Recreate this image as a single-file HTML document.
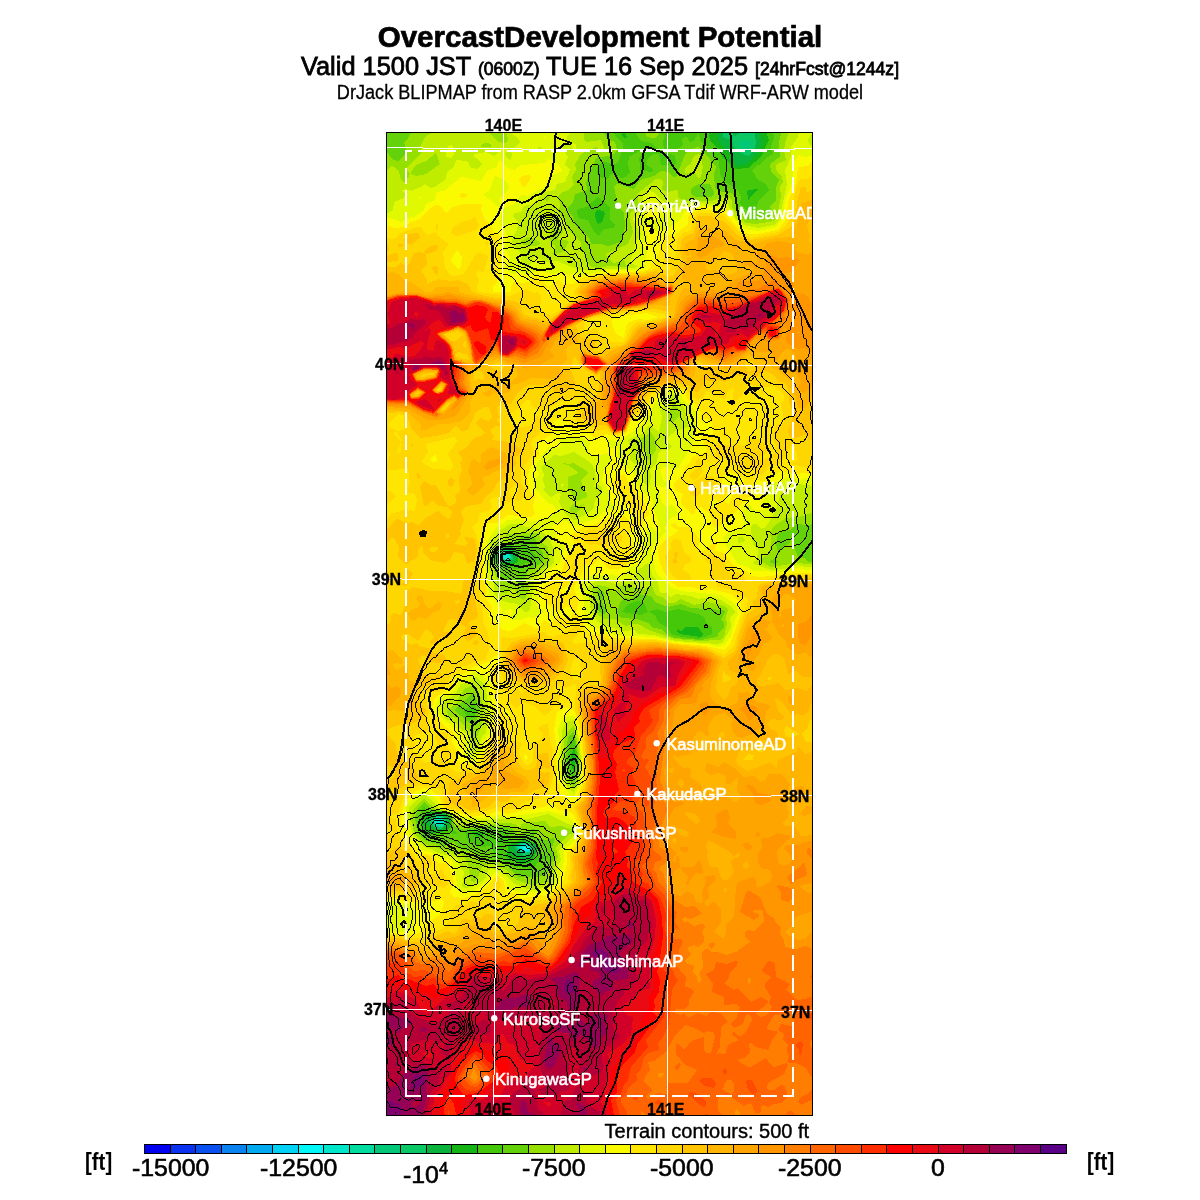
<!DOCTYPE html>
<html><head><meta charset="utf-8">
<style>
html,body{margin:0;padding:0;background:#fff;}
body{width:1200px;height:1200px;position:relative;overflow:hidden;font-family:"Liberation Sans",Arial,sans-serif;color:#000;}
.t{position:absolute;white-space:nowrap;line-height:1;}
#title{left:0;width:1200px;text-align:center;top:22px;font-size:30px;font-weight:bold;transform:scaleX(0.984);-webkit-text-stroke:0.7px #000;}
#sub{left:0;width:1200px;text-align:center;top:53px;font-size:26px;transform:scaleX(0.977);-webkit-text-stroke:0.8px #000;}
#sub small{font-size:18px;}
#sub2{left:0;width:1200px;text-align:center;top:82px;font-size:20px;transform:scaleX(0.906);-webkit-text-stroke:0.3px #000;}
#map{position:absolute;left:386px;top:132px;width:425px;height:982px;border:1px solid #000;background:#ffb400;overflow:hidden;}
#map svg{position:absolute;left:0;top:0;}
.lbl{font-size:16px;font-weight:bold;-webkit-text-stroke:0.3px #000;}
#cb{position:absolute;left:0;top:0;}
.cbl{font-size:24px;top:1156.2px;transform:scaleX(1.035);transform-origin:0 0;-webkit-text-stroke:0.6px #000;}
.ft{font-size:24px;font-weight:bold;top:1150.2px;transform:scaleX(0.85);transform-origin:0 0;}
</style></head>
<body>
<div class="t" id="title">OvercastDevelopment Potential</div>
<div class="t" id="sub">Valid 1500 JST <small>(0600Z)</small> TUE 16 Sep 2025 <small>[24hrFcst@1244z]</small></div>
<div class="t" id="sub2">DrJack BLIPMAP from RASP 2.0km GFSA Tdif WRF-ARW model</div>

<div id="map">
<svg width="425" height="982" viewBox="387 133 425 982">
<g shape-rendering="crispEdges">
<rect x="381" y="127" width="437" height="994" fill="#00f8f8"/>
<path fill="#00e6c8" fill-rule="evenodd" d="M816 1120l-436 0l1-993l435 0l0 993zM529 850l0-3l-3 0l-3 0l0 3l6 0z"/>
<path fill="#00dca0" fill-rule="evenodd" d="M816 1120l-435 0l0-993l435 0l0 993zM506 560l4-3l-2-4l-2-1l-4 2l0 3l4 3zM442 824l2-2l-3-4l-5 1l-3 3l3 3l6-1zM528 852l3-2l-3-5l-4-1l-5 3l3 5l6 0z"/>
<path fill="#00c878" fill-rule="evenodd" d="M816 1120l-435 0l0-993l435 0l0 993zM509 560l2-3l-3-6l-4 1l-3 2l0 3l3 3l5 0zM441 827l3-3l0-4l-3-3l-5 0l-4 5l4 4l5 1zM530 852l2-5l-4-3l-7 0l-4 3l4 6l9-1z"/>
<path fill="#0ac864" fill-rule="evenodd" d="M816 1120l-435 0l0-993l361 0l6 9l4-9l64 0l0 993zM750 150l1-6l-3-6l-2 3l-6 1l-2 2l3 3l7 4l2-1zM510 560l2-3l-4-7l-4 1l-4 3l0 3l4 4l6-1zM442 827l3-3l0-4l-4-4l-5 0l-6 6l6 6l6-1zM531 852l2-5l-5-4l-7 0l-6 4l6 7l7 0l3-2z"/>
<path fill="#0ab43c" fill-rule="evenodd" d="M816 1120l-435 0l0-993l342 0l0 10l8 3l5 11l12 5l6-6l2-6l-1-10l2-7l59 0l0 993zM738 135l-4 1l-3-4l0-5l7 0l2 5l-2 3zM513 560l0-3l-5-8l-4 1l-5 4l0 3l5 5l4 0l5-2zM444 827l3-7l-6-5l-5 0l-7 7l7 6l5 1l3-2zM529 854l3-2l1-5l-5-4l-7 0l-7 4l10 9l5-2z"/>
<path fill="#14b414" fill-rule="evenodd" d="M816 1120l-435 0l0-993l338 0l-1 13l6 8l9 9l2 7l3 2l10-3l10-11l4-8l0-4l-2-6l2-7l54 0l0 993zM514 562l2-2l0-5l-5-7l-7 0l-6 6l1 6l5 3l4 1l6-2zM574 764l0-9l-2 5l2 4zM442 830l7-6l1-7l-4-3l-12 0l-10 8l10 7l8 1zM527 860l8-10l1-3l-3-3l-9-3l-13 6l0 6l13 7l3 0z"/>
<path fill="#46c80a" fill-rule="evenodd" d="M816 1120l-435 0l0-993l327 0l1 10l2 5l7 7l6 10l4 2l4 6l4 2l12-1l13-11l8-17l-3-8l1-5l49 0l0 993zM627 137l-1-3l-2-1l-3 1l3 4l3-1zM749 202l1-5l8-8l-10 1l-1 2l2 10zM602 222l3-8l-1-3l-6-1l-3 2l0 5l3 7l4-2zM514 564l4-2l0-8l-1-2l-5-5l-12 0l-5 5l-1 5l5 7l9 2l6-2zM700 637l3-3l-5-7l-12 0l-5 4l-3-2l-1 3l2 2l21 3zM574 772l2-12l-2-13l-4 13l4 14l0-2zM440 832l6-1l5-4l0-10l-7-5l-13 0l-7 3l-3 7l3 10l4 2l12-2zM481 837l4-5l-13 0l2 3l7 2zM504 840l-3-3l-2 3l2 1l3-1zM531 862l6-10l1-5l-1-3l-13-4l-15 4l-3 13l15 7l10-2z"/>
<path fill="#64d20a" fill-rule="evenodd" d="M816 1120l-435 0l0-993l230 0l5 10l7 7l0 3l-5 16l-4 1l-10-2l-6 3l-1 9l4 4l7 1l3-5l3-1l7 5l5-1l4-5l-2-8l1-7l12-7l3 2l-5 5l1 10l0 3l4 1l7 1l3-2l-8-6l3-7l5-3l5 0l2 11l13 0l2-1l0-4l-2-5l-13-3l-1-2l-9-7l-10-2l-10-14l34 0l1 5l-3 10l1 7l2 2l8 0l7-4l2-3l-1-4l2-3l3 0l3 5l4-1l4-7l-10-7l16 0l-5 7l1 6l19 22l1 12l4 7l14 9l3 7l-1 7l8 8l8-3l2-7l11-12l-3-6l-8-4l-6-10l4-4l5-2l5-6l7-4l-2-7l3-10l-1-5l3-5l40 0l0 406l-3 4l3 11l0 36l0 536zM600 234l4-5l10-1l1-4l-5-4l0-13l-12-10l-12 10l-8 2l-1 3l1 5l3 2l7 1l6 12l4 4l2-2zM520 567l6-4l10-1l0-6l-5-5l-5-9l-4 0l-4 6l-7-3l-13 1l-5 6l0 8l5 7l20 2l2-2zM705 637l7-3l0-7l-5-3l-3-7l-6-3l-20-5l-12 3l-10-3l-8 3l-4-9l-6-2l-10 3l-6 8l19 3l7-3l3 1l5 3l2 6l10 6l3 6l5 2l22 3l7-2zM474 717l3-7l-3-6l-10 6l1 4l3 3l6 1l0-1zM574 780l4-20l-4-23l-4 7l-3 16l2 12l5 9l0-1zM434 837l7-1l7-3l7 1l3-2l-7-2l1-3l0-10l-6-5l-15-2l-3 2l-4-6l-5 11l1 15l6 6l8-1zM535 867l3-5l11-5l-1-1l-7 0l-2-2l1-7l-4-5l-12-4l-10 3l-4-1l-2-8l-8-2l-9 1l-15-2l-11 3l2 8l3 2l11 5l10-1l5 11l18 9l17 3l4-2z"/>
<path fill="#96e000" fill-rule="evenodd" d="M816 1120l-435 0l0-969l5 0l7 9l5 1l8-7l0-4l-2-8l4-4l3-5l5-1l2-5l176 0l2 4l8 2l4 6l7 3l2 8l-6 6l-13 1l-2 1l-10 24l1 8l-12 4l-2 8l-5 5l0 3l5 7l1 7l15 13l2 7l10 0l7 2l13-4l4-15l-1-15l-3-2l-4-10l-3-13l2-3l2 0l16 5l6-9l14-4l7-5l7 1l6 5l2 0l8-20l4-7l10-3l11 10l2 5l5 5l-2 7l1 13l3 4l13 2l5 4l0 10l8 6l3 7l9 0l12-3l5-5l-3-5l6-7l0-13l3-7l-8-8l-1-8l10-7l-1-15l4-15l33 0l0 397l-10 1l-8-1l-2 0l-5 6l-7 0l-6 4l-2 10l2 8l3-1l3-4l5-3l2-5l3 0l0 8l4 10l6 1l4 4l8 0l0 558zM656 138l-5 0l-5-2l-2-9l17 0l-1 5l-4 6zM711 197l3-3l0-2l-4-8l-11 0l-6 3l-2 3l0 4l5 3l15 0zM524 590l0-10l4-9l15-9l0-10l-6-5l-1-7l-2-3l-10-1l-10 6l-16 2l-6 8l0 5l9 21l3 2l12 1l4 3l4 7l0-1zM778 562l-2-3l-2 0l-5 3l5 2l4-2zM607 612l-5-10l2-5l0-5l-6-2l-1 2l3 10l-2 2l0 7l6 3l3-2zM702 640l14-3l2-2l1-3l5-5l0-4l-3-3l4-8l-1-2l-33-2l-10-4l-13 3l-13-5l-4-6l-13-2l-7 5l-7-1l-3 3l-4 11l4 6l15 1l12 4l6 5l7 1l5 5l8 4l28 2zM474 727l6-17l-6-18l-20 18l20 17zM574 784l5-24l-5-28l-6 5l-3 23l3 17l4 7l2 2l0-2zM535 877l11-2l2-3l6-15l-2-10l2-5l0-4l-8 2l-14-3l6-5l-4-3l-6 1l-10 6l-2-4l-8-5l-27-1l-17 3l-8-1l-2-2l-1-9l-7-6l-14-1l-8-8l-5 5l-4 10l1 7l1 8l7 8l20 6l4-1l6-3l7 8l10 1l10 8l13 1l12 5l12 12l17 0z"/>
<path fill="#c0ec00" fill-rule="evenodd" d="M816 1120l-435 0l0-948l5-1l5-5l3 1l5 5l2 8l3 2l2-1l4-7l-4-4l1-3l15-15l-2-5l5-10l8-5l-1-5l54 0l2 5l10 10l6 1l3-1l1-2l-1-6l-6-3l-3-4l91 0l-5 5l0 8l2 2l15-2l4 10l-4 0l-5-3l-2 1l-13 6l-6 10l1 6l-4 7l2 8l-6 5l-6 2l-4 5l2 7l-1 8l11 20l11 10l0 8l3 3l2 9l5 5l7 1l10-2l19 1l-3-7l-10 3l-7-6l-1-3l22-10l5-12l-4-15l2-5l8-5l-2-13l19-15l5 0l2 3l-1 8l6 2l8-2l2 2l0 5l6 4l27 0l15-5l6 4l0 7l10 13l4 3l10 1l18-3l3-4l4-20l-1-10l3-5l-1-5l-5-5l-1-5l1-3l9-4l-2-10l2-10l3-8l0-5l27 0l0 369l-4 4l1 12l-9 4l-18 2l-12 8l-4 6l1 8l-1 12l-2 3l-5 2l-1 3l0 2l9 5l27-4l18 2l0 555zM654 130l-4-3l7 0l-3 3zM491 147l0-3l-5-1l-4 1l-1 3l10 0zM426 174l14-10l-4-11l-10 8l-10 4l-5 7l0 2l5 2l10-2zM701 177l-3 1l-4-7l-8 3l-2-2l2-5l5-3l2-7l5-3l3 3l2 10l-2 10zM549 200l1-3l-2-1l-3 1l1 4l3-1zM555 254l8-2l6-10l-3-2l-8 0l1-3l4-5l-1-2l-6-3l-5 3l-2 7l2 5l4 5l-1 6l-4 1l5 0zM540 244l0-2l-2-1l-10-4l-8 5l4 3l12 1l4-2zM674 422l7-8l-2-4l-5-7l-7 14l1 5l6 0zM649 460l7-10l1-8l-6-10l-12 8l0 2l2 5l5 5l1 8l2 0zM580 500l7-3l0-3l-3-4l-3-10l7-6l0-2l-14-9l-6 1l-4-1l-2 1l6 1l10 7l-2 2l-8 3l0 13l4 4l2 8l6-2zM574 514l4-2l6-8l-6 2l-4-3l-4 4l0 5l4 2zM524 600l2-3l3-7l0-10l21-18l-2-15l-7-5l-2-8l-3-1l-29 1l-2 3l1 3l-2 1l-6-1l-7 12l0 8l6 20l1 10l3 3l5 0l8-5l4 9l6 3zM720 640l4-3l3-13l-1-7l2-7l-4-4l-16-4l-14 3l-13-6l-7 4l-6 0l-4-5l-8-3l-5-11l-5 5l-10-1l-10-4l-7 3l-5 5l-6-5l-10-2l-4 2l-2 3l3 22l9 7l10 0l12 7l8-2l4 0l13 7l25 8l22 2l22-1zM476 740l5-13l3-20l-6-17l-4-5l-10 4l-8 15l-9 6l1 6l8 2l15 14l3 10l2-2zM575 787l3-7l2-20l-3-20l-3-14l-9 8l-2 26l1 12l3 10l7 7l1-2zM538 884l10-2l3-2l3-16l4-7l-2-10l13-13l5-1l0-3l-13-4l-10 1l-4-3l-1-3l-2 0l-20 2l-3 1l0 3l-3 1l-2-4l-8-1l-52 2l-5-11l-5-3l-9-1l-13-11l-9 8l-3 7l-1 6l3 12l4 6l6 6l40 12l4 8l3 17l3 1l3-2l5-13l9-4l15 7l10 10l15 5l7-1z"/>
<path fill="#e0f800" fill-rule="evenodd" d="M446 132l-2 0l-3-5l9 0l-2 4l-2 1zM816 1120l-435 0l0-201l7-2l2-3l-9-3l0-715l3 8l0 8l4 1l5-3l1-8l10-4l1-4l-3-4l4-1l5 2l10-4l3-3l7 4l4-1l11-8l1-7l7-5l2-7l10 1l2 1l3 6l7 1l4-5l-4-5l-4-2l0-3l12-2l8 4l2-1l5-7l3 0l4 2l-3 4l3 5l3 1l1-6l-2-4l8-5l2-3l-2-4l-6-4l0-7l6 0l3 2l5-1l47-1l0 3l-6 7l1 5l-4 2l-2 3l6 10l-3 7l5 6l-5 12l-8 2l-2 6l-11 2l-11 12l-9 2l-3 6l-7 1l-1 4l5 5l0 2l-1 6l-4 7l-1 5l2 5l8 7l-1 8l3 5l5 0l5-10l2-1l8 6l14-1l13 6l10 3l43-1l15-2l-8-4l-1-3l4-8l1-10l6-8l-8-14l1-3l9-10l0-10l5-6l6 1l9 10l8 6l13-2l10-3l22 1l8-3l2 1l11 18l7 5l14 3l16-3l5-5l8-36l-2-14l6-13l0-10l7-10l2-10l16 0l0 4l-5 3l-3 6l1 4l7 6l0 334l-2 2l-16-2l-6 3l-4 6l-7 0l-6 19l-9 15l-5 2l-5-5l-2 0l-3 2l0 4l2 14l5 6l-1 10l-4 2l1 2l17 6l13-1l14-4l8 2l10 0l0 553zM574 150l-3-7l5 1l0 4l-2 2zM451 158l-5-1l0-3l2-8l3-1l2 2l1 7l-3 4zM542 147l-4 0l0 2l3 0l1-2zM649 487l2-10l-1-7l7-8l1-8l3-4l7 0l4-3l-5-7l1-3l8-6l13-4l-5-20l-10-14l-4 4l-4 8l-6 5l2 7l-3 15l-8-6l-3 0l-4 7l-16 7l3 10l-1 10l4 4l5 0l3 3l3 5l-2 10l6 5zM576 520l12-7l6-6l1-7l6-5l1-8l-4-2l-4 2l2-7l-1-10l-3-6l-8-6l-10-6l-13 4l-7-1l-13 12l3 7l-1 6l2 7l-2 3l8 7l7-4l3 1l-2 8l6 12l9 6l2 0zM561 488l0-4l3 0l-3 4zM816 490l-1-3l1-2l0 5zM784 508l-5-1l0-3l6 3l-1 1zM527 612l3-2l4-28l7-10l8-5l5-5l-1-15l-3-7l-9-10l-15-3l-8-3l-7 0l-11 6l-10 14l-2 18l1 8l5 11l0 11l4 7l8 3l12 2l6 8l3 0zM744 542l1-2l-2-3l-5 0l0 6l6-1zM723 642l8-15l-1-10l5-5l-3-5l-11-7l-10-3l-13 2l-7-3l-15-2l-5 3l-5-4l-5 0l-2-3l-1-8l-5-5l-5-14l-10 7l-2 2l0 5l-2 2l-18 5l-18-5l-10 8l3 25l7 10l8 4l18 5l10-1l5 4l15 1l22 6l42 3l5-2zM477 752l5-15l4-5l3-22l-4-26l-9-7l-7 5l-8 2l-5 9l-14 11l0 6l4 9l10 4l5 7l7 4l3 18l3 2l3-2zM574 792l6-10l1-22l-2-20l-5-20l-8 2l-4 8l-1 30l4 22l3 6l6 5l0-1zM535 890l13-4l7-4l2-15l4-7l-2-10l15-14l2-4l-2-6l-6-2l-20-10l-20 5l-72 1l-4-6l-6-4l-8-2l-2-4l-12-10l-15 13l-1 13l5 14l11 13l7 2l7 4l17 4l3 3l2 7l4 5l-2 15l4 1l8-2l7-4l5-5l2-7l3-1l10 2l7 6l6 7l7 2l5 3l9 1zM394 907l-5 0l2 1l3-1z"/>
<path fill="#fafa00" fill-rule="evenodd" d="M546 140l-3-3l3-1l0 4zM816 1120l-435 0l0-189l27 1l5-2l0-8l3-8l-4-7l-4-3l-4 1l-13-4l-10 4l0-688l13 2l7 3l7-4l6-1l10-7l2-6l9-4l1-8l8-1l17-14l20 4l7-11l9-3l1-6l3-1l5 7l8 3l7-5l23-2l4-4l3 1l5 2l6 8l-2 2l-9 4l-6 11l-9 4l-8 5l-7-1l-7 9l-10 4l-3-2l-2-6l2-4l6-4l2-5l-2-5l-3-2l-8-4l-2 1l-4 13l-7 4l19 16l-2 14l5 6l2 7l0 5l-3 5l6 10l-3 10l1 5l6 2l7-2l7 3l6-3l7-2l10 4l13-2l4 3l6-2l10 2l24-5l28 0l10-3l-3-5l3-5l1-5l-6-8l5-2l2-5l-4-10l4-2l8 6l10-1l14-10l4-8l14-6l26 1l20 22l14 2l18-4l7-10l2-17l8-18l0-8l-1-7l2-5l4-7l6 2l7-1l5 1l0 321l-10 0l-5 2l-15-2l-8 5l-4-1l-3 2l-7 6l3 7l-6 5l4 5l0 3l-11 0l-6-6l-6 10l2 8l0 4l-6 4l-10 2l-5 5l2 7l13 20l8 2l8 5l30 1l14-4l8 2l10 0l0 550zM421 200l-3-3l3-1l0 4zM656 220l-8-2l-3-4l3-11l3-2l8 3l4 6l-5 9l-2 1zM725 644l6-8l4-16l3-6l-1-7l-6-6l-10-6l-40-4l-11-4l-14-15l-5-20l3-9l12-11l-1-5l3-7l3-2l8-4l-5-8l-3-2l-3 4l-7-6l-1-8l-4-3l0-5l10 1l2-3l-5-4l-3-10l4-3l10 3l4-2l15-24l1-10l3-7l-3-7l2-6l-2-4l-9-8l-6-10l-6-2l-6 2l-9 8l-6 7l0 5l-6 5l-3 7l-19 14l-6 3l-10-1l1 7l2 1l5-1l2 3l-1 7l19 20l2 10l15 13l0 7l8 23l-3 3l-2-1l-5-5l-3 0l-3 10l-4 4l2 9l-3 12l-2 3l-7 2l-13 10l-5-3l-9 2l-6-2l-7 2l-10 7l-2 4l5 13l0 12l3 10l4 5l10 2l13 6l40 2l22 5l32 2l10 3l7-3zM519 620l9-3l6 1l10-6l0-2l-6-2l-2-2l3-12l-2-7l9-15l13-8l5-14l0-8l-3-1l-3 4l-2-5l0-8l-5-5l5-5l5-1l5 0l8 5l4-1l8-3l10-3l10-9l7 0l2-3l-5-7l-2-10l-6-10l3-13l8-7l-1-3l-6-4l-10 4l-5-2l-3-3l2-8l-1-2l-5-3l-13-3l-10 2l-2 2l2 7l-5 1l-8-1l-13 20l4 7l-1 3l-5 3l1 7l13 15l8 5l2 5l-16 9l-15 0l-8-2l-10 1l-14 10l-7 12l-2 20l4 32l14 16l-1 4l2 2l3-2l-3-2l1-2l6-1l2 3l-3 5l4 3l5 0zM618 449l-1-2l1-1l0 3zM475 760l8-13l1-7l5-6l1-10l5-14l-4-13l-3-15l-4-7l-8-3l-2 0l-6 5l-10 5l-4 9l-16 9l-2 10l8 10l10 6l10 12l1 9l-1 7l1 3l9 4l1-1zM574 797l7-15l1-25l-6-37l-2-4l-8 0l-5 5l-3 9l2 20l-2 10l2 17l11 20l3 2l0-2zM536 892l12-2l11-8l1-8l4-12l0-12l10-8l4-10l-4-10l-6-5l-20-6l-40 6l-10-2l-7 3l-20 0l-13-2l-18-9l-2-6l-10-9l-4-1l-8 4l-10 11l0 18l4 13l11 13l10 2l10 6l11 2l4 14l1 13l1 4l6 2l10-2l14-11l6-7l4 0l8 7l2 7l3 2l13 4l12-1z"/>
<path fill="#ffe600" fill-rule="evenodd" d="M816 1120l-435 0l0-186l20 0l7 1l13-2l3-6l6-3l2-4l9-6l3-12l-3-4l-5 3l-8 0l-4 2l-20-2l-10-3l-13 4l0-672l6 0l1-5l6 3l11-1l6-5l7-2l13-12l5-3l5 1l5 7l7-6l11-3l18 0l-1 6l4 10l6 4l3 8l7 5l-6 10l7 7l-4 18l-1 10l-4 5l0 5l18 0l0-5l3-6l7 2l7-1l8-5l5 1l7 9l10-7l6 4l10 0l4-5l18-5l42-2l9-2l4-3l0-3l5-4l8-23l4-2l6 1l7-7l7-4l0-8l2-3l11-5l23 3l17 19l7 3l8 0l22-4l10-13l0-15l8-19l2-16l10-1l3-4l5-1l0 314l-12-2l-8 1l-15-3l-17 10l-8-1l-2 3l-4 14l-6 3l-8 12l-10 7l-3 5l-6 3l-3 0l-2-3l-2-10l-9-7l-5 2l-2 5l-3 0l-10-10l0-4l2-6l-8-4l-1-6l9-10l2-7l5-5l2-5l14-5l1-2l-6-13l3-2l7 2l2-3l-1-10l-4-5l-8 1l2-6l-6-10l-8-4l-4-9l-8-3l-8 0l-13 9l-7 7l-4 10l-13 7l-4 11l-6 4l-7 0l-8-2l-10 4l-5-3l-3-4l-10 0l-2-1l-5-7l-13-4l-4 2l-2 13l-16 10l3 10l-7 10l-5 13l3 15l5 5l-2 10l2 7l-4 3l-23-2l-12 8l-8 0l-7 11l2 10l0 36l4 10l-2 7l7 10l-4 10l3 3l5 2l5 7l7 2l3 0l13-8l12 5l3-1l5-7l7 4l7-10l2 3l4 1l4 1l3-1l2-6l-2-4l-5-1l-8 5l-13-10l-2-15l5-5l3-8l11-4l6-17l7-6l-1-5l-4-5l1-3l15-8l10-2l15-7l7 3l6-5l7 8l3-3l0-3l-4-5l1-6l-7-2l-6-14l-5-6l0-2l5-7l6 0l2 2l3 7l14 16l6 12l0 2l-5 6l-1 4l-2 3l-7 0l-5 5l4 20l-2 10l-7 5l-6 2l-10 0l-7-10l-3 1l-7 6l-5-2l-2 1l-2 9l-8 13l1 5l4 8l-3 12l12 21l6 2l10-2l10 5l42 1l18 4l32 3l18 4l6-6l11-30l0-10l-10-10l-20-5l-7 1l-13-3l-13 0l-9-7l-6-10l-4-10l-1-13l7-7l12-8l1-2l-6-3l-1-3l3-1l4 4l12 0l10 13l-2 7l3 4l6-1l4-6l5-1l1 1l-3 6l10 3l10 13l12 5l5 5l10 1l35-4l20 0l0 547zM524 188l-5-8l2-3l8-3l2 3l-1 3l-6 8zM464 198l-5-1l2-4l7 1l-4 4zM461 267l1-10l-4-6l-2 0l-5 9l5 7l2 2l3-2zM550 292l-2-5l-1 5l1 2l2-2zM624 337l3-13l1-1l10-4l10 1l11-3l-13-4l-33 4l-1 7l4 10l8 4l0-1zM740 430l1-3l-5 0l0 3l2 1l2-1zM436 462l1-2l-1-5l-2 0l-4 5l2 2l4 0zM740 487l3-3l1-4l-3-4l-10-3l-5 0l-4 4l0 5l4 6l14-1zM729 504l4-10l-5-2l-2 2l-1 6l1 3l3 1zM716 507l2-5l-2-3l-4 1l-3 2l2 5l3 2l2-2zM568 594l3-4l-3-4l-8 4l4 5l2 1l2-2zM477 764l10-17l1-7l5-6l0-7l4-5l3-12l-10-36l2-7l6-3l0-9l-4 1l-6 6l-14 5l-10 7l-8 1l-4 12l-16 10l-3 5l-1 8l2 3l10 13l9 6l-1 10l6 10l-1 8l4 3l5 0l8 3l3-2zM575 802l8-20l0-25l-5-37l-4-9l-8-4l-9 5l-3 18l3 20l-2 7l2 10l-1 13l4 7l0 7l11 10l4-2zM510 717l1-3l-3-4l-4-2l-2 2l4 7l4 0zM527 760l1-4l-3-2l-1 3l1 3l2 0zM532 897l6-2l8 1l17-14l4-18l0-12l7-6l6-14l-6-17l-6-4l-10-1l-3-3l-1-4l-3 0l-7 4l-20 3l-16 4l-10-3l-10 4l-17 1l-20-5l-8-4l-3-10l-9-7l-7-2l-10 4l-8 8l-3 7l-2 13l0 7l5 13l8 7l4 7l10 0l6 3l4 6l10 0l6 19l-4 10l4 5l10 1l12-4l10-6l8-10l4-2l6 6l2 11l8 0l7 5l11-1z"/>
<path fill="#ffd700" fill-rule="evenodd" d="M388 817l-2-3l2-15l-2 1l-1 4l-4 2l0-289l5 5l5-9l8-1l7-3l8 2l1-1l2-10l-2-6l-8-2l3-10l-2-13l-20 1l-7 6l0-6l5-3l4-13l-4-6l-5-1l0-29l3-4l-3 0l0-175l5-1l8 1l5-5l17-7l5 0l5 7l2 1l8-3l0-8l2 0l0 5l-2 3l3 5l10 7l-6 8l2 15l4 7l5 2l10-2l12-20l2-1l8 1l2 3l-4 15l-6-1l-2 3l3 6l-2 7l1 5l33 4l15-7l8 4l4-1l3 4l0 6l-3 8l7 4l6 1l6-3l14-11l5-1l-2-8l1-2l6-8l10-4l17-4l33-1l17-5l8 2l4 0l1-4l-7-4l0-5l4-1l6 3l3-7l0-10l2-5l5-5l7-1l3-14l4-4l13 0l13 3l17 18l10 4l27-6l7-5l6-10l1-13l6-21l3-4l7 0l8-3l0 294l-26-6l8-4l-4-16l-3 1l-5 11l-5 4l-1 4l-12 2l-3 6l-4 3l-4-3l-3-6l-6 4l-7 0l-5-3l0-6l-5 1l-5-4l-8 0l-2-4l-1-10l1-1l10 2l12 0l6 1l2-1l2-6l10 0l7 5l2 6l-1 4l-7 3l2 3l5-2l8-4l3-7l-5-10l3-10l1-2l8-2l0-3l-3-16l3-4l0-5l-5-5l-5-4l-8 1l-18-2l-4 6l-3 6l-7 5l0 5l-2-3l2-16l-6 2l-2 7l-2 2l-5-2l-5-5l-8-1l-2 6l-6 3l-6-3l-6-9l-12-2l-6 1l-15 5l-12 20l-7 2l-9 18l-11 3l-8-6l-10 2l-8-6l-10-2l-3-6l3-14l5-6l-2-2l-5 4l-8 0l-7 2l-17 10l-10-3l-3-4l0-3l-2-1l-3 0l-6 7l-8 5l-3 5l2 7l7 3l13-1l3-4l2-6l2 0l2 4l0 14l-6 4l-3 4l2 12l-12 16l0 12l5 9l-1 6l-7 4l-4-1l2-2l2-11l-2-2l-2 0l-5 5l0 2l4 8l-9 4l-3-2l-3-6l-7 3l-1 3l2 5l-4 4l-7 1l-2 2l-1 8l-6 5l3 5l5 15l-3 25l1 12l3 6l-1 7l1 10l2 5l0 10l5 10l2 15l-5 13l-11 2l-8 4l-10 1l-5 7l-3 9l-4 3l-3 4l-3 2l-10 0l-3 2l4 18l-2 8l1 10l-14 6l-1 4l2 4l-2 8l11 11l17-4l3-2l-9-20l3-4l6-1l5 2l-4 8l0 2l6 8l-4 8l2 7l9 6l8-4l10 1l4-3l6-13l6-7l6-18l8 11l14 2l2 2l-3 6l0 4l5 10l4 1l5-5l1-16l6-4l3-6l-4-4l0-3l9-4l2 19l3 8l-1 7l2 10l-1 10l-4 15l-11 7l-12 2l-10 7l-10 2l-8-3l-12 4l-15 2l-7-3l-16-1l-2-2l-5-18l-20-4l-10 3l-7 7l-6 19l-7 0l-3 3zM458 236l-2 0l-5-3l2-6l11-6l7-1l3-4l5 8l-1 4l-4 3l-16 5zM488 247l-3-3l1-3l2 2l0 4zM624 342l7-15l3-3l4-2l13-1l13-3l2-1l-1-3l-17-3l-24 2l-28 4l-12 5l0 9l2 2l8-5l2 0l5 7l5 2l4 5l14 0zM764 395l-3-1l0-3l3 0l0 4zM748 412l-7 1l-2-1l5-2l4 2zM401 452l0-10l1-2l-5-8l7-3l0-7l0-6l-6-2l-10 10l3 5l6 1l-4 4l8 8l-4 10l1 2l3-2zM726 437l-2 0l-3-3l5-1l1 1l-1 3zM451 470l2-3l0-3l-5-10l10-14l-4-3l-28 7l2 8l-6 10l2 2l10 5l17 1zM694 480l-3-1l-1-5l5-4l1-10l2-1l4 3l0 10l-4 6l-4 2zM711 462l-4 0l1-2l3 2zM788 464l-1-2l1-1l0 3zM698 496l-4 0l-4-2l-1-4l5-8l10-6l10 1l2 3l0 6l-12 2l-6 8zM384 507l-3 1l0-18l10 1l5 6l-12 10zM606 547l-10-3l-8 1l-7-8l7-7l13 0l5-3l8 7l7 1l2 2l-2 5l-3 1l-4-2l-8 6zM688 581l-10 0l-7-7l-6-17l6-9l0-6l3-3l7 1l3 12l7 5l0 5l-6 2l-2 6l7 4l1 6l-3 1zM816 1120l-435 0l0-184l20 0l7 2l16 0l4-4l16-6l6-8l0-8l6-7l8 0l7-4l7 2l6-7l12 0l3 4l7 2l2 4l3 1l7-5l8 0l12-2l10 0l6-7l15-11l-1-5l2-10l0-13l6-8l6-14l-8-25l5-7l6-18l-2-38l-4-24l-4-10l1-25l-2-1l-8 4l-2 0l-3-4l-5 1l-3 5l7 4l0 3l-2 5l-10 12l-4 1l-10-9l-10-4l-3 1l-3 5l-4-1l-6-7l4-6l2-4l4-2l3 5l3-1l-3-5l-7-3l-4 0l1 6l-3 1l-4-1l1-8l-5-10l2-10l-1-25l10 1l33-6l4 4l6 1l14-6l8-6l2 0l3 5l-3 4l-6 6l2 4l20-2l10-5l7 3l43 0l20 4l32 3l18 8l10-9l6-22l7-17l1-7l-1-3l-9-2l-4-5l-17-3l-1-6l-6-4l-1-3l5-7l-7-5l-2-2l1-3l5-3l10 3l4 5l3 9l13 2l7 9l43-6l25-1l0 545zM574 571l-3-4l5-10l2-2l1 2l-5 14zM624 562l-6 2l-4-2l2-3l2 0l6 0l0 3zM580 680l2-3l-2-13l3-4l-7-2l-2 1l-4 11l4 10l6 0zM414 897l-10 0l-8-3l-15 4l0-63l3-1l7 0l2-2l-7-8l-5 4l0-10l5-3l2 3l8 1l1 11l5 12l8 8l6 11l5 0l3-4l4-1l3 2l1 6l-6 6l0 5l2 1l3-2l7 0l3-6l2 2l1 4l6 8l-2 3l-4 3l-18-4l-4 3l-4 7l-4 3zM498 893l-5-9l5-5l3 5l-3 9zM507 924l-3-2l-3 2l5 2l1-2z"/>
<path fill="#ffc300" fill-rule="evenodd" d="M471 562l-3 2l-2-3l-2-7l-10-2l-4 8l-6 3l-10-2l-4-1l-7-8l0-5l-2-1l-3 4l0 7l-12 7l-8-7l1-10l-5-9l-3 0l-4 4l0 8l-6 4l0-26l5 2l2-1l8-10l2 0l8 4l7-1l5 3l9-8l11-6l10 8l3-2l1-5l-4-5l-10-1l-4-5l-3 0l-5 5l-2 0l-4-19l4-6l7 4l5 0l12 21l3 0l6-4l-2-5l1-3l4-2l-1-15l3-7l-2-8l3-2l-5-8l8-4l8-10l7-2l4-4l-9-8l2-4l3-2l7 3l4-4l-3-10l-5 0l-8 5l-8 18l-7 1l-5-5l-8 7l-12 3l-15 2l-9-8l-6-17l-8-1l-7 1l-10-2l0-145l15 1l5-4l5 3l3-2l4-10l5-2l6 1l2 1l1 10l-6 6l6 10l0 4l11-5l13 2l7-1l10 4l4 8l9 3l37 7l6 13l22 6l5-2l20-16l8-3l2-3l-4-5l1-2l4-6l9-4l17-5l33 0l15-4l12 6l6-2l8-15l-2-8l1-10l3-5l10-4l4-17l13 0l7 4l6 1l14 15l13 4l27-5l13-8l5-13l1-12l4-15l5 0l0 6l10-5l0 253l-7-1l-5-5l-8 3l-6-1l-2-5l6-18l-5-12l-1-15l-2-3l-8-3l-4-6l-8-4l-5 1l-5 5l-2 0l-6-4l-1 1l-6 2l-10-2l-3 6l-4 2l-6-2l-4 2l-8-2l-8 12l-3 0l-7-7l-12-1l-8 1l-10 4l-7 0l-13 19l-4 3l-8 19l-2 2l-10 2l-8-9l-8 0l-14-5l-2-3l0-3l8-10l4-7l4-3l2-20l-4 1l-12-6l-10-13l-3 14l5 14l-1 3l-19 6l-5-5l-10-3l-13 0l-10 7l-7 12l-10-1l-4 4l2 10l-3 3l5 4l0 3l-5-1l-6 4l4 7l-2 3l19 2l13 10l-9 5l1 7l-13 16l-5 2l-6 10l-6 4l-5 8l-15 2l-4 4l-1 2l3 8l-4 12l1 2l-4 6l-2 4l11 2l1-4l-3-5l10 1l3 12l-3 12l-3 0zM411 245l-3-1l-1-2l1-8l10-1l2 4l-2 3l-7 5zM386 252l-5-1l0-7l5-1l2 1l1 6l-3 2zM401 247l-3 0l0-3l6 0l-3 3zM431 253l-5 1l-2-2l4-5l8-2l2 2l-1 3l-6 3zM386 262l-3-2l3-4l10-3l2 2l0 6l-12 1zM436 275l-5-8l5-1l2 2l0 6l-2 1zM603 352l5-4l16-3l4-5l5-10l5-5l18-3l14-5l-1-5l-13-3l-42 3l-23 5l-14 7l-1 3l5 11l15 2l-1 7l-5 5l11 1l2-1zM457 340l6-6l-5-3l-13 3l1 3l5 4l3 0l3-1zM466 347l0-7l-2 2l-1 2l1 3l2 1l0-1zM469 360l-1-5l-10-3l-2 2l0 3l13 3zM499 372l5-5l-2-3l-4-2l-6 2l-1 3l8 5zM703 367l0-3l-5-3l-1 3l1 5l5-2zM755 370l1-3l-3-5l-5-2l-2 2l-1 2l3 8l7-2zM484 380l0-6l-5-4l-5 2l0 9l4-2l6 1zM716 372l-2-2l-1 2l3 0zM424 377l2-2l8 0l0-2l-11 1l-3 3l4 0zM442 390l-1-5l-5 5l2 1l4-1zM419 394l-1-2l-3 2l4 0zM445 410l6-8l-5 2l-5 6l4 0zM414 445l-3 1l0-2l3 1zM418 479l-2-5l2-2l3 5l-3 2zM454 485l-3 2l-3-2l0-5l3-2l4 2l-1 5zM450 537l-1-3l-3 0l0 4l4-1zM601 540l-4 0l-2-3l7 0l-1 3zM434 552l4-2l0-3l-7 0l-2 3l2 2l3 0zM678 562l-4 2l-2-2l3-5l-1-3l2-3l2 3l-2 6l2 2zM384 585l-3 1l0-17l5-1l2 3l2 6l-2 5l-4 3zM406 585l-2 1l-3-2l7-4l-3-6l1-3l2-1l4 2l1 2l-4 6l-1 4l-2 1zM404 733l-3-3l1-3l-1-3l-15 6l-5-7l0-101l7 2l3-2l0-8l3-1l7 2l5-11l0-12l7-5l18 4l15 0l15 3l3-14l2-2l2 1l6-2l0 9l-3 1l-3 5l6 3l4 19l-2 5l-5 1l-3 4l7 6l2 4l-2 3l-7 4l-2-1l-3-3l3-10l-10-7l-5-1l-3 1l-5 12l10 0l-5 7l-7-3l-5 7l-5 1l-1-2l4-5l-3-5l-5-3l-8 12l-10-7l-4 0l-4 3l11 8l5-2l5 4l7 1l6 5l10 2l3 5l-3 3l-6 0l-7-1l-7-7l-4 2l-2 3l3 7l-2 5l2 2l13 4l4-5l3 1l1 3l-11 7l-10 5l-2 13l7 8l-1 4l-7 7l-7 3l-5 8l-2 1zM816 1120l-435 0l0-13l0-168l20-1l10 4l15 1l8-6l14-6l6 3l2-1l2-3l2-8l4-3l7 1l5-4l5 2l5-4l5 0l4 3l-4 7l6 6l4 1l7 0l10-7l3-14l7 0l3-3l7-3l10-1l6-6l19-15l-2-5l2-10l-1-10l5-7l7-18l-8-25l6-7l4-16l1-10l-2-30l-4-27l-3-7l1-13l2-5l5-5l5-2l7 1l2-2l1-4l-1-13l5-20l9-4l42-1l50 7l18 9l10-6l2-4l3-14l8-20l7-4l-1-8l4-5l1-10l2-3l16-3l40-3l0 142l-6 0l-2 7l-6 7l4 8l10 1l0 377zM460 602l-2-2l-4 2l2 2l4-2zM384 615l-3 1l0-9l5 0l2 3l0 2l-4 3zM538 688l-4-4l-16-2l-14-12l1-18l6-9l10-4l15-2l10 4l15 1l3 2l4 16l-5 12l-15 12l-8 0l-2 4zM476 645l-4-1l2-3l2-1l3 2l-3 3zM724 684l0-2l7-2l0-3l-6-3l-1-5l-2 8l2 7zM771 680l1-3l-4 0l0 3l3 0zM792 737l8-3l-14-8l-2 4l2 7l6 0zM388 790l-7 1l0-3l5-6l9-5l0-5l-1-4l-3-2l-10 1l0-13l0-10l5-7l2-1l7 6l2 12l4 4l9 4l8 15l-2 5l-8 1l-7 5l-7 0l-6 2zM476 810l-8 0l-7-5l-5 1l-8-5l1-17l2-3l5 0l12-8l8 0l5-2l6-7l1-7l6-5l4-10l8 4l7 1l1 10l7 10l5 3l5 0l5-3l2-13l8-1l2-1l2 15l-2 2l-4-2l-4 3l1 2l3 1l4-1l2 2l-1 8l-3 5l-12 3l-2 2l-8 4l-13 1l-5 5l-12-1l-5 6l-13 3zM762 752l2-5l-3-3l-4 6l1 2l4 0zM753 760l1-5l-6-1l-5 6l10 0zM408 892l-12-1l-15 3l0-37l5 0l3-5l9-5l5 3l4 4l1 3l-2 1l-2-1l0 4l14 13l4 6l-1 2l-7 8l-6 2zM441 883l-3-1l4 0l-1 1z"/>
<path fill="#ffb400" fill-rule="evenodd" d="M616 433l-2 1l-3-2l-7-14l-6 3l-7-3l-2-4l7-4l0-6l5-6l2-26l-2-1l-5 3l-12-7l-4-5l1-9l3-2l21 6l4-5l17-7l12-17l26-6l10-5l2-13l6-14l2-2l7 2l0-6l-8-4l-2-6l7-17l3 0l0-6l-3 6l-4-5l1-8l9-5l4-9l10-2l10 3l6-1l12 10l18 4l14-5l23-2l7-17l3-16l10-4l5 0l0 20l-5 0l-3 2l-1 5l3 7l-1 8l7 4l0 146l-4 2l-2 8l-6 6l-6 0l-2-11l-4-5l-1-11l-13-11l-4-1l-8-7l-12-6l-6-1l-12 11l-10 3l-8-5l-10-2l-7-4l-6 4l0 12l-4 4l-5 3l-18 2l-10 4l-10 1l-14 20l-8 22l-2 2l-8 1zM731 274l6-2l0-5l-5-13l-4-2l-4-1l-8 9l-10 4l0 5l2 2l8-1l8 6l7-2zM426 430l-5 0l0-6l-15-13l-25-2l0-126l7-10l3-1l7 2l8 8l5 0l10 7l3 3l8 0l4-5l22 0l2 5l5 2l41 8l10 6l8 11l12 1l10 5l18-16l19-12l-3-5l1-2l13-9l14-4l36-1l10-2l12 8l5 0l5 5l-1 5l-5 5l0 7l-2 2l-10-1l-47 7l-21 5l-19 10l-1 3l5 4l3 8l-10 4l-2 4l1 10l-8 7l4 7l-5 5l-27-1l-10 5l-7 1l-3-2l5-4l2-4l-3-7l-7-2l-10-6l-14 4l-12 9l-2 8l3 14l-3 10l0 8l-2 3l-7 6l-13 3l-10 0l-12 6zM472 362l-7-28l-7-5l-15 5l10 10l3 15l10 3l6 0zM428 377l6-1l2-4l-12 0l-6 2l-1 3l4 2l7-2zM488 397l-5-3l0-2l5-1l6-8l7 2l10-3l2 2l-3 8l-9 2l-7-1l-6 4zM439 392l5-5l-3-3l-6 6l4 2zM420 394l1-2l-3-1l-5 3l3 3l4-3zM444 412l10-12l-8 3l-4 4l-2 3l1 2l3 0zM474 496l-6-3l-1-3l5-6l-1-7l-3-5l3-11l3-2l4 4l3-1l0-8l10-7l15 6l2 11l-7 6l-7 2l-6 4l-6 1l3 7l-11 12zM816 1120l-435 0l0-13l0-166l20 0l23 7l7-1l13-8l14-3l7-6l1-4l2-1l16 3l14 7l13-1l10-4l5-4l8 1l14 7l3-4l-3-8l-2 0l-3-15l5-1l28-24l-1-25l4-5l7-20l-4-10l-3-15l5-7l4-28l-2-25l-5-40l3-13l7-4l7-1l5-5l1-17l5-17l7-4l40-3l30 6l15 0l10 3l10 8l1 2l-4 8l-2 17l1 5l7 8l4-3l3-10l6-3l2-7l-1-3l-9-4l-1-8l9-10l9-27l2-4l11-7l2-2l0-8l5-2l0-2l-4-8l0-5l4-2l38-2l12-3l0 101l-5-4l-9 0l-6-6l-5 1l-3 4l-3-16l-4-5l-7-1l-7 6l-1 4l-9 16l0 4l4 2l10-1l7-2l8 7l12-2l8 3l2-1l3-4l5-2l0 20l-5-1l-2 7l-5 5l-8-1l-2 3l-14-17l-4-2l-1 2l4 12l5 5l-3 3l-10-1l-3 5l3 6l5 1l4 11l3 2l-9 1l-10-5l-6-1l-7 8l-10 0l-5 13l2 5l10 6l23-9l5 6l1-1l1-7l18-8l2-5l8 7l5-2l5 1l0 22l-5 5l0 2l5 1l0 337zM416 620l-2 1l-3-1l-3-6l3-4l8-3l1-3l-4-4l2-5l5 2l1 7l4 4l5-1l3-4l2-1l4 2l-2 6l-6 2l-8 7l-8-2l-2 3zM544 680l-20 1l-16-12l-2-5l0-7l8-12l10-4l12-1l10 4l15 4l2 4l0 10l-12 15l-7 3zM408 712l-14-2l-13 3l0-58l10-5l3 1l8 9l1 2l-2 2l-5-1l-3 1l1 4l2 2l8-4l4 1l1 13l7 4l-4 13l2 5l-1 8l-5 2zM816 715l-3-3l0-2l3-2l0 7zM725 737l-1-5l-3 0l-2 2l-1 3l7 0zM702 747l-1-5l-3 1l0 3l3 2l1-1zM388 750l-1 0l1-1l0 1zM474 807l-2 0l0-5l-4-8l-5-4l-1-6l24-13l12-22l6 1l3 2l5 15l4 5l10 5l3 5l-1 5l-5 5l-12 0l-7 4l-10-4l-20 15zM721 750l-3-3l-1 3l1 1l3-1zM381 763l0-13l4 2l-4 11zM544 783l-6-1l1-2l5 0l0 3zM401 888l-15 0l-5-2l0-19l5-2l5 0l5-1l12 9l7 9l-4 3l-10 3z"/>
<path fill="#ffa500" fill-rule="evenodd" d="M816 210l-4-3l4 0l0 3zM701 258l-3 0l-1-4l1-17l8 1l8-2l10 6l0 2l-3 3l-7 1l-6 7l-7 3zM616 432l-2 2l-2-2l-6-10l-1-8l1-4l-4-6l3-32l-4-2l-5 4l-12-8l-2-2l-1-7l3-5l4 3l10 0l8 5l2 0l3-4l15-8l12-17l38-14l4-15l6-6l25-7l10 2l15-12l15-6l2-3l0-3l-9-1l0-3l7-3l7 3l-2-9l12-11l10-2l13 2l3 1l2 8l2 1l10 1l8-3l0 9l-4 2l1 2l3 1l0 13l-5 4l0 2l5 3l0 96l-4 4l-8 6l-6-2l0-4l3-5l-7-12l3-6l0-4l-3-8l-6-3l-4 1l-8 11l-2-2l-3-7l-10 0l-10-3l-15 12l-8 3l-4 0l-18-7l-5-1l-10 6l-1 10l-4 4l-10 2l-18 6l-10 0l-16 26l-7 20l-1 1l-8 1zM738 247l-4 2l-4-5l4-2l4 2l0 3zM441 420l-13 0l-22-12l-25-1l0-113l7 1l10-2l20 0l8 2l15-1l7-2l18 5l15 2l25 6l10 7l5 8l15 4l8 5l22-22l8-4l10-4l1-2l-3-5l2-2l7-6l7-3l30-4l26 0l10 7l7 0l3 3l-1 5l-2 3l-5 4l-12 5l-18 4l-22 2l-26 7l-15 7l-18 16l-1 4l-4 6l4 7l-13 7l-3 3l-10 0l-4 1l-6-5l-10-1l-10-5l-7 0l-5 2l-16 11l-2 10l3 12l-13 21l-2 3l-15 4zM473 364l-2-14l-6-18l-7-4l-16 6l10 13l3 13l6 0l10 6l2-2zM791 370l-5 0l0-4l5 1l0 3zM423 380l3-2l9-1l2-5l-1-2l-10 0l-9 4l-1 3l2 3l5 0zM441 392l3-3l0-5l-3-1l-7 7l2 2l5 0zM418 397l4-5l-4-2l-6 4l0 3l6 0zM446 412l10-12l-2-2l-8 4l-8 10l6 2l2-2zM488 470l-2 0l-2-3l4-6l10-2l3 1l2 2l-2 2l-13 6zM816 657l-6 0l-4-5l-8 3l-10-7l-3-8l-7-6l-4-10l-3-2l2-5l-3-10l3-10l7-5l-2-5l18-2l8 1l12-3l0 74zM782 610l9-2l5-9l-8-5l-4 0l-7 10l1 6l3 2l1-2zM782 617l-1-4l-2 1l1 3l2 0zM754 671l-6-1l-10-10l10-33l10-3l3-5l5 1l5 2l-6 8l7 7l-1 3l-8 4l-4 10l-5 6l2 7l-2 4zM784 627l0-3l-4 3l4 0zM536 677l-12 2l-13-12l-3-7l8-13l8-3l12-1l15 8l7 2l2 7l-6 9l-6 5l-12 3zM816 1120l-435 0l0-176l17-1l26 9l7 0l8-2l9-8l6 3l7-2l15-11l5 1l5 4l22 3l6-1l10-6l7-1l13 5l4 5l6-12l-4-20l4-6l11-7l14-15l-1-25l3-5l7-20l-5-12l-1-13l4-7l4-28l-7-62l2-10l3-5l10-3l7-8l2-17l5-13l6-4l18-4l20-1l30 5l12 0l10 3l10 7l0 2l-7 22l-1 10l1 5l3 3l10 7l14-7l0-9l6 0l4-2l8 11l11 2l3 3l-4 5l-2 14l-7 4l-6 5l-10 3l-4-1l-4-5l-2-8l2-4l-9-7l-10 3l-6 11l1 7l-2 3l-5-5l-4-1l-6 9l1 10l-2 4l-13 3l-4-2l-1 2l8 10l3 1l5-1l2 3l-1 7l11 7l1 6l-5 2l-2 5l3 5l3 1l3-3l4-8l10 4l10 1l6 5l2 0l5-5l-4-7l1-12l-2 0l-5 6l-5 0l0-7l-2-2l-6-2l-7 2l-5-3l-1-2l1-6l2-1l10 4l6-5l12 7l7 8l11-1l7 6l5-2l2-6l14 0l6 7l2 3l-5 16l4 14l-1 3l-5 5l0 2l3 2l8 0l7 10l15-1l0 285zM391 675l-5 0l-5-2l0-14l7 1l0 7l3 8zM816 667l-2-3l2-1l0 4zM386 707l-5 1l0-28l3 1l7 7l7-2l3 6l-1 5l-4 2l-5 7l-5 1zM791 705l-3-3l0-6l5 1l1 3l-3 5zM476 795l-2-1l-2-4l0-6l12-6l7 1l2-2l-1-5l6-16l5 1l3 14l15 8l3 3l-1 2l-5 4l-12 1l-10-6l-5-1l-5 2l-5 8l-5 3zM674 772l0-5l-6 2l1 3l2 1l3-1zM683 787l2-5l-4-3l-3 2l0 3l3 4l2-1zM801 795l-6-3l0-5l6-1l3 1l0 5l-3 3zM796 806l-5-2l0-2l4 0l2 2l-1 2zM808 815l-4 1l-4-2l6-8l5 0l2 4l1 2l-6 3zM700 822l0-2l-4-6l-10-2l-2 2l12 10l4-2zM816 830l-5-6l2-4l3-3l0 13zM689 834l-3-4l-10-2l-2-4l0 3l5 7l7 3l3-3zM676 842l0-4l-2-1l-2 5l2 2l2-2zM727 880l4-3l3-5l-3-10l3-4l4 0l2-4l-2-2l-4 4l-7-6l-19-10l-2 7l2 5l-1 5l2 7l2 3l7 0l3 11l3 2l3 0zM749 867l-1-6l-5 3l0 3l3 2l3-2zM406 882l-8 2l-17-3l0-6l7 3l10-5l8 7l0 2zM727 890l-1-4l-2 2l0 4l2 0l1-2z"/>
<path fill="#ff9600" fill-rule="evenodd" d="M614 433l-8-13l2-10l-2-18l1-22l-6-1l-5 4l-12-7l-2-2l-1-7l3-4l4 2l10 1l10 7l18-13l15-16l13-7l22-7l3-3l5-14l8-6l6-3l28-1l10-5l2-6l3-1l17 0l7-11l2-10l4-5l7 3l10-1l12 3l-9 12l-7 2l9 8l-1 10l12 2l5 3l1 5l6 0l0 42l-3 0l1 2l2-1l0 10l-12-7l-6 1l-10-5l-2-2l1-12l-3-3l-2 10l-4 3l-10 2l-12-3l-5 3l-5 10l-18 9l-4 1l-16-8l-7 1l-12 7l-3 9l-2 3l-36 8l-17 27l-1 8l-5 13l-11 3zM438 418l-2 0l-12-4l-16-8l-27 0l0-110l5 1l12-3l18 0l12 3l23-2l17 5l13 0l23 6l10 6l7 10l15 5l8 5l7-10l15-14l8-5l11-3l2-3l-2-5l1-1l12-9l30-4l23 2l5 1l5 4l5 1l5-1l2 2l0 5l-2 2l-20 10l-27 5l-11 1l-25 6l-7 5l-5 1l-26 18l-9 17l-15 5l-2 1l-8-4l-10-1l-10-4l-5 1l-15 11l-4-6l-1-10l-5-18l-8-4l-18 6l11 10l2 6l1 10l7 1l6 3l1 6l-3 12l4 10l-15 18l-3 0l6-10l-3-3l-8 5l-8 8l-1 2l4 2l-3 4zM799 334l1-2l-2-1l-1 3l2 0zM474 368l-2-1l2-1l0 2zM424 380l12-3l2-5l-1-2l-12 0l-10 4l1 6l8 0zM442 392l3-8l-4-1l-8 7l3 3l6-1zM419 397l4-5l-5-2l-7 4l0 3l8 0zM806 645l-6-1l-2-7l0-10l0-3l8-2l6-8l1-4l3-4l0 25l-3 1l-7 13zM748 658l-2-6l2-12l3 0l0-6l5-1l2 2l1 5l-5 4l-6 14zM528 675l-4 1l-8-7l-5-7l0-3l7-10l6-3l7 2l7-1l17 10l1 3l-8 8l-10 5l-10 2zM816 1120l-435 0l0-174l17-1l20 8l6 5l14-3l10 1l10-7l8-1l8-4l7 1l7-4l6 0l4 3l13-1l13-7l4 0l6 1l14 14l10-21l-4-18l1-5l11-7l17-18l-3-22l4-8l5-20l-3-10l-1-15l3-7l3-30l-6-60l4-10l12-8l6-8l2-14l6-13l6-6l15-3l22-1l28 4l14 1l11 5l4 5l-4 13l-9 9l1 6l-5 4l-1 8l-6 2l-10 0l-7 6l-1 14l-4 8l3 8l-3 7l0 13l-5 10l1 10l4 14l5 8l7-1l4 3l-11 4l-7 14l2 10l-2 12l10 10l-3 2l-1 6l3 0l0-5l2-2l2 5l-1 2l2 5l-8 5l-2 15l3 8l7 1l5-5l8 4l2 7l5 1l2-1l-1-10l4-10l-2-5l10-2l2 5l-8 7l1 10l-5 5l2 4l2 0l5-4l3 1l5 7l0 12l-7 10l10 7l2-7l0-8l8-7l2-30l2-5l16-5l2 3l0 6l2 2l10-5l3-3l1-6l-2-4l-9-2l-3-6l0-8l4-7l-1-9l7 0l10-5l13 3l-14 14l0 2l1 11l6 3l4-2l4-4l-2-6l-5-4l-1-3l2-2l12 0l6-3l7-1l5 4l0 65l-20 7l-3 7l-7 8l2 3l10 5l6-1l7-6l5 2l0 185zM706 715l-2 1l-4-9l0-3l4-2l3 0l3 5l-4 8zM751 720l-3 0l-4-8l-4-2l1-3l7-3l9 3l1 3l-7 10zM761 805l-5-1l-4-12l-6-5l2-3l6 3l4 6l8 1l3 3l2 3l-2 2l-8 3zM734 839l-10-2l-13-5l6-5l-1-13l8-4l2-1l2 2l2 6l-2 7l8 8l0 5l-2 2zM758 838l-3-4l3-2l2 2l-2 4zM751 850l-5 0l-4-6l6-2l4 5l-1 3zM686 853l-6-3l0-3l8 0l0 3l-2 3zM688 885l-2-1l2-7l-7-7l0-3l13 0l4-6l3 0l2 11l-2 2l-5-1l-4 4l-4 8zM814 892l2-2l-5-7l-10 2l-1 2l8 6l6-1zM816 929l-2-2l2-3l0 5z"/>
<path fill="#ff7d00" fill-rule="evenodd" d="M436 417l-12-5l-16-8l-27 0l0-105l17-4l18 0l12 3l28 1l10 3l8-2l7 0l25 9l7 5l4 8l19 9l5 5l10-13l14-13l9-7l12-3l3-6l-2-2l11-8l10-3l20-1l26 2l11 5l6-2l2 2l0 5l-2 2l-20 9l-27 6l-13 0l-35 13l-22 13l-11 9l-5 9l-12 6l-2 0l-8-3l-8 2l-7-1l-5-7l-5 3l-15 12l-3-5l-1-10l-6-19l-8-4l-20 7l12 10l3 6l1 10l7 2l4 5l-2 17l5 8l-2 3l-8 5l-4-3l-8 4l-8 9l-2 2l2 2l-2 3zM614 433l-7-11l0-5l3-17l0-33l6-7l10-7l12-14l10-7l28-10l5-5l5-11l10-8l5-1l25 0l5-3l16-2l4-3l7 0l16-9l3 2l13 18l-2 10l-4 4l1 6l-5 4l0 13l-2 2l-10 0l-4-5l-6 1l-8 7l-4 9l-12 3l-8 5l-2 1l-13-7l-10 1l-14 8l-3 7l-4 3l-34 8l-15 27l-1 10l-5 13l-11 3zM596 373l-14-9l0-7l2-3l4 2l10 0l10 8l-12 9zM425 380l11-3l2-7l-14-1l-10 5l2 6l9 0zM442 392l4-8l-5-2l-8 8l3 3l6-1zM419 397l5-5l-6-3l-8 5l1 4l8-1zM526 672l-2 0l-6-4l-5-8l5-8l6-3l14 3l12 8l-6 7l-18 5zM814 1120l-433 0l0-171l17-1l17 6l4 6l5 2l7-3l7 0l13 4l7-7l16-7l10 0l7-2l5 3l5 0l25-10l5 1l7 9l10 6l3-2l7-14l3-10l-2-23l8-5l20-20l-4-10l0-10l8-30l-3-25l4-25l1-18l-6-54l4-8l14-12l4-6l2-12l5-12l8-8l34-4l40 5l14 7l-3 12l-12 12l-6 13l-10 2l-12 11l1 4l-6 18l1 10l-5 38l4 10l-2 10l4 4l1 6l-7 22l-1 15l10 5l-3 11l-6 4l0 3l4 4l1 8l9 18l12 7l8-1l7 6l0 2l-10 5l-7-2l-2 3l2 2l4 0l6 4l7-2l3 0l1 3l-3 5l2 5l0 5l-6 5l-4-2l-6 2l0 3l3 4l-6 6l1 3l8 3l-1 6l4 5l1 6l4-3l-3-6l4-7l-1-15l2-2l4-2l3 4l7 0l8 3l10-3l14-10l-5-5l0-5l3-2l6 1l10-9l-1-12l-9 0l-2 2l7 2l0 3l-5 3l-14-8l6-20l2-2l12 7l7 17l7 4l2 5l5 4l-1 7l4 6l1 7l11 2l10-3l10 5l0 160l-3 1l-1 2l2 6zM816 862l-9-8l0-4l1-2l3 1l3 6l2 1l0 6zM794 882l-3 2l-4-7l17-14l1 1l2 10l-1 2l-10 4l-2 2zM788 902l-7-2l0-8l-4-5l1-2l13 3l4 9l-7 5zM714 947l-3 2l-2-2l0-3l5-2l1 2l-1 3zM751 982l0-3l-3-1l0 6l3-2zM477 1080l1-3l-4-8l-4 8l4 4l3-1zM662 1077l2-3l0-1l-6 0l0 4l4 0zM739 1117l1-5l-4-3l-1 5l1 3l3 0z"/>
<path fill="#ff6400" fill-rule="evenodd" d="M546 340l-2 2l-3-2l10-17l14-13l9-6l4-1l13-6l1-3l-2-2l8-6l10-3l20-1l23 2l10 3l11 0l0 5l-6 4l-30 10l-25 3l-23 7l-22 10l-5 5l-15 9zM614 432l-7-10l0-5l5-20l1-30l3-5l10-6l15-16l16-10l20-6l12-17l9-8l28 1l30-5l22-8l4 3l6 10l0 2l-2 8l-13 14l5 1l2 2l-2 11l-10 1l-1-2l-1-5l-2 0l-8 3l-8 7l-2 9l-12 1l-10 5l-10-5l-8 0l-17 8l-8 8l-6 4l-31 6l-4 14l-6 8l-3 7l-2 10l-5 13l-10 2zM434 414l-10-2l-16-9l-27-1l1-100l6-4l10-3l18 0l18 5l22 1l10 3l8-3l7 0l23 9l7 5l5 9l20 10l4 8l-2 5l-12 9l-2 0l-8-3l-8 4l-7-1l-5-10l-20 19l-3-5l-3-20l-4-9l-8-4l-20 7l12 10l2 6l1 10l7 2l2 2l-2 20l1 3l7 5l-10 7l-4-3l-8 5l-12 13zM598 370l-2 2l-13-8l0-10l15 3l9 7l-9 6zM425 380l11-2l3-8l-15-1l-11 5l3 6l9 0zM442 392l4-8l-5-3l-9 9l4 3l6-1zM420 397l4-5l-6-3l-8 5l1 4l9-1zM436 416l-2-2l2-1l2 1l-2 2zM534 667l-10 2l-6-4l-2-5l8-8l14 3l8 5l-2 3l-10 4zM724 1120l-66 0l-10-4l-7-5l0 3l4 6l-264 0l0-169l17 0l11 3l7 9l28 4l4 5l13-12l15-8l22 2l16-5l10-6l4 2l9 7l11 7l3-2l10-15l4-12l-1-8l1-15l25-25l-5-18l5-14l2-16l-2-27l4-25l0-18l-5-54l5-7l12-11l5-8l2-12l6-12l7-6l32-4l40 5l10 5l1 2l-3 9l-18 21l-10 5l-14 13l0 10l-7 14l3 8l-3 8l0 4l-2 16l2 4l-1 8l2 8l-5 20l4 12l-6 10l2 5l0 13l9 7l-1 3l-6 2l-2 8l4 4l1 8l6 5l9 23l4 2l-2 10l5 8l-4-2l-2 2l-1 7l3 2l5 0l2 3l-4 8l0 7l-4 7l11 13l-1 10l6 1l3 4l-5 8l0 4l-5 5l-8 0l-1 3l1 2l5 1l3-2l4 5l10-5l8 3l5-4l10 1l7 9l-7 5l-1 20l-4 8l2-2l6 1l2-2l2-7l11-5l-8-6l3-3l4 5l3 0l5-4l6-12l-1-4l-3-2l-2 1l-3 9l-9 4l-3-4l6-7l3-10l-4-3l-12 1l0-8l-12-5l1-8l-7-10l8-4l2-8l10 2l10-3l2 1l-2 5l-6 5l-2 8l-3 2l0 2l9 6l4-2l13 14l10-5l5 3l2 2l-1 2l-10 8l-1 2l5 3l5-1l5-6l1-3l-3-5l2-5l-6-10l0-3l6-7l-8-5l-1-2l6-9l5 1l2 2l1 13l14 7l-4 6l8 8l4 2l10-2l8-3l0 47l-5-2l-1 4l1 4l5 1l0 29l-5-1l-5-9l-10-5l-8 0l-1-1l2-5l-2-7l1-6l-5-4l1-6l-6-4l3-6l10 2l3-2l1-10l-1-1l-20 2l-7 12l1 3l8 1l2 1l-6 8l-4 10l-12-3l-5-4l-2 1l1 8l-6 6l-7 2l11 7l3 0l15-9l4 6l4 3l12-4l2 1l-4 10l-16 9l-1 4l1 3l6 0l7-5l3 1l3 6l0 5l-6 6l-7 1l-6 3l-4-2l-3 1l0 6l-5 2l-5-11l-7 3l-13-9l-5 0l-5-2l-3 5l0 10l6 7l1 3l-1 0zM814 980l-4-3l1-2l3 2l0 3zM651 1097l7-4l8 1l2-2l-2-5l2-4l20 0l9-13l-13-6l-3-4l-5-6l0-10l2 0l6 5l2-1l5-7l13-4l0 13l2 3l5 0l4-16l-1-4l-6-2l-4 2l-10-5l-8-3l-2 1l-10 11l-8 15l-12 9l-6 1l2 8l-5 7l-1 5l8 8l-6 7l2 2l3-2zM479 1082l4-5l-6-10l-3-3l-7 8l-1 5l8 7l5-2zM678 1070l-2 0l-1-3l3-4l3 1l-3 6zM706 1067l0-1l-3 1l3 0zM734 1092l0-8l-3-5l-3 1l-3 2l-2 8l8 4l3-2zM801 1105l-3-3l3-5l7-3l3-4l5-1l0 9l-15 7zM798 1120l-10-1l-2-5l2-3l3-1l9 10l-2 0z"/>
<path fill="#ff4b00" fill-rule="evenodd" d="M548 338l-2 1l-2-2l1-3l8-12l21-18l21-7l-2-5l8-6l7-2l20-1l36 5l8-1l0 5l-6 4l-30 10l-25 2l-23 7l-22 11l-18 12zM624 430l-10 2l-6-10l-1-5l6-20l1-30l4-5l8-3l5-9l7-3l6-7l10-7l9-3l17-3l13-20l5-5l10-1l16 3l12-1l42-15l3 2l7 10l0 2l-3 8l-15 14l9 3l-1 10l-10 1l-2-10l-10 6l-8 8l-2 8l-10 1l-2-1l-10 4l-8-4l-5 0l-23 9l-14 11l-33 6l-1 16l-7 8l-3 7l-1 10l-5 13zM434 414l-10-3l-16-9l-17 0l-10-2l0-93l6-7l11-4l18-1l18 6l22 1l10 3l8-3l7 0l7 2l20 10l2 3l4 9l20 10l3 6l-1 2l-10 9l-10-2l-8 5l-7 0l-3-9l-2-3l-2 1l-7 9l-11 9l-2-4l-3-19l-5-10l-8-4l-20 7l-1 1l12 10l3 6l0 10l8 4l-2 20l3 6l6 2l-9 6l-4-2l-8 4l-12 14zM544 341l-2-1l2-2l1 2l-1 1zM598 370l-2 1l-5-1l-7-5l0-10l14 2l6 5l2 2l-8 6zM426 380l10-2l3-8l-15-1l-11 5l3 7l8 0l2-1zM443 392l4-8l-6-3l-9 9l4 4l7-2zM420 397l5-5l-7-4l-8 6l1 4l7 0l2-1zM626 1120l-245 0l0-166l13-1l8 1l3 3l4 10l5 4l11-1l21 11l4-1l6-10l8-7l14-6l18 2l20-8l8-4l12 8l12 6l6-3l10-16l4-10l1-25l19-17l6-8l-6-18l5-17l-1-40l4-27l-2-38l-2-8l-1-24l17-17l5-9l3-12l8-14l24-6l30 1l23 5l4 4l-1 5l-18 23l-23 14l-4 6l0 10l-6 12l-7 5l0 10l-5 10l3 3l2-2l3 2l-4 7l6 10l-2 27l-3 3l-2-2l0-5l-3-4l-6 11l8 5l1 8l2 4l-2 8l5 8l0 10l2 7l-3 5l-5 2l-1 3l2 3l4 0l4 4l4 13l8 7l7 20l-2 16l4 14l-3 23l4 5l1 5l3 3l-6 10l-3 34l-6 13l-5 5l1 8l-11 3l-4 4l-3 12l-5 5l2 6l-9 7l-3 7l-5 6l0 2l6 10l0 8l-1 0zM534 665l-10 2l-6-7l6-6l2 0l14 6l-6 5zM811 1020l-3-3l1-3l7-2l0 4l-5 4zM801 1056l-2-2l0-4l-3-3l0-3l5-3l2 3l-2 12zM476 1087l12-10l0-3l-12-14l-2-1l-9 11l-4 7l10 9l5 1zM724 1075l-1-5l3-3l1 5l-3 3zM714 1088l-10-2l-4-4l1-4l10 0l3 2l2 4l-2 4zM756 1095l-3-1l-5-4l-2-8l1-2l4 0l2 2l4 8l-1 5zM706 1105l-2 2l-6-3l-10-10l3-2l7 2l8 8l0 3zM638 1100l-4 0l-1-3l3-3l2 2l0 4zM658 1105l-3-1l0-2l3-3l4 3l-4 3zM714 1120l-17 0l9-6l8 2l1 4l-1 0z"/>
<path fill="#ff2d00" fill-rule="evenodd" d="M548 338l-2 0l-1-4l6-10l15-14l8-6l24-7l-3-5l6-4l7-2l18-1l40 3l5-1l0 5l-5 3l-30 10l-25 3l-23 7l-22 11l-18 12zM624 430l-10 1l-6-9l0-5l2-5l0-8l4-7l2-17l-2-10l4-7l10-3l3-9l6-1l11-13l13-5l30-2l-3-6l0-4l10-15l13-2l13 4l12-1l35-15l7-2l3 2l6 9l-3 10l-9 10l-28 22l-2 8l-9 0l-2-3l-10 5l-6-3l-7 0l-30 13l-7 6l-26 3l-9 3l0 18l-6 8l-9 30zM434 413l-10-3l-16-9l-20 0l-7-3l0-88l3-1l1-7l3-2l10-4l18 0l18 6l22 1l12 3l6-3l4-1l10 3l20 12l3 13l13 2l10 7l0 4l-8 8l-2 0l-6-2l-10 7l-8-2l-2-11l-2-2l-4 3l-4 8l-12 9l-8-30l-10-5l-7 4l-13 3l-1 1l12 10l2 6l1 10l6 4l-3 16l2 7l2 3l7 2l-8 6l-4-3l-8 5l-12 13zM776 337l-8 0l-1-10l1-1l9 1l2 7l-3 3zM596 370l-12-7l0-6l12 0l8 6l1 1l-1 2l-8 4zM427 380l9-1l4-9l-4-2l-12 0l-12 6l4 7l8 1l3-2zM443 392l4-8l-6-3l-9 9l4 4l5 0l2-2zM421 397l4-5l-7-4l-9 6l2 5l7 0l3-2zM621 1120l-240 0l0-160l10 3l8-1l7 10l8 5l7-1l7 3l6-1l7 6l3 1l7-3l5-8l8-7l12-5l18 2l10-3l7 2l5-6l10-4l20 10l2 1l6-3l14-21l3-10l2-23l8-7l7-4l9-14l-3-8l-2-14l3-13l0-37l2-30l-4-70l16-13l6-10l2-13l9-14l22-6l30 1l20 3l3 2l1 4l-18 23l-35 23l2 7l2 3l-2 4l-10 12l-6 18l-8 6l0 2l0 2l7 4l-2 6l4 10l-4 16l-4 2l-7-1l-7 6l-1 3l13 2l9 5l1 10l7 13l0 14l-1 3l-6 3l-2 4l9 10l-3 6l2 2l6 1l4 7l8 7l3 7l3 10l-1 16l3 12l-2 12l1 8l-4 8l5 3l1 4l-8 25l4 10l-1 5l-18 23l2 7l-17 20l-3 13l-4 4l-3 10l-5 6l5 20zM524 665l-3-5l3-4l10 4l-1 2l-9 3zM625 772l0-2l-1-2l-2 2l1 2l2 0zM478 1090l13-12l1-4l-2-4l-14-15l-2 0l-5 5l-11 17l0 3l8 10l8 1l4-1zM449 1114l-1-7l0 9l1-2z"/>
<path fill="#ff0000" fill-rule="evenodd" d="M548 337l-2 0l0-3l5-10l15-14l9-6l26-7l0-3l-4-2l4-2l10-3l17 0l43 1l0 4l-20 8l-28 7l-12 0l-23 8l-22 10l-18 12zM621 430l-7 0l-5-8l-1-5l10-37l-3-10l3-6l13-2l1-2l-2-3l1-6l7-1l10-11l10-4l16-3l7 3l7 0l13-3l0-3l-7-5l-2-4l0-3l6-10l13-1l13 4l4-2l9-1l34-16l7-2l3 2l5 9l-2 10l-10 10l-5 2l-23 20l0 5l-2 2l-6 0l-4-3l-10 3l-8-2l-45 20l-13-2l-20 6l1 21l-7 8l-6 23l-2 6l-3 1zM434 412l-10-2l-16-10l-22 0l-5-4l0-84l3 0l2-10l2-2l13-3l15-1l15 5l3 2l22 0l12 5l8-3l10 2l2 3l-3 7l3 5l3 0l1-10l5 0l7 5l-1 15l21 3l7 5l1 2l-6 6l-2 1l-6-2l-10 8l-4 0l-3-1l-3-15l-7 1l-3-12l-12 4l-4-2l-1-5l-7 3l-6-2l-20 6l-2 2l12 10l3 6l0 10l4 4l-2 13l3 10l2 3l7 2l-7 5l-4-2l-3 1l-7 5l-10 11zM776 336l-5 1l-2-3l0-4l2-3l5 3l0 6zM484 355l-4-1l-6-9l0-3l4-1l8 5l0 6l-2 3zM596 370l-12-8l2-4l12 1l6 5l-8 6zM432 380l4-1l2-2l2-5l-2-4l-14 0l-12 6l4 8l8 0l8-2zM439 394l5-2l4-8l-7-4l-10 10l3 3l5 1zM422 397l4-5l-8-5l-9 7l2 5l7 0l4-2zM614 1120l-159 0l1-6l-2-10l-6-9l-4 12l1 13l-64 0l0-149l3-1l1 2l1 8l12-5l6 5l4-1l18 7l8-2l4 6l13-4l15-17l10-4l15 4l7-3l18 0l10-7l18 7l7 0l5-4l14-20l4-18l7-17l12-7l9-18l-6-10l2-8l-2-7l1-13l0-34l3-30l-3-38l-2-8l0-24l16-12l5-8l3-13l10-15l9-4l10-3l30 1l19 4l2 2l-19 25l-36 21l-5 9l1 5l-6 5l1 10l-4 3l-10 3l-7 7l-1 7l4 7l-2 8l4 18l-4 4l-1 8l-8 5l-3 7l3 4l10-1l8 4l10 11l2 5l-11 15l3 8l-1 7l6 5l-2 5l2 5l15 8l10 10l4 17l1 20l-3 20l0 5l-3 10l3 8l-1 12l-5 8l1 7l-2 5l4 5l-19 26l-4 11l-10 9l-7 11l0 18l-6 8l4 20l-1 0zM526 662l-3 0l1-3l5 1l-3 2zM618 852l-4-5l-2 3l2 4l4-2zM470 1094l8-1l17-13l3-10l-1-3l-11-7l-3-6l-7-3l-8 5l-8 8l-5 13l1 7l5 8l5 3l4-1z"/>
<path fill="#ea0a14" fill-rule="evenodd" d="M548 336l-1-2l5-10l14-13l8-5l17-6l10-2l3-2l4-2l-7-2l23-4l47 1l-5 5l-15 6l-17 4l-23 3l-23 7l-22 11l-18 11zM671 365l-13-6l-10 2l-14-2l-4-2l1-5l7-1l7-4l3-5l10-5l16-2l10 2l17-4l3-6l-8-4l-2-6l4-7l13-1l13 3l4-3l10-2l27-13l13-4l8 10l-4 10l-6 7l-28 22l-12 0l-2 5l-10 3l-8-1l-45 19zM434 411l-9-1l-13-8l9-3l7-7l-10-6l-10 8l-1 6l-21 0l-2-6l-3-1l0-78l4-3l3-10l3-2l10-3l15 0l15 5l3 2l4-1l18 1l12 6l1 4l-1 8l-4 5l-6-2l-7 3l-13 2l-3 4l13 13l5 17l-1 6l1 12l5 9l6 1l-6 4l-4-2l-8 4l-12 13zM508 355l-7-1l-2-17l2-4l5 2l10 0l12 5l1 2l-3 3l-2 1l-6-1l-10 10zM621 430l-7 0l-5-10l10-38l0-5l-3-7l2-5l23-1l1 0l-6 6l0 2l3 10l-1 8l-7 10l-6 24l-4 6zM442 394l3-2l3-8l-4-3l-7-1l4-8l-3-4l-14 0l-13 6l2 6l5 3l6 0l12-3l1 2l-8 8l1 2l6 4l6-2zM606 758l-5 0l-1-4l-3-20l1-24l17-10l5-10l1-11l7-7l7-10l3-3l13-2l25 0l15 3l2 2l-17 25l-10 6l-9 1l-6 6l-7 3l-10 9l-3 10l-7 9l-8 3l-1 8l-5 5l-4 11zM611 841l-3 0l-1-1l4-6l3 3l-3 4zM604 855l-3 1l-2-2l2-6l3 0l1 2l-1 5zM608 1120l-147 0l2-6l-2-12l3-3l17-3l10-9l7-2l11-13l0-12l-3-5l-8 1l-5-4l-19-6l-18 15l-6 23l-10 10l0 26l-59 0l0-129l6 1l4-7l3-1l17 4l5 6l10-1l4 4l6 1l15-8l9-10l14-10l17 4l20-4l10 0l5-4l12 5l13-2l13-12l21-40l6-2l0-8l7-11l8-2l-1-4l9-6l2-6l10 2l15 11l7 3l6 6l5 17l1 17l-6 23l2 7l-3 8l1 17l-5 8l0 10l-8 15l1 10l-11 18l-13 10l-7 14l-1 16l-3 12l4 15l0 3l-3 0z"/>
<path fill="#d20028" fill-rule="evenodd" d="M551 333l-1-3l3-6l21-17l34-9l5-4l-5-2l16-2l3 2l1 4l3-2l3-4l27 0l6 2l-19 7l-10-1l-4 4l-26 3l-1 2l-31 11l-25 15zM676 362l-9 0l-9-6l-10 2l-14 0l-3-4l2-2l5 0l6-3l10-1l1-4l-1-2l4-3l16-2l10 1l17-2l7-10l3 0l4 4l0 7l3 0l3-13l-5-2l-8 1l-10-2l-2-4l2-4l10-1l13 3l5-1l25-12l27-10l6 8l-3 5l-5 0l-2 3l-1 9l-7 3l-5 7l-13 10l-7-4l-5 3l-6 1l-1 5l-3 2l-10 1l-10 2l-30 15zM394 400l-6-1l-2-2l-2-7l-3 0l0-2l5-1l-5-1l2-14l12-18l3 0l10 3l6-1l5-4l5-8l-3-3l-15 7l-8-1l-17 4l0-32l5 5l3 0l1-2l-2-8l3-12l10-3l15-1l14 4l4 4l4-2l16 1l12 4l2 11l-4 5l-19 2l-4-6l-3-1l-5 2l-7 7l-3 1l3 1l2-3l3 2l-3 10l-1 7l1 3l6 1l1-9l3-2l8 4l3 8l1 25l2 7l6 8l-2 2l-8 0l2-10l-10-7l1-7l-3-3l-14 0l-15 7l2 6l7 4l-11 8l-2 5l-11 3zM420 314l-4-2l-3 2l3 3l4-3zM506 355l-5-3l0-18l3 1l12 1l2 4l-2 7l-10 8zM524 343l-2-1l2-2l1 2l-1 1zM621 428l-7 0l-4-8l10-38l0-5l-3-7l1-4l13 0l3 4l0 7l3 5l1 5l-11 20l-3 17l-3 4zM434 410l-10-3l-9-5l9-3l2 1l5 4l3 6zM438 402l0-2l3-3l1 3l-4 2zM618 722l-5-12l8-8l2-10l-1-10l2-2l7-4l10-14l7-3l10-1l20 1l7 3l-8 15l-1 7l-2 2l-13 1l-15 10l-5 1l-13-4l2 6l-5 7l1 7l-8 8zM608 741l-4 0l-6-5l0-16l0-4l3-2l4 3l3 5l2 12l0 6l-2 1zM604 1120l-139 0l5-6l-1-12l5-3l7 1l7-4l6 1l4 3l10-19l12-1l14-13l0-3l-3-2l-10-2l-7-15l-6-2l-4-8l-3-1l-4 8l-3 2l-16-2l-10-3l-4 1l-2 2l2 5l-7 5l-6 10l0 11l-6 7l-3 7l-7 7l-3 18l2 8l-53 0l0-124l7 1l8-6l10 3l10 6l7 12l3 1l9-6l9-9l7-2l10-7l13-15l10 3l20 1l10-5l17 2l17-2l18-12l8-16l13-18l8-5l1-8l-1-7l3-5l10-1l7-7l11-6l6 2l6 5l9 2l5 5l4 18l-1 17l-4 13l-4 7l5 7l-3 13l1 10l-2 2l-7 1l-3 1l-2 7l-12 6l-1 6l3 5l7 2l-2 17l-8 10l-16 10l4 8l-3 5l-3 23l-4 12l5 10l-1 8l-1 0zM433 1057l-2-5l-3-1l-4 1l-2 2l6 4l5-1zM549 1107l2-3l-2-2l-5 0l1 2l4 3z"/>
<path fill="#b40037" fill-rule="evenodd" d="M651 297l-3 0l-2-5l8-2l7 2l-10 5zM736 332l-10 0l0-12l5-3l7-7l10-6l10-2l10-5l8-1l2 1l1 3l-8 7l-5 9l-15 11l-7 3l-2 0l-4-5l-2 7zM456 325l-5 1l-3-1l-10-15l-7 0l-7-6l2-1l8 4l4-2l10 3l8-2l9 4l1 12l-10 3zM714 317l-8 1l-8-1l6-2l10 2zM391 345l-5 0l-5-5l0-9l15-5l2-3l6 0l7-4l7 1l6-2l2 4l0 2l-12 10l-3 6l-20 5zM571 320l-2 0l2-2l0 2zM554 330l0-3l4-1l1 1l-5 3zM508 353l-6-1l-1-16l15 1l0 8l-8 8zM686 351l-7-7l0-2l5-1l3 1l1 5l-2 4zM648 356l-7-2l0-2l8-2l2 2l-3 4zM446 376l-4-6l-6-4l-12 0l-10 5l-5-4l0-5l2-3l10 0l5-3l5 2l10-1l5 5l2 12l-2 2zM621 396l-3 0l0-6l5-13l-5-7l13-2l1 4l-7 5l0 15l-4 4zM398 374l-2 0l-1-2l1-2l3 2l-1 2zM651 690l-3 1l-17-2l-5-2l-1-3l11-6l8-3l-1-5l5-8l13 0l0 2l3 1l3-3l10 0l-6 2l-1 3l1 10l-3 2l-7-4l-3 1l-7 14zM428 1120l-47 0l0-39l10-1l-1-3l-9-4l0-69l5-1l8 1l4-5l8 2l2 6l8 10l12 4l6 4l2 0l5-6l5-1l2-4l1-4l-4-6l14-4l9-11l6-11l7 2l5 7l2 2l3-1l5-4l5 6l3 1l10-14l12 3l22-4l20-9l3-3l3-11l4-1l8-14l5-4l7-9l8 3l5-1l3-7l-1-16l5-7l6-3l4 0l8 6l8 0l3 2l2 2l0 8l3 15l-4 7l0 6l-7 6l-6 11l2 10l-1 7l3 6l-15 10l0 5l-6 5l-2 7l-4 5l4 8l0 2l-4 2l3 8l5 5l-16 12l-2 5l1 16l-2 3l-10 3l-13-3l2-11l-3-8l1-4l-2-3l-5 1l-3 2l-3 10l5 4l-4 13l4 5l0 5l-4 4l-5 0l-7 7l-10-2l-8-6l9-3l0-3l-5-17l0-13l-1-7l3-15l-4-10l-4-4l-10 2l-6-2l-4 2l-8-2l-15 3l-3-1l-3-8l-3 0l-4 3l-2-1l-3-4l0-8l-5-3l-5 3l-2 15l5 6l5 2l6-1l4-4l5 0l2 2l4 8l-1 2l-5 3l-8-2l-4 1l-16 1l-3 2l-7 20l-4-1l-3-4l8-15l-1-2l-2-1l-3 3l0 5l-2 1l-13-4l-14 4l-3 1l-1 6l-5 4l9 7l7 0l7 3l8 7l2 1l6-5l2 3l-5 2l-3 12l-6 6l-5 22l1 8zM604 913l-3 1l0-7l3 0l1 3l-1 3zM539 992l-1-4l-2-1l-2 2l0 3l5 0zM551 1010l5-6l-5-5l-3 1l-2 10l2 1l3-1zM557 1077l-1-2l-2 2l3 0zM541 1120l-24 0l-7-18l1-7l15-11l3 0l6 6l3 20l5 2l0 8l-2 0zM598 1120l-39 0l5-18l2-2l5 0l5-13l2-1l8 8l1 8l4 5l10 5l-3 8z"/>
<path fill="#960055" fill-rule="evenodd" d="M766 312l-2 1l-2-1l4-3l0 3zM461 322l-10 1l-1-9l-2-2l8-2l2 4l6-2l1 8l-4 2zM758 318l-1-1l1-3l4 0l-4 4zM414 328l-3 1l-3-5l3-1l3 1l0 4zM511 345l-3-5l6-1l0 5l-3 1zM444 369l-6-4l-6-1l-1-2l10-1l3 2l0 6zM416 370l-3 0l1-6l4 1l1 2l-3 3zM631 930l-3-2l0-4l3-4l3 4l-3 6zM601 995l-7-6l-2-5l2-4l4-1l2-5l-1-2l-9-2l1-8l-7 1l-3 5l-3-1l4-13l8-10l11-3l7-5l23-1l2 7l-12 9l-1 3l6 8l3 12l-1 5l-14 1l-2 2l1 8l-7 1l-5 4zM574 1010l-6 1l-1-9l-8-5l-3-15l-6-2l6-3l7 0l11-5l5 2l1 6l-1 4l0 10l-2 13l-3 3zM511 1010l-13 1l-4-1l10-12l12 0l10-4l4 3l0 7l-3 3l-11 0l-5 3zM391 1046l-10-6l0-28l15 5l12 1l4 4l-4 5l-4 0l-6 7l-2-1l-5-5l-3 1l-1 5l4 3l2 5l0 2l-2 2zM598 1047l-2 2l-15-14l-7 6l-3 0l-1-7l-2-1l-10-1l-2-1l1-7l7-3l7 6l5-3l0-4l2-3l8 7l3-2l5-9l12 2l2 2l-3 7l2 8l-6 7l-3 8zM454 1024l-3-2l3-3l1 3l-1 2zM424 1032l-3 0l0-4l3-1l4 3l-4 2zM551 1068l-3 1l-2-2l-2-5l4-24l3-1l3 5l7 4l0 4l-6 14l-4 4zM396 1067l-2-3l2-2l2 2l-2 3zM421 1120l-40 0l0-13l0-21l13 1l5-5l4-8l18-8l4 1l5 10l-4 10l1 10l-4 13l-1 10l-1 0zM586 1071l-3-1l3-4l2 4l-2 1zM416 1107l5-5l-2-2l-7 2l0 5l4 0zM538 1120l-15 0l-3-10l1-8l3-2l2 2l2 10l8 3l2 5zM578 1120l-12 0l8-6l4 0l2-2l0-2l-4-6l2-2l8 6l1 4l-1 3l-8 5z"/>
<path fill="#80006e" fill-rule="evenodd" d="M616 973l-8-1l-6-5l-2-3l2-4l-12-6l4-4l4-2l9 4l1 2l0 6l11 7l1 3l-4 3zM571 993l-5 0l-2-3l1-8l3-3l3 1l3 6l0 5l-3 2zM416 1090l-5-3l3-10l2-3l8 2l0 6l-8 8zM394 1120l-13 0l0-22l17 6l3 3l1 5l-8 8z"/>
</g>
<g fill="none" stroke="#000" stroke-linejoin="miter" shape-rendering="crispEdges">
<path stroke-width="1" d="M706,237 701,236 701,236 701,235 705,231 706,230 707,226 706,225 705,226 701,230 699,226 700,222 696,221 693,218 692,215 691,213 689,208 692,205 695,208 696,210 701,209 703,208 706,208 707,204 708,200 706,197 703,195 705,190 701,187 700,186 701,185 704,182 706,179 706,177 708,172 710,171 711,168 711,164 714,160 718,159 714,157 713,154 713,150 714,148 719,150 719,151 722,154 724,155 726,159 726,164 726,168 726,172 725,177 724,181 723,182 724,182 725,186 726,190 727,195 727,200 726,204 725,208 724,211 720,213 719,214 715,218 719,222 719,222 719,222 718,226 714,231 714,231 710,233 709,236 706,237 M593,209 591,208 589,204 588,203 586,200 586,195 584,191 583,190 582,186 580,183 577,182 580,180 582,177 583,172 584,172 584,168 585,164 588,159 588,158 593,154 593,154 593,154 598,155 600,159 602,162 603,164 604,168 604,172 605,177 605,182 605,186 605,190 605,195 604,200 602,203 602,204 598,207 594,208 593,209 M386,800 386,798 388,794 387,789 388,784 388,780 390,776 391,776 394,771 395,768 396,766 399,762 400,759 400,758 402,753 403,748 403,744 403,740 403,735 403,730 404,727 404,726 405,722 407,717 407,712 407,708 408,704 408,703 411,699 412,694 413,691 413,690 416,686 418,683 419,681 421,676 422,673 422,672 426,668 426,665 429,663 431,660 433,658 436,657 438,654 440,652 443,650 444,648 449,646 451,645 454,644 457,640 458,640 462,636 463,636 467,635 472,633 476,633 480,635 481,636 483,640 485,642 490,644 491,645 494,649 495,650 498,651 503,652 508,651 512,651 516,650 516,649 517,650 519,654 521,656 523,654 524,650 526,647 530,646 534,650 534,654 533,658 534,659 536,658 535,654 539,653 542,654 541,658 544,662 545,663 548,664 551,668 552,669 556,672 557,673 559,672 562,671 564,672 566,673 570,675 575,675 578,676 580,677 580,676 581,672 584,669 586,668 586,663 584,662 580,659 579,658 575,655 574,654 570,653 566,650 562,650 561,650 558,645 557,640 557,640 554,640 552,641 552,640 548,639 544,640 544,641 539,641 538,640 539,639 540,636 539,633 538,632 539,631 540,627 539,626 536,622 537,618 539,615 540,614 540,609 539,604 539,604 535,600 534,600 530,598 527,600 526,602 523,604 521,606 517,609 516,612 516,614 513,618 512,619 512,618 508,616 503,615 498,614 496,618 498,622 499,622 498,623 494,625 492,622 493,618 490,614 490,612 487,609 485,607 483,604 480,602 477,600 476,599 475,596 473,591 474,586 475,582 476,578 476,578 477,573 478,568 479,564 480,562 481,560 482,555 483,550 485,548 487,546 490,543 491,542 494,538 496,537 498,535 503,534 508,533 508,532 512,528 512,528 516,527 521,524 523,524 526,521 526,519 526,518 521,517 519,514 516,512 514,510 513,506 512,501 512,501 512,501 514,496 516,492 516,491 517,488 517,483 516,482 512,478 514,474 512,470 512,470 512,469 513,465 512,460 513,456 514,452 514,447 515,442 516,438 516,435 517,434 517,429 519,424 521,421 526,420 526,420 526,420 521,416 521,416 521,415 522,411 521,410 519,406 517,402 521,398 522,398 526,393 526,393 529,388 530,388 534,388 539,387 544,387 548,385 549,384 552,380 554,380 557,378 559,375 562,372 563,370 566,369 570,369 575,368 580,368 582,366 584,364 586,362 585,357 584,356 582,352 580,348 580,344 580,343 575,343 572,339 575,336 577,334 580,333 584,331 588,330 588,329 591,326 593,321 596,326 598,327 600,326 601,321 598,321 593,321 593,321 588,322 587,321 584,320 580,318 575,320 570,318 566,319 564,321 562,324 560,326 557,328 554,326 552,325 549,321 548,319 545,316 544,313 541,312 540,308 539,306 534,307 531,308 530,308 529,308 526,304 521,304 520,303 521,301 522,298 523,294 522,290 521,288 518,285 516,282 515,280 512,277 510,276 508,275 503,274 498,273 497,272 494,270 492,267 492,262 491,258 491,254 491,249 492,244 492,240 490,236 489,236 490,235 494,234 498,233 500,231 503,228 506,226 508,225 512,224 516,223 521,226 521,227 521,226 522,222 525,218 526,217 527,213 529,208 530,208 534,204 534,204 539,200 542,200 544,199 548,195 548,195 548,195 552,196 557,197 560,200 562,202 563,204 566,208 566,209 568,213 570,217 571,218 573,222 575,223 578,226 580,229 582,231 584,234 586,236 585,240 588,244 589,244 590,249 591,254 593,258 593,259 596,262 598,263 599,262 602,260 606,262 606,263 607,262 608,258 611,254 611,254 616,251 616,249 619,244 620,243 622,240 622,236 624,233 626,231 626,226 626,222 627,218 628,213 627,208 628,204 629,204 634,200 634,200 638,196 642,195 643,195 647,193 649,190 652,186 654,186 656,186 656,186 660,190 660,191 664,195 665,197 667,200 669,204 670,208 670,208 670,213 671,218 674,222 673,226 674,230 674,231 674,232 672,236 674,239 675,240 674,241 670,244 669,244 670,245 673,249 674,250 678,250 683,250 688,250 692,249 692,249 692,249 696,250 701,250 702,249 706,247 708,244 708,240 710,236 711,236 714,231 715,231 719,228 722,231 722,236 724,237 726,240 728,244 729,244 732,245 737,246 741,249 742,250 746,250 750,252 755,253 755,254 760,258 761,258 764,259 768,262 769,262 773,267 773,267 777,272 778,272 782,276 782,276 785,280 786,282 788,285 791,289 791,290 793,294 795,298 796,300 796,303 798,308 800,312 800,313 801,316 801,321 802,326 802,330 803,334 804,338 806,339 806,344 809,348 809,348 809,352 809,354 808,357 804,361 804,362 804,362 807,366 804,369 804,370 804,372 806,375 807,380 809,383 809,384 809,387 809,388 809,390 809,393 809,398 810,402 811,406 811,411 810,416 811,420 812,424 813,429 813,434 813,438 814,439 815,442 814,447 814,452 814,452 812,456 811,460 810,465 809,466 807,470 809,471 811,474 809,478 809,478 807,483 806,488 805,492 808,496 804,501 804,501 804,501 807,506 804,509 804,510 804,513 805,514 805,519 806,524 809,528 807,532 806,537 804,540 802,542 800,544 796,545 792,546 791,547 789,546 786,546 785,546 782,549 780,550 778,553 777,555 775,560 775,564 776,568 777,573 776,578 774,582 773,585 772,586 768,589 766,591 766,596 764,596 760,600 760,604 760,606 755,606 750,607 750,609 746,611 742,611 740,609 737,604 741,600 742,599 742,596 742,592 740,591 737,590 732,589 731,586 728,585 724,584 719,582 718,582 714,580 712,578 710,573 712,568 711,564 710,560 710,559 706,556 704,555 701,553 699,550 696,547 695,546 693,542 692,537 692,536 692,532 691,528 688,525 686,524 683,520 678,519 678,519 678,514 678,514 682,510 678,506 678,506 677,501 675,496 674,494 673,492 670,488 669,488 669,483 670,480 670,478 672,474 673,470 674,468 676,465 674,464 670,463 665,462 660,462 657,465 656,469 656,470 655,474 655,478 655,483 656,487 656,488 659,492 656,496 658,501 656,504 655,506 652,510 651,510 652,511 653,514 653,519 655,524 656,525 658,528 657,532 657,537 658,542 656,545 656,546 655,550 653,555 652,560 652,561 650,564 649,568 649,573 650,578 651,582 650,586 647,590 647,591 645,596 643,600 642,603 642,604 638,608 637,609 635,614 634,618 634,619 631,622 632,627 633,632 632,636 631,640 631,645 629,649 628,650 629,653 629,654 629,654 625,658 624,660 624,663 620,667 619,668 616,672 615,672 613,676 614,681 616,682 620,686 620,686 623,690 624,694 622,699 624,701 629,702 631,704 631,708 629,711 624,712 621,712 620,713 616,713 613,717 612,722 611,726 611,727 610,730 611,733 613,735 616,737 618,740 616,744 615,744 616,744 617,744 620,744 624,740 624,739 629,736 634,738 634,740 634,740 631,744 629,747 624,746 622,748 624,750 629,749 633,753 634,755 635,758 638,762 638,766 636,771 634,772 629,774 628,776 627,780 628,784 629,786 634,785 638,787 639,789 642,793 643,794 643,798 642,800 642,802 642,804 644,807 645,812 645,816 645,820 645,825 647,830 647,831 648,834 649,838 650,843 650,848 649,852 649,856 647,859 646,861 646,866 647,869 647,870 648,874 651,879 652,882 652,884 652,888 652,888 647,892 647,892 645,897 645,902 646,906 647,909 647,910 647,915 648,920 650,924 649,928 650,933 651,938 651,942 650,946 648,951 647,955 646,956 646,960 647,961 651,964 651,969 651,974 651,978 647,982 647,983 644,987 642,989 638,992 638,992 636,996 634,999 631,1000 629,1005 629,1005 624,1006 620,1009 616,1008 615,1010 616,1011 617,1014 616,1016 613,1018 615,1023 616,1023 617,1028 616,1030 615,1032 614,1036 612,1041 612,1046 613,1050 612,1054 611,1058 610,1059 608,1064 606,1067 606,1068 606,1071 607,1072 608,1077 607,1082 606,1085 606,1086 604,1090 602,1095 602,1095 599,1100 598,1101 593,1104 593,1104 588,1106 584,1108 584,1109 580,1111 575,1112 570,1110 566,1108 566,1108 563,1104 562,1101 557,1100 556,1100 556,1095 553,1090 552,1090 548,1086 549,1082 548,1081 548,1082 548,1086 547,1090 547,1095 544,1098 539,1098 534,1098 531,1095 530,1094 528,1090 526,1088 523,1086 522,1082 521,1079 519,1077 518,1072 517,1068 516,1067 514,1064 512,1061 511,1059 508,1057 503,1056 498,1058 496,1054 498,1051 500,1050 501,1046 499,1041 500,1036 498,1035 497,1036 498,1041 494,1045 494,1046 492,1050 493,1054 494,1057 498,1059 494,1061 493,1064 494,1068 494,1068 494,1068 490,1071 485,1071 480,1072 480,1072 480,1074 481,1077 483,1082 483,1086 481,1090 480,1091 477,1095 476,1097 474,1100 472,1102 471,1104 467,1108 465,1108 463,1113 462,1113 458,1115 454,1118 M719,190 719,190 719,190 719,191 719,190 M616,200 615,200 616,199 616,200 616,200 M692,203 689,200 692,198 695,200 692,203 M688,204 687,204 688,204 688,204 688,204 M696,206 694,204 696,202 697,204 696,206 M692,222 692,222 692,221 694,222 692,222 M534,312 534,312 534,310 537,312 534,312 M670,316 670,316 669,316 670,317 670,316 M544,321 542,321 544,321 544,321 544,321 M607,326 606,325 606,326 606,326 607,326 M656,326 656,325 652,323 647,325 647,326 647,326 652,329 656,327 656,326 M562,345 559,344 561,339 560,334 561,330 562,330 563,330 562,334 566,338 567,339 566,339 563,344 562,345 M570,338 568,334 567,330 570,329 571,330 573,334 570,338 M548,340 547,339 548,337 549,339 548,340 M603,388 602,385 601,384 598,381 595,380 593,376 588,378 588,380 588,382 590,384 592,388 593,389 598,392 602,391 603,388 M653,402 653,398 652,397 651,398 651,402 652,404 653,402 M668,447 665,442 666,438 665,436 662,434 660,433 660,434 659,438 656,441 655,442 656,444 659,447 660,448 665,449 668,447 M597,514 597,510 598,506 598,506 599,501 598,498 596,496 598,496 602,492 602,492 602,492 598,489 596,488 597,483 598,482 598,478 598,474 598,474 596,470 597,465 598,463 598,460 598,456 598,455 593,456 588,453 587,452 585,447 584,446 582,442 580,441 575,442 571,442 570,443 569,442 566,442 562,442 561,442 557,446 555,447 552,448 549,452 548,453 544,456 543,456 544,458 544,460 546,465 548,466 552,468 554,470 552,474 552,474 552,474 555,478 556,483 556,488 557,490 562,491 566,492 570,489 575,491 576,492 576,496 575,500 573,496 570,495 568,496 570,498 575,501 575,506 575,506 580,508 584,507 585,510 587,514 588,516 593,517 597,514 M593,480 593,478 593,478 594,478 593,480 M584,491 581,488 584,486 585,488 584,491 M706,587 701,590 700,586 701,585 706,586 706,586 706,587 M737,596 737,596 737,595 738,596 737,596 M719,615 717,614 714,612 711,609 710,608 707,609 706,610 704,609 703,604 706,601 706,600 710,597 714,599 716,600 717,604 719,608 721,609 720,614 719,615 M476,628 472,629 471,627 472,627 476,626 477,627 476,628 M706,628 704,627 706,624 708,627 706,628 M534,649 531,645 534,642 537,645 534,649 M624,683 622,681 622,676 620,676 616,672 620,668 621,668 624,663 627,663 629,663 630,663 634,666 634,668 634,671 633,672 629,673 626,676 628,681 624,683 M634,677 633,676 634,674 634,676 634,677 M578,852 577,848 577,843 580,839 580,838 580,838 575,834 575,834 572,830 574,825 575,823 576,825 580,827 584,830 584,830 588,831 591,830 593,826 597,830 598,830 598,830 598,828 597,825 593,825 591,820 589,816 588,815 587,812 588,810 591,807 592,802 593,800 594,798 593,796 589,794 588,793 584,792 580,794 580,798 580,798 575,802 570,802 566,798 566,798 566,798 564,802 562,805 560,802 557,801 554,802 553,807 552,807 552,807 548,803 547,802 548,799 551,798 552,798 557,795 559,794 557,791 556,789 556,784 556,780 556,776 554,771 553,766 552,766 551,762 552,760 553,758 556,753 557,750 557,748 559,744 562,740 562,740 566,736 567,735 566,730 567,726 566,723 565,722 564,717 566,713 567,712 570,709 571,708 572,704 570,701 569,699 566,697 562,695 559,694 562,693 562,690 563,686 563,681 562,680 557,681 557,681 556,686 557,689 560,690 557,694 552,693 552,694 552,699 548,703 544,703 539,703 534,701 530,700 526,700 521,699 521,699 521,699 521,699 522,704 523,708 522,712 524,717 525,722 524,726 525,730 525,735 526,735 527,740 529,744 528,748 530,750 532,748 532,744 534,742 537,744 537,748 537,753 537,758 539,760 542,762 541,766 539,771 540,776 539,779 538,780 539,781 542,784 544,787 548,789 548,789 548,789 544,794 544,795 539,795 535,794 534,793 534,794 532,798 532,802 530,805 526,805 522,807 521,808 516,808 516,807 512,803 508,804 503,807 503,807 502,812 503,816 503,816 508,819 512,817 516,818 521,818 523,820 526,822 530,823 534,825 534,825 539,826 544,827 546,830 548,831 552,833 555,834 556,838 557,840 561,843 562,844 563,848 566,850 570,849 574,852 575,853 578,852 M642,690 642,690 642,686 642,685 643,686 643,690 642,690 M557,704 552,705 550,704 552,701 557,702 561,704 557,704 M562,708 561,708 562,705 562,708 562,708 M544,740 543,740 544,739 544,740 544,740 M634,749 633,748 634,748 634,748 634,749 M534,809 533,807 534,806 536,807 534,809 M570,808 568,807 570,804 571,807 570,808 M566,816 565,812 566,809 567,812 566,816 M584,829 583,825 584,823 587,825 584,829 M566,835 564,834 566,833 567,834 566,835 M585,848 584,846 582,848 584,852 585,848 M477,884 477,879 476,878 472,875 467,877 464,879 465,884 467,885 472,886 476,884 477,884 M581,892 580,891 575,889 574,892 575,896 580,895 581,892 M508,996 512,992 516,992 520,992 521,991 525,987 526,986 526,982 526,980 523,978 521,976 516,978 516,978 512,982 512,982 512,987 512,992 508,995 507,996 508,997 508,996 M502,1000 498,998 497,1000 498,1002 502,1000 M504,1018 506,1014 503,1011 503,1014 502,1018 503,1021 504,1018 M526,1072 526,1072 525,1072 526,1073 526,1072 M530,1104 530,1104 530,1100 530,1099 530,1100 530,1104 530,1104"/>
<path stroke-width="1" d="M598,193 593,194 590,190 590,186 589,182 588,180 588,177 588,175 590,172 590,168 593,164 598,165 599,168 598,172 600,177 599,182 599,186 598,190 598,193 M611,662 606,662 602,663 598,661 594,658 593,656 589,654 591,650 588,648 586,645 587,640 584,636 584,636 584,632 580,631 577,632 575,632 570,632 566,634 562,632 562,631 557,627 557,627 552,626 551,622 548,618 548,614 548,612 547,609 546,604 547,600 544,599 539,596 539,595 534,594 530,593 526,594 521,594 519,596 516,597 512,597 509,596 508,595 505,596 503,596 500,600 498,602 497,600 494,597 490,596 485,596 485,596 481,591 480,590 479,586 479,582 480,578 480,576 481,573 482,568 484,564 485,561 485,560 486,555 488,550 490,549 492,546 494,543 496,542 498,540 503,538 508,537 509,537 512,536 516,533 521,533 523,532 526,532 530,529 531,528 534,525 536,524 539,521 544,519 544,519 548,518 552,514 552,514 557,512 560,510 562,509 564,510 566,511 570,513 575,514 576,514 578,519 579,524 580,524 584,526 588,527 593,526 598,526 600,524 602,522 604,519 606,516 608,514 606,510 606,510 606,510 608,506 609,501 609,496 609,492 611,488 606,483 606,483 606,482 607,478 606,476 606,474 605,470 606,467 608,465 611,461 611,460 611,459 610,456 609,452 609,447 608,442 606,438 606,438 602,436 598,438 598,438 593,440 588,440 586,438 584,436 580,437 575,437 570,437 566,438 562,438 557,438 557,438 552,442 551,442 548,444 546,442 544,440 539,442 537,442 538,447 535,452 535,456 534,456 533,460 534,465 534,465 536,470 534,472 533,474 534,478 534,480 536,483 535,488 534,489 533,492 533,496 530,499 526,499 524,496 525,492 526,490 528,488 526,485 525,483 526,479 526,478 526,478 524,474 524,470 521,467 520,465 520,460 520,456 521,455 522,452 524,447 525,442 526,442 527,438 527,434 530,432 532,429 533,424 534,422 535,420 534,416 534,416 534,415 537,411 539,407 540,406 541,402 542,398 544,395 545,393 548,391 551,388 552,387 557,385 561,384 562,384 566,382 569,384 570,384 575,385 580,386 584,388 584,388 588,391 591,393 593,395 597,398 598,398 602,400 606,399 607,398 609,393 610,388 607,384 606,381 606,380 605,375 606,371 607,370 610,366 611,365 616,362 616,362 620,358 621,357 624,352 624,352 629,348 630,348 634,347 635,348 638,349 642,348 644,348 647,347 652,347 653,348 656,349 660,349 662,348 665,344 665,344 667,339 670,336 672,334 674,332 676,330 676,326 678,322 679,321 682,316 683,316 687,312 688,312 692,308 692,308 696,305 698,303 697,298 697,294 696,293 692,293 690,290 691,285 688,282 683,283 680,285 678,286 675,290 674,291 670,291 667,290 665,288 660,287 657,285 656,285 654,285 655,290 652,294 651,294 649,298 648,303 647,306 647,308 642,310 638,311 634,311 629,310 628,312 624,315 621,316 620,317 616,318 611,317 610,316 606,314 602,312 602,312 598,308 593,308 588,309 584,308 581,308 580,307 578,308 575,309 571,308 570,307 570,308 566,308 562,308 561,308 560,303 557,300 554,298 552,298 550,294 548,290 547,290 544,287 539,286 536,285 534,284 530,281 529,280 526,278 522,276 521,276 517,272 516,271 512,270 508,269 503,268 498,268 497,267 494,264 494,262 493,258 493,254 493,249 494,245 494,244 498,240 499,240 503,237 508,237 512,236 516,239 521,238 525,236 526,235 527,231 528,226 528,222 530,218 531,218 533,213 534,211 538,208 539,208 544,206 548,204 548,204 549,204 552,205 556,208 557,209 562,213 562,213 564,218 565,222 566,225 568,226 570,229 572,231 575,236 575,240 572,244 574,249 575,250 578,249 580,248 580,249 584,252 585,254 586,258 587,262 588,267 588,269 593,270 598,268 602,269 606,272 606,272 611,276 616,275 618,272 618,267 620,262 620,262 624,258 625,258 629,254 630,254 634,252 636,249 636,244 635,240 635,236 635,231 635,226 635,222 635,218 636,213 637,208 638,207 640,204 642,202 646,200 647,199 652,197 656,198 658,200 660,202 662,204 663,208 664,213 664,218 665,222 665,224 666,226 666,231 665,233 664,236 664,240 662,244 661,249 665,253 665,254 665,257 665,258 665,258 665,258 670,257 671,258 674,259 678,259 683,262 683,262 688,265 691,262 692,261 696,261 701,261 706,262 707,262 710,264 713,262 714,258 714,258 715,258 719,260 724,258 728,260 732,260 737,261 741,262 742,263 743,262 746,261 750,261 752,262 755,265 758,267 760,268 764,269 767,272 768,273 771,276 773,279 775,280 778,284 779,285 782,287 786,290 786,290 790,294 791,296 792,298 792,303 793,308 795,312 795,316 793,321 791,324 791,326 790,330 786,332 782,333 778,334 778,335 773,337 771,339 768,343 768,344 768,348 768,349 772,352 768,356 768,357 768,357 772,357 773,357 774,357 775,362 778,364 780,366 782,367 783,370 786,374 787,375 791,379 792,380 795,384 796,387 797,388 800,393 800,393 801,398 803,402 802,406 802,411 800,414 799,416 796,420 800,423 802,424 804,429 804,429 808,434 806,438 804,441 800,442 800,443 796,444 793,442 791,439 786,439 785,442 785,447 786,451 787,452 786,452 786,456 786,458 788,460 790,465 791,466 794,470 796,474 796,474 798,478 798,483 796,486 794,488 794,492 793,496 793,501 794,506 796,510 796,510 798,514 796,519 797,524 797,528 799,532 796,535 794,537 791,539 786,540 782,542 782,542 780,542 778,541 777,542 773,545 772,546 771,550 768,554 764,554 761,555 762,560 761,564 760,564 759,564 759,560 755,557 750,556 748,555 746,553 744,550 742,547 739,546 737,546 736,546 732,547 730,550 728,552 725,555 725,560 724,562 721,560 719,558 714,556 714,555 710,551 710,550 706,547 705,546 701,542 701,542 700,537 700,532 701,530 703,528 705,524 705,519 703,514 701,513 699,510 696,507 696,506 695,501 695,496 696,492 695,488 692,484 688,484 686,483 683,480 681,478 683,477 684,474 687,470 688,469 692,468 696,466 701,466 702,465 703,460 706,459 707,456 706,453 701,456 696,453 692,452 691,452 688,450 683,450 680,447 680,442 680,438 678,435 677,434 677,429 675,424 674,424 670,420 669,420 670,420 672,416 670,413 667,411 665,410 660,407 660,406 659,402 658,398 657,393 656,392 652,391 647,392 646,393 642,397 642,398 642,398 645,402 647,404 649,406 651,411 651,416 650,420 652,424 652,424 652,426 649,429 649,434 649,438 649,442 649,447 649,452 651,456 650,460 650,465 648,470 647,472 647,474 647,478 647,480 648,483 647,487 647,488 647,489 648,492 649,496 649,501 647,506 647,506 646,510 643,514 644,519 647,524 647,525 648,528 650,532 650,537 651,542 650,546 647,550 647,551 646,555 642,559 642,560 639,564 638,566 636,568 637,573 638,573 642,577 643,578 643,582 644,586 642,589 641,591 638,596 638,596 634,599 630,600 629,601 627,600 624,599 621,596 620,595 616,591 616,591 611,589 606,591 606,591 606,591 608,596 609,600 610,604 611,607 616,608 616,609 617,614 618,618 617,622 620,627 621,627 622,632 624,636 624,640 621,645 620,650 620,651 619,654 616,658 615,658 611,662 M602,353 598,354 593,354 591,352 588,350 587,348 584,344 586,339 588,336 591,334 593,334 595,334 598,335 602,337 606,338 607,339 608,344 610,348 606,349 603,352 602,353 M660,345 659,344 660,342 664,344 660,345 M602,406 602,406 602,406 602,407 602,406 M609,420 611,418 612,416 611,413 609,416 606,417 602,420 602,420 602,420 606,422 609,420 M710,524 710,523 707,524 710,524 710,524 M599,578 600,573 602,568 598,567 596,568 596,573 593,577 593,578 593,578 598,578 599,578 M737,578 732,578 732,578 732,577 735,573 732,569 728,571 725,568 728,567 732,567 737,568 740,568 742,570 744,573 742,575 738,578 737,578 M750,573 750,573 750,573 751,573 750,573 M609,578 606,574 603,578 606,580 609,578 M386,839 386,838 386,834 390,832 392,830 391,825 390,824 389,820 390,816 390,812 390,810 391,807 393,802 395,799 396,798 397,794 398,789 398,784 397,780 400,776 400,776 400,774 399,771 400,769 401,766 404,762 404,762 404,760 404,758 404,756 405,753 408,749 413,748 413,748 418,745 419,744 421,740 418,738 414,740 413,740 412,740 409,735 408,735 408,730 408,727 409,726 410,722 412,717 412,712 411,708 411,704 413,699 413,698 415,694 417,690 418,689 421,686 422,682 423,681 426,676 426,676 431,673 436,673 437,672 440,669 440,668 443,663 444,661 449,660 451,663 454,664 457,663 458,662 462,660 464,658 466,654 467,653 470,654 472,655 474,658 476,661 477,663 480,666 483,668 485,668 486,668 490,664 490,663 494,660 498,659 500,658 503,657 506,658 508,659 512,661 514,663 516,667 517,668 520,672 521,673 522,672 526,669 529,668 530,667 534,667 536,668 539,668 544,670 545,672 548,676 548,676 550,681 549,686 548,690 548,690 544,693 539,694 534,694 530,692 527,690 526,689 521,686 521,685 520,686 516,688 515,690 512,693 509,694 508,699 508,702 507,704 508,704 510,708 512,712 512,712 515,717 516,722 516,722 518,726 516,730 516,730 516,735 515,740 515,744 516,748 515,753 516,757 517,758 516,758 515,762 512,763 508,766 507,766 503,770 499,771 502,776 503,777 505,780 503,781 500,784 498,786 496,784 494,783 490,784 490,785 489,784 485,784 484,784 480,788 476,789 477,794 476,797 474,794 472,792 470,794 472,795 475,798 476,799 478,802 479,807 480,811 482,812 485,814 486,816 490,817 493,820 494,822 498,824 499,825 503,826 508,826 512,828 516,827 521,829 526,829 526,830 530,830 534,830 539,831 542,834 544,836 548,838 548,839 550,843 551,848 552,851 553,852 554,856 555,861 556,866 557,867 560,870 562,872 563,874 562,876 561,879 561,884 561,888 562,888 565,892 566,894 568,897 570,902 570,906 570,907 575,910 575,911 578,915 578,920 580,922 584,922 588,922 591,924 588,926 587,928 588,930 591,928 593,926 597,928 594,933 593,935 592,938 593,940 595,942 596,946 595,951 598,954 598,956 599,960 601,964 601,969 602,971 605,974 606,978 602,981 601,982 602,983 606,984 611,987 613,982 611,981 607,978 608,974 611,971 616,969 616,969 616,967 615,964 615,960 612,956 611,954 609,951 606,948 605,946 604,942 602,938 604,933 603,928 603,924 602,921 600,920 598,915 598,913 597,910 596,906 598,903 598,902 599,897 598,892 598,892 596,888 598,885 598,884 599,879 598,876 596,874 598,873 599,870 601,866 602,864 604,861 606,857 607,856 606,856 605,852 603,848 605,843 604,838 606,834 606,833 608,830 607,825 607,820 607,816 606,814 605,812 606,810 610,807 608,802 611,798 616,802 616,798 620,795 623,798 624,799 629,801 634,802 634,802 636,807 637,812 637,816 637,820 634,824 630,825 632,830 630,834 634,836 638,836 642,838 643,838 644,843 644,848 643,852 642,853 641,856 640,861 638,866 640,870 638,874 641,879 641,884 639,888 639,892 638,894 637,897 638,901 638,902 640,906 641,910 640,915 641,920 641,924 640,928 640,933 638,937 638,938 638,938 641,942 640,946 638,951 638,952 636,956 635,960 638,962 640,964 642,969 640,974 639,978 638,980 634,982 630,982 631,987 629,989 624,989 620,990 616,990 614,992 612,996 611,996 607,1000 606,1001 604,1005 603,1010 604,1014 604,1018 606,1023 607,1023 607,1028 606,1028 606,1032 606,1036 606,1041 605,1046 604,1050 602,1053 600,1054 598,1056 596,1059 597,1064 595,1068 598,1069 599,1072 598,1077 598,1082 598,1085 597,1086 594,1090 593,1092 588,1092 584,1093 582,1090 580,1086 580,1082 580,1080 575,1080 570,1079 567,1077 567,1072 566,1068 567,1064 566,1061 565,1059 563,1054 562,1051 557,1050 556,1050 557,1050 559,1046 557,1043 553,1046 552,1048 552,1050 552,1051 554,1054 552,1056 548,1058 547,1059 544,1061 541,1064 539,1065 534,1065 533,1064 530,1063 526,1063 524,1059 521,1056 520,1054 517,1050 517,1046 516,1043 516,1041 513,1036 514,1032 514,1028 515,1023 516,1020 517,1018 518,1014 518,1010 521,1005 521,1005 526,1002 526,1000 527,996 527,992 530,988 531,987 534,983 535,982 539,981 544,980 546,978 548,974 546,969 548,966 550,964 548,963 544,963 539,960 534,962 530,961 526,962 521,962 516,963 513,964 513,969 512,971 509,974 508,975 506,978 506,982 503,986 502,987 498,990 494,991 494,992 490,995 489,996 488,1000 487,1005 488,1010 489,1014 488,1018 490,1021 490,1023 490,1024 486,1028 486,1032 485,1033 480,1036 480,1036 480,1037 482,1041 480,1043 479,1046 480,1047 482,1050 482,1054 482,1059 480,1060 476,1060 472,1064 472,1068 472,1068 467,1069 467,1072 466,1077 462,1080 459,1082 458,1082 456,1086 454,1089 449,1090 452,1095 449,1098 447,1100 445,1104 444,1105 440,1107 436,1107 434,1108 431,1111 426,1111 423,1113 422,1113 421,1113 418,1112 414,1108 413,1108 411,1108 408,1110 404,1110 400,1109 398,1108 395,1107 390,1107 389,1104 386,1100 M575,787 570,788 566,788 563,784 562,783 560,780 559,776 559,771 558,766 558,762 560,758 562,754 562,753 565,748 566,748 570,744 570,744 573,740 575,735 575,734 576,730 576,726 575,724 574,722 575,721 578,717 580,715 581,712 581,708 580,704 580,701 578,699 580,697 581,694 580,692 578,690 580,689 582,686 584,684 588,682 592,681 593,681 598,681 598,681 599,686 602,686 606,688 610,690 611,694 612,694 614,699 612,704 611,708 611,709 608,712 607,717 606,719 606,722 605,726 603,730 602,733 601,735 602,737 603,740 605,744 606,747 607,748 608,753 609,758 611,762 612,762 611,766 611,766 606,770 606,771 602,775 598,774 593,775 588,773 588,776 586,780 584,781 580,784 578,784 575,787 M611,777 606,778 602,776 606,773 611,774 612,776 611,777 M465,892 467,892 472,891 476,891 480,892 482,888 485,885 486,884 490,880 491,879 490,877 487,874 485,873 480,871 479,870 476,868 472,868 467,867 462,866 458,868 454,869 450,866 449,865 445,861 444,861 442,856 440,856 436,854 433,856 434,861 435,866 434,870 436,871 437,874 440,879 441,879 444,880 449,880 451,884 454,886 457,888 458,889 462,892 462,893 465,892 M454,875 452,874 454,872 454,874 454,875 M588,880 587,879 588,878 590,879 588,880 M441,897 440,897 436,896 435,897 436,899 440,898 441,897 M481,956 480,955 480,956 480,956 481,956 M571,956 570,954 570,956 570,957 571,956 M562,1000 562,1000 561,1000 562,1001 562,1000 M562,1010 562,1008 561,1010 562,1010 562,1010 M386,1095 390,1091 391,1090 390,1090 388,1086 387,1082 386,1081 M443,1095 440,1094 438,1095 440,1096 443,1095 M580,1101 577,1100 579,1095 580,1094 580,1095 581,1100 580,1101 M395,1113 395,1113 395,1112 395,1113 395,1113"/>
<path stroke-width="1" d="M616,313 611,313 610,312 606,308 606,308 602,306 599,303 598,301 593,303 593,303 588,304 584,305 580,304 578,303 575,301 570,302 566,298 566,298 562,295 561,294 557,290 557,289 555,285 553,280 552,280 551,280 548,281 545,280 544,280 540,280 539,281 539,280 534,279 530,277 529,276 526,272 526,271 521,270 516,268 514,267 512,266 508,266 504,262 503,262 498,262 496,258 495,254 495,249 498,244 498,244 503,243 508,242 512,244 516,244 521,243 526,242 530,240 530,240 533,236 533,231 532,226 532,222 534,218 535,218 539,213 539,213 544,210 548,209 552,210 557,213 557,213 561,218 562,220 562,222 564,226 566,231 566,232 568,236 566,237 562,238 561,240 560,244 562,247 563,249 566,251 569,254 570,254 574,254 575,253 576,254 578,258 580,259 581,262 582,267 583,272 584,273 588,276 589,276 593,277 595,276 598,274 602,274 604,276 606,279 608,280 611,283 615,285 616,286 620,288 621,290 624,291 626,290 625,285 626,280 629,276 629,276 629,275 628,272 627,267 629,264 632,262 634,260 636,258 638,257 642,254 643,254 642,253 642,249 642,244 640,240 639,236 639,231 639,226 638,222 639,218 641,213 642,210 643,208 647,204 647,204 648,204 652,204 656,206 658,208 659,213 660,218 660,219 662,222 662,226 662,231 660,235 660,236 660,237 661,240 660,241 656,244 656,244 653,249 655,254 655,258 656,259 660,262 662,262 665,264 670,263 674,265 678,266 679,267 683,271 684,272 683,272 679,276 678,277 676,280 674,282 670,282 665,282 663,280 660,278 657,280 656,281 652,282 647,285 647,285 642,289 641,290 641,294 638,295 634,297 631,298 630,303 629,303 624,305 622,308 620,310 618,312 616,313 M606,656 602,657 598,654 597,654 595,650 594,645 593,644 592,640 591,636 590,632 588,630 585,627 584,626 580,626 575,625 570,626 567,627 566,627 565,627 562,624 559,622 557,620 555,618 553,614 553,609 553,604 552,601 552,600 552,596 553,596 552,595 548,594 544,593 539,591 539,591 534,589 530,590 526,591 521,590 519,591 516,593 512,593 510,591 508,590 504,591 503,591 500,591 498,591 498,591 494,592 493,591 490,588 488,586 485,582 486,578 487,573 487,568 487,564 488,560 488,555 490,553 491,550 494,547 495,546 498,543 502,542 503,541 508,540 512,539 516,537 516,536 521,536 524,537 526,538 530,537 530,537 533,532 534,531 539,529 540,528 544,525 546,524 548,523 552,521 557,524 557,524 558,524 562,520 563,519 566,518 569,519 570,521 572,524 574,528 575,530 577,532 580,533 584,534 588,534 593,533 598,533 599,532 602,531 605,528 606,524 607,524 610,519 611,517 611,514 613,510 614,506 614,501 616,498 616,496 616,495 613,492 614,488 612,483 611,479 611,478 610,474 611,473 612,470 613,465 616,463 616,460 616,457 615,456 615,452 615,447 616,446 617,442 620,438 620,438 620,438 616,437 613,434 616,429 616,429 616,424 618,420 620,418 622,416 621,411 620,410 619,406 620,404 621,402 620,399 620,398 616,393 616,392 614,388 612,384 611,381 610,380 611,378 612,375 616,371 616,370 618,366 620,364 621,362 624,358 626,357 629,354 634,353 636,352 638,352 639,352 642,353 647,355 652,353 656,355 660,353 665,357 670,354 670,352 670,349 669,348 670,347 673,344 674,341 677,339 678,337 680,334 683,332 684,330 688,327 688,326 688,325 685,321 687,316 688,316 692,313 694,312 696,310 701,310 704,312 706,313 707,312 708,308 706,304 704,303 705,298 706,296 706,294 709,290 710,287 714,286 715,285 714,283 710,284 706,284 702,280 704,276 706,275 710,274 714,274 719,273 722,276 724,278 726,280 728,281 732,280 728,280 724,276 724,275 719,272 722,267 724,266 728,267 732,266 737,267 737,267 737,267 742,267 743,267 746,269 750,270 752,272 750,275 750,276 746,279 744,280 743,285 746,286 750,286 752,285 750,281 750,280 750,280 755,276 755,276 760,275 762,276 764,280 764,280 768,285 770,285 773,286 774,290 778,293 778,294 782,296 786,298 786,301 787,303 787,308 789,312 788,316 786,320 786,321 782,325 782,326 778,329 774,330 773,330 768,331 766,334 764,339 763,339 760,341 757,344 755,348 755,349 755,348 750,346 749,344 746,340 742,341 739,344 742,346 746,345 749,348 750,349 754,352 753,357 755,359 760,358 764,358 767,362 765,366 764,368 763,370 761,375 764,379 765,380 768,382 773,384 773,384 778,384 778,384 782,384 782,384 783,388 786,391 788,393 791,396 793,398 794,402 794,406 796,411 796,411 796,412 794,416 791,416 786,418 783,420 782,422 781,424 778,429 778,430 775,434 775,438 778,441 779,442 779,447 782,452 781,456 781,460 781,465 782,466 786,468 788,470 789,474 790,478 791,480 792,483 791,484 788,488 786,491 786,492 782,495 781,496 782,498 784,501 786,504 787,506 790,510 787,514 786,518 786,519 786,519 788,524 789,528 786,530 782,531 779,532 778,533 773,535 770,532 768,531 766,532 768,537 764,542 765,546 764,547 760,548 756,546 756,542 755,541 752,537 750,535 746,535 742,534 737,535 732,536 731,537 728,542 728,542 724,543 719,542 714,544 713,542 711,537 714,534 717,532 717,528 717,524 717,519 714,517 712,514 710,511 709,510 710,509 711,506 712,501 712,496 714,494 719,492 719,492 720,488 720,483 719,482 714,480 710,479 706,479 705,478 706,478 707,474 709,470 710,467 714,465 715,465 719,461 719,460 719,460 714,456 714,456 712,452 710,447 710,447 706,445 701,445 696,445 692,445 689,442 688,441 684,438 683,434 683,429 684,424 683,421 682,420 680,416 680,411 678,410 674,409 670,409 665,406 665,406 662,402 661,398 660,397 660,393 656,389 655,388 652,388 649,388 647,390 642,392 641,393 638,398 641,402 642,403 646,406 647,410 647,411 648,416 647,419 647,420 645,424 642,427 642,429 642,430 644,434 645,438 644,442 644,447 645,452 646,456 646,460 646,465 645,470 643,474 642,476 642,478 642,483 640,488 642,492 642,496 642,501 642,506 641,510 640,514 640,519 640,524 642,527 643,528 645,532 647,537 647,537 647,539 647,542 646,546 644,550 642,555 642,555 639,560 638,561 634,563 630,564 629,566 624,567 620,564 616,565 611,564 611,564 606,562 602,560 602,560 598,556 593,560 593,560 591,564 588,568 588,568 588,573 588,578 588,582 589,582 593,586 593,587 598,588 601,591 602,594 603,596 604,600 605,604 606,609 606,611 609,614 610,618 609,622 610,627 611,632 611,632 612,632 616,631 616,632 618,636 617,640 617,645 617,650 616,651 611,653 609,654 606,656 M701,287 700,285 701,284 702,285 701,287 M598,347 593,348 590,344 593,340 598,340 602,344 598,347 M734,352 732,352 731,352 732,354 734,352 M562,392 560,388 562,388 563,388 562,392 M570,434 568,434 566,433 562,433 560,434 557,434 556,434 552,432 548,433 544,432 540,429 541,424 540,420 542,416 542,411 544,410 545,406 547,402 548,398 548,397 552,394 554,393 557,392 560,393 562,393 562,393 566,391 569,388 570,388 573,388 575,390 580,391 584,392 585,393 588,395 591,398 593,399 595,402 596,406 595,411 595,416 596,420 597,424 595,429 593,433 588,432 584,432 580,433 575,433 572,434 570,434 M616,403 614,402 616,401 618,402 616,403 M710,492 710,492 710,492 710,492 710,492 M638,591 634,595 629,595 624,594 621,591 620,589 616,586 617,582 618,578 620,576 624,573 627,573 629,572 629,573 634,575 636,578 638,580 639,582 640,586 638,591 638,591 M386,853 387,852 390,848 390,845 391,843 392,838 395,834 395,834 400,832 401,830 404,825 404,825 404,825 404,825 400,827 398,825 399,820 397,816 400,815 404,814 408,812 413,814 416,812 418,810 422,810 426,810 431,808 434,807 436,806 440,804 444,804 449,804 451,802 449,799 449,798 445,794 445,789 444,786 444,784 441,780 440,780 440,780 438,784 436,787 431,788 429,789 426,792 422,793 422,794 418,797 415,798 413,799 412,798 411,794 408,791 407,789 408,787 413,788 414,784 413,783 409,780 408,777 408,776 408,771 408,771 410,766 409,762 410,758 413,753 414,753 418,753 421,748 422,748 424,744 426,741 428,740 427,735 426,734 423,730 422,730 418,726 419,722 421,717 418,713 417,712 416,708 415,704 418,700 418,699 420,694 422,691 423,690 425,686 426,683 430,681 431,680 436,679 440,678 443,676 444,675 449,674 453,672 454,672 456,668 458,667 461,668 462,669 467,670 472,670 476,671 477,672 480,674 485,674 488,672 490,671 492,668 494,665 498,663 498,663 503,662 508,661 510,663 512,666 514,668 515,672 516,676 516,681 514,686 512,687 508,690 508,691 503,693 498,694 495,694 496,699 498,703 499,704 503,707 504,708 505,712 508,716 509,717 511,722 512,725 512,726 512,730 512,732 511,735 510,740 512,743 512,744 512,746 511,748 510,753 508,756 504,758 503,758 498,761 497,762 494,765 493,766 492,771 490,776 490,776 487,780 485,781 480,780 476,784 472,783 470,784 467,788 462,789 461,789 458,792 457,794 458,794 461,798 458,802 457,802 458,806 459,807 462,809 464,812 467,814 469,816 472,818 476,820 476,821 480,821 485,821 490,824 490,825 494,827 498,828 503,829 503,830 508,831 512,831 516,831 521,832 526,832 530,833 534,833 537,834 539,835 541,838 543,843 544,844 546,848 547,852 548,853 550,856 550,861 551,866 552,868 554,870 556,874 557,878 558,879 557,882 557,884 555,888 557,890 559,892 561,897 560,902 562,906 562,906 562,906 560,910 562,913 563,915 562,919 561,920 561,924 561,928 557,932 556,933 552,936 552,938 548,941 546,942 545,946 544,947 539,951 539,952 534,954 533,956 530,956 526,956 524,956 521,955 521,956 516,956 513,956 512,955 508,951 507,951 503,949 499,946 498,946 498,946 494,949 490,947 485,947 482,946 480,946 480,946 476,948 472,951 475,956 476,960 476,960 480,962 485,962 490,960 494,962 496,964 498,967 500,969 502,974 502,978 501,982 498,986 497,987 494,989 490,991 489,992 485,996 485,996 483,1000 482,1005 482,1010 480,1012 479,1014 476,1016 475,1018 475,1023 476,1025 478,1028 478,1032 476,1035 475,1036 473,1041 472,1045 471,1046 469,1050 467,1054 466,1054 465,1059 462,1061 460,1064 458,1067 456,1068 454,1072 449,1071 445,1072 444,1075 444,1077 443,1082 440,1085 437,1086 436,1087 434,1086 431,1084 428,1082 426,1080 425,1082 422,1085 421,1086 420,1090 421,1095 421,1100 418,1100 415,1100 413,1098 409,1100 408,1100 408,1100 404,1098 401,1095 400,1090 400,1090 398,1086 395,1082 394,1082 390,1079 388,1077 388,1072 386,1070 M539,690 534,690 534,690 530,688 526,686 526,683 524,681 526,678 526,676 529,672 530,672 534,671 538,672 539,672 543,676 544,677 546,681 546,686 544,688 539,690 539,690 M570,785 570,784 566,783 563,780 562,776 562,771 562,766 562,762 564,758 565,753 566,752 570,748 570,748 575,748 578,744 580,741 580,740 583,735 582,730 582,726 583,722 584,720 587,717 587,712 586,708 584,704 584,704 584,699 584,699 585,694 584,691 584,690 584,690 588,687 593,688 598,689 600,690 602,691 606,694 607,694 610,699 606,703 606,704 604,708 603,712 602,715 601,717 602,722 600,726 600,730 598,734 597,735 598,736 599,740 599,744 600,748 598,753 598,753 593,754 588,754 585,758 584,759 584,762 584,764 586,766 584,771 584,776 584,776 580,780 579,780 575,783 571,784 570,785 M493,694 490,692 489,694 490,695 493,694 M624,814 623,812 624,808 628,812 624,814 M629,956 624,960 620,957 618,956 616,951 616,946 616,946 612,942 616,939 616,938 616,937 613,933 612,928 611,928 607,924 610,920 606,916 605,915 604,910 604,906 604,902 606,897 604,892 604,888 604,884 603,879 602,874 604,870 606,866 606,865 609,866 611,866 611,866 612,861 614,856 613,852 612,848 613,843 613,838 614,834 612,830 614,825 616,823 620,825 620,825 624,830 624,831 625,834 628,838 629,840 634,842 638,842 639,843 639,848 638,851 637,852 636,856 634,861 634,866 634,868 633,870 634,871 635,874 635,879 636,884 635,888 634,891 633,892 634,893 635,897 635,902 637,906 637,910 637,915 636,920 634,923 633,924 634,926 634,928 635,933 635,938 634,942 634,946 634,947 630,951 629,956 629,956 M458,910 462,906 463,906 462,905 461,902 462,900 467,901 471,897 472,896 476,896 480,896 485,893 490,893 491,892 494,889 498,892 499,892 503,897 508,895 510,892 512,890 515,888 516,887 521,887 526,886 527,884 528,879 526,876 521,875 519,874 516,874 515,874 512,877 509,874 508,873 503,873 501,870 498,869 494,867 490,868 485,866 484,866 480,864 476,863 472,862 467,861 462,862 458,862 456,861 454,859 451,856 449,855 447,852 444,851 441,848 440,846 436,846 431,847 426,846 423,843 422,842 418,841 414,838 413,838 413,838 413,839 416,843 418,846 418,848 421,852 422,856 423,856 426,860 427,861 429,866 427,870 429,874 431,877 432,879 433,884 436,886 437,888 436,890 433,892 431,896 431,897 430,902 431,906 431,907 435,910 436,911 440,912 444,913 449,911 450,910 454,910 457,910 458,911 458,910 M508,889 507,888 508,887 509,888 508,889 M469,938 467,936 463,938 467,939 469,938 M588,962 584,960 583,960 584,958 588,958 591,960 588,962 M634,972 629,970 628,969 629,967 634,966 636,969 634,972 M580,1075 575,1074 573,1072 572,1068 575,1064 570,1061 569,1059 568,1054 567,1050 566,1046 566,1045 564,1041 562,1036 562,1036 557,1036 557,1036 552,1039 550,1041 548,1042 544,1046 544,1046 541,1050 539,1054 539,1055 534,1056 530,1056 526,1056 525,1054 526,1053 529,1050 527,1046 526,1041 526,1041 522,1036 521,1032 521,1028 521,1027 520,1023 521,1022 524,1018 525,1014 526,1013 527,1010 528,1005 530,1000 530,997 530,996 534,992 534,991 539,987 539,987 539,987 544,987 545,987 548,986 552,985 557,986 557,987 557,989 556,992 556,996 557,997 558,1000 558,1005 558,1010 561,1014 562,1014 562,1014 566,1013 570,1010 570,1008 571,1005 570,1003 570,1000 570,999 571,996 570,995 568,992 567,987 570,983 574,982 573,978 575,976 580,978 580,978 584,982 585,982 588,984 593,987 593,988 598,989 599,992 599,996 599,1000 599,1005 598,1010 598,1014 600,1018 601,1023 600,1028 600,1032 600,1036 601,1041 600,1046 599,1050 598,1052 595,1054 593,1057 592,1059 591,1064 588,1067 588,1068 584,1072 583,1072 580,1075 M386,1066 387,1064 388,1059 386,1058 M400,1100 399,1100 400,1099 400,1100 400,1100"/>
<path stroke-width="1" d="M652,245 648,244 647,244 645,240 645,236 644,231 643,226 642,225 641,222 642,218 642,216 647,213 647,212 651,208 652,208 652,208 653,213 656,218 656,218 657,222 659,226 659,231 658,236 657,240 656,241 652,244 652,245 M616,309 611,308 611,307 606,304 603,303 602,302 600,298 598,297 593,296 589,298 588,299 587,298 584,298 580,296 576,298 575,299 574,298 570,297 566,295 565,294 563,290 565,285 566,280 565,276 562,272 557,275 552,276 552,276 548,277 544,277 539,276 539,276 534,275 531,272 530,271 526,268 522,267 521,267 516,265 512,263 509,262 508,260 506,258 503,256 498,254 498,254 498,253 502,249 503,249 508,248 512,247 516,249 521,248 526,247 530,245 531,244 534,240 534,239 537,236 537,231 535,226 536,222 538,218 539,217 544,214 546,213 548,212 550,213 552,214 557,216 558,218 560,222 561,226 561,231 558,236 557,237 553,240 552,241 551,244 552,247 554,249 554,254 557,256 562,256 566,256 570,257 573,258 575,261 576,262 577,267 577,272 575,274 573,276 575,279 576,280 580,283 584,282 588,283 591,280 593,280 596,280 598,282 602,282 606,285 606,286 611,289 611,290 616,293 620,294 620,294 621,298 621,303 620,304 617,308 616,309 M647,250 646,249 647,246 648,249 647,250 M642,281 638,282 637,280 638,278 638,276 638,275 636,272 638,270 642,267 643,267 642,263 642,262 642,262 647,260 652,261 653,262 656,265 660,267 660,267 663,272 660,273 657,276 656,277 652,278 647,280 647,280 642,281 M580,277 578,276 580,274 580,276 580,277 M760,335 758,334 758,330 755,327 753,326 755,323 756,321 755,318 750,318 746,321 746,321 746,321 748,326 746,327 742,326 737,328 732,328 728,327 724,326 724,321 724,320 722,316 720,312 719,310 714,308 714,308 713,303 714,299 715,298 717,294 719,293 724,291 726,290 728,287 732,288 737,288 739,290 742,291 746,292 750,290 755,291 760,292 764,290 768,291 773,294 773,294 778,298 779,298 782,303 780,308 781,312 780,316 782,321 782,321 782,321 778,322 773,324 768,323 764,322 760,326 760,330 760,334 760,335 M737,529 732,531 728,531 724,528 724,527 723,524 722,519 722,514 719,512 717,510 714,506 714,506 714,505 719,503 723,501 724,500 728,496 728,496 732,492 730,488 732,483 728,481 725,478 724,477 719,478 718,474 717,470 719,467 720,465 723,460 722,456 719,452 719,451 716,447 714,444 711,442 710,442 706,439 701,440 696,441 693,438 692,438 688,434 691,429 689,424 688,421 687,420 687,416 686,411 686,406 683,404 678,406 674,405 670,406 665,403 664,402 662,398 661,393 661,388 660,387 656,386 652,386 647,387 645,388 642,390 638,392 637,393 634,396 629,397 624,394 620,393 620,393 617,388 616,384 616,382 614,380 616,377 616,375 619,370 620,369 622,366 624,362 624,361 629,359 631,357 634,356 638,356 642,357 643,357 647,358 652,357 656,359 659,362 660,363 663,366 664,370 665,372 670,375 671,375 674,376 675,380 676,384 678,388 679,388 682,393 683,394 684,393 687,388 684,384 683,382 681,380 678,378 674,375 674,375 671,370 674,366 672,362 673,357 674,352 674,352 676,348 678,344 678,343 683,344 683,344 683,344 688,342 692,341 693,339 694,334 695,330 692,327 691,326 692,324 694,321 696,318 701,320 703,321 705,326 706,326 710,326 714,330 714,330 718,334 719,336 721,339 721,344 724,347 724,348 724,350 723,352 723,357 721,362 719,365 718,366 719,370 719,370 724,372 728,372 729,370 731,366 732,365 737,365 738,362 742,359 746,359 748,362 750,363 755,366 756,366 757,370 755,373 754,375 750,378 749,380 750,380 752,380 755,376 757,380 760,383 760,384 763,388 764,391 766,393 768,395 773,397 773,398 773,402 778,406 778,406 778,407 773,410 773,411 773,414 778,415 778,416 778,416 773,419 773,420 773,420 774,424 773,426 771,429 771,434 770,438 770,442 773,447 773,447 776,452 778,454 778,456 778,459 777,460 777,465 778,466 781,470 782,471 783,474 782,478 782,479 778,483 778,485 777,488 776,492 774,496 775,501 778,504 780,506 782,507 783,510 782,512 780,514 778,518 773,517 768,517 764,517 761,514 760,513 755,512 750,511 749,510 746,506 745,506 746,504 749,501 746,500 742,500 737,498 734,501 735,506 737,507 740,510 742,512 743,514 745,519 746,521 750,524 746,525 742,528 741,528 737,529 M737,335 737,334 737,334 739,334 737,335 M584,429 580,430 575,430 570,431 566,431 562,430 557,430 552,430 550,429 548,428 546,424 544,420 547,416 548,412 548,411 548,407 548,406 548,406 552,404 555,402 557,401 561,398 562,397 562,398 566,401 570,400 573,398 575,396 580,397 584,396 585,398 588,401 590,402 592,406 593,411 592,416 593,419 594,420 593,423 592,424 588,427 585,429 584,429 M611,650 606,653 602,652 600,650 598,645 598,640 598,640 596,636 595,632 594,627 593,626 588,623 588,622 584,622 582,622 580,623 575,623 570,624 566,623 565,622 562,619 560,618 558,614 557,612 556,609 556,604 556,600 557,598 558,596 559,591 561,586 562,583 562,582 562,582 557,582 557,582 552,584 548,586 547,586 544,589 539,587 537,586 534,586 530,586 526,586 525,586 521,587 516,589 512,588 508,587 505,586 503,585 499,586 498,587 498,586 494,582 494,582 491,578 493,573 491,568 490,564 490,560 491,555 493,550 494,549 498,546 499,546 503,543 508,543 512,542 512,541 516,540 521,539 526,540 530,539 534,537 534,537 539,534 540,532 544,530 548,529 552,529 557,532 557,533 562,535 565,532 566,532 567,532 570,535 574,537 575,539 580,537 584,540 588,540 593,541 598,540 600,537 602,535 605,532 606,531 608,528 611,524 611,524 613,519 614,514 616,512 617,510 618,506 619,501 619,496 617,492 617,488 616,484 615,483 616,481 616,478 616,474 616,471 615,470 616,469 618,465 619,460 620,458 621,456 620,452 620,449 620,447 620,446 622,442 624,438 622,434 622,429 624,425 625,424 625,420 627,416 626,411 626,406 628,402 629,401 634,400 638,401 638,402 642,405 644,406 646,411 645,416 643,420 642,421 639,424 638,427 636,429 637,434 638,437 639,438 641,442 641,447 642,452 642,452 644,456 644,460 643,465 642,467 642,470 640,474 638,478 638,479 635,483 635,488 638,492 637,496 638,500 638,501 638,506 638,507 638,510 637,514 637,519 637,524 638,526 639,528 641,532 642,535 644,537 644,542 643,546 642,548 642,550 638,554 637,555 635,560 634,560 629,561 624,561 620,562 616,560 613,560 611,559 606,556 606,555 602,552 598,551 593,553 592,555 588,558 584,559 584,560 584,561 585,564 584,567 584,568 584,572 584,573 584,578 584,582 586,586 588,590 590,591 593,592 598,593 599,596 600,600 600,604 602,609 602,610 603,614 602,618 602,618 602,622 602,623 606,627 606,629 608,632 610,636 611,637 613,640 612,645 612,650 611,650 M634,592 629,592 626,591 625,586 624,586 623,582 624,580 629,579 634,581 634,582 637,586 635,591 634,592 M508,687 503,688 498,689 494,689 490,687 485,686 483,686 485,685 488,681 488,676 490,676 492,672 494,670 496,668 498,665 503,665 508,665 509,668 512,672 512,673 513,676 512,681 512,681 510,686 508,687 M458,785 457,784 454,780 454,780 449,777 448,776 444,774 441,776 440,776 436,779 435,780 432,784 431,785 429,784 426,783 422,783 418,781 416,780 413,777 412,776 413,773 414,771 413,769 412,766 413,763 414,762 415,758 418,757 422,757 425,753 426,752 431,749 431,748 433,744 432,740 433,735 431,733 429,730 429,726 427,722 426,720 426,717 422,713 422,712 421,708 420,704 422,701 424,699 425,694 426,690 426,690 430,686 431,685 436,683 440,683 444,684 449,683 452,681 454,677 454,676 458,674 462,676 467,676 472,675 473,676 475,681 476,682 480,686 480,686 483,690 483,694 483,699 485,701 490,701 492,704 494,705 498,707 500,708 501,712 503,716 504,717 507,722 506,726 508,730 508,730 508,735 508,735 507,740 507,744 504,748 504,753 503,754 498,757 498,758 494,759 492,762 490,766 490,767 485,771 485,772 480,773 476,774 473,771 472,770 467,768 466,766 467,765 468,762 467,761 465,762 462,764 461,766 462,769 465,771 465,776 462,778 461,780 459,784 458,785 M534,687 530,686 530,686 528,681 529,676 530,675 534,674 538,676 539,677 543,681 539,685 538,686 534,687 M598,709 593,711 591,708 589,704 588,703 587,699 588,695 589,694 593,692 598,693 600,694 602,696 605,699 603,704 602,705 598,708 598,709 M588,735 588,735 587,730 587,726 588,722 588,721 593,718 598,720 598,722 598,723 595,726 597,730 593,733 589,735 588,735 M593,744 591,744 593,744 593,744 593,744 M570,781 567,780 566,780 564,776 563,771 564,766 565,762 566,759 568,758 570,755 575,754 578,758 580,760 581,762 581,766 581,771 580,774 579,776 575,779 573,780 570,781 M386,871 386,870 390,866 390,861 390,860 395,860 398,856 395,852 395,852 395,852 399,848 400,847 400,843 404,838 404,834 404,834 407,830 407,825 408,820 408,820 413,818 418,817 419,816 422,814 426,813 430,812 431,811 436,810 440,809 444,808 449,810 454,811 454,812 458,814 460,816 462,817 467,820 467,820 472,822 476,823 480,824 484,825 485,825 490,828 492,830 494,830 498,831 503,832 508,834 512,833 515,834 516,834 521,834 526,835 530,836 534,837 537,838 539,841 540,843 542,848 544,852 544,852 545,856 546,861 548,864 549,866 551,870 552,873 553,874 553,879 553,884 552,884 551,888 552,892 553,892 557,897 557,897 557,897 556,902 554,906 555,910 557,914 558,915 557,918 557,920 557,924 555,928 552,930 548,932 547,933 545,938 544,938 539,938 534,939 530,940 528,942 526,945 523,946 521,948 516,949 512,946 512,946 511,946 508,947 507,946 504,942 503,942 498,939 494,942 494,942 494,942 490,939 485,938 484,938 480,935 476,933 476,933 472,931 469,928 468,924 467,923 465,924 462,925 458,926 454,925 449,926 444,925 443,924 444,920 444,919 449,919 454,918 458,916 458,915 462,914 466,910 467,910 472,908 476,907 479,906 479,902 480,901 484,897 485,896 490,896 492,897 494,898 496,902 498,904 502,902 503,901 508,901 512,898 514,897 516,895 521,894 526,895 528,892 530,890 531,888 531,884 532,879 532,874 532,870 530,869 526,869 521,870 516,869 512,868 509,866 508,865 505,866 503,866 498,866 497,866 494,863 490,864 485,862 481,861 480,861 476,859 472,858 469,856 467,856 462,856 461,856 458,857 457,856 454,852 454,851 449,849 445,848 444,847 440,843 440,843 436,842 431,841 426,839 426,838 422,835 421,834 418,832 413,834 413,834 409,838 409,843 413,848 413,848 415,852 418,854 419,856 422,861 422,861 424,866 423,870 424,874 425,879 426,880 429,884 431,888 427,892 428,897 427,902 427,906 428,910 430,915 429,920 431,922 433,924 434,928 434,933 433,938 436,940 440,941 444,942 445,942 449,944 454,945 457,946 454,950 453,951 454,952 454,951 458,947 462,951 462,952 467,955 468,956 471,960 472,961 475,964 476,965 480,967 485,966 488,964 490,964 491,964 494,966 497,969 498,974 498,977 499,978 498,981 498,982 494,986 493,987 490,989 486,992 485,993 482,996 480,998 478,1000 478,1005 476,1007 475,1010 472,1014 471,1014 471,1018 472,1021 472,1023 474,1028 474,1032 472,1036 471,1036 469,1041 467,1045 466,1046 464,1050 462,1051 458,1054 458,1055 454,1059 454,1060 450,1064 449,1064 444,1067 442,1068 440,1071 438,1072 436,1074 431,1075 426,1075 422,1076 421,1077 418,1079 413,1081 412,1082 413,1082 415,1086 413,1090 413,1091 412,1090 408,1090 404,1088 402,1086 403,1082 403,1077 400,1074 397,1072 400,1071 401,1068 400,1066 397,1064 398,1059 395,1054 395,1054 391,1050 390,1050 387,1046 389,1041 387,1036 387,1032 386,1031 M620,933 619,928 616,925 612,924 614,920 614,915 614,910 614,906 612,902 611,897 611,897 608,892 608,888 611,885 612,884 611,882 609,879 606,876 606,874 606,873 611,871 611,870 614,866 616,863 620,863 622,861 624,858 628,856 629,856 629,856 630,861 630,866 630,870 631,874 631,879 631,884 630,888 629,892 631,897 632,902 633,906 633,910 634,912 634,915 634,916 630,920 629,924 629,925 624,928 622,928 620,933 M629,943 624,945 622,942 623,938 624,933 627,938 629,940 630,942 629,943 M620,950 619,946 620,945 623,946 620,950 M464,978 465,974 462,972 461,974 460,978 462,979 464,978 M575,991 573,987 575,986 577,987 575,991 M580,1065 579,1064 575,1059 575,1059 571,1054 571,1050 570,1048 570,1046 569,1041 570,1038 571,1036 571,1032 570,1031 568,1028 567,1023 570,1020 571,1018 571,1014 574,1010 574,1005 575,1001 575,1000 575,998 575,996 575,992 575,992 580,990 584,990 588,992 588,992 592,996 592,1000 593,1002 594,1005 593,1010 595,1014 598,1018 598,1018 599,1023 598,1028 598,1028 595,1032 595,1036 596,1041 595,1046 594,1050 593,1051 591,1054 589,1059 588,1060 584,1063 583,1064 580,1065 M539,1045 536,1041 534,1040 533,1036 532,1032 531,1028 530,1026 526,1023 530,1022 532,1018 533,1014 531,1010 530,1005 533,1000 533,996 534,995 539,993 544,992 548,994 550,996 552,1000 552,1003 553,1005 553,1010 557,1014 557,1017 557,1018 561,1023 560,1028 557,1030 554,1032 552,1033 549,1036 548,1037 544,1040 542,1041 539,1045"/>
<path stroke-width="2" d="M552,236 548,237 544,239 541,236 541,231 539,226 540,222 541,218 544,216 548,215 552,215 556,218 557,219 558,222 559,226 557,231 557,232 553,236 552,236 M647,227 647,226 645,222 647,219 652,218 653,222 652,226 647,226 647,227 M652,234 650,231 652,228 653,231 652,234 M552,269 548,269 544,270 539,270 534,269 530,267 530,267 526,265 521,263 519,262 517,258 521,255 526,255 528,254 530,250 534,250 537,249 539,248 543,249 543,254 544,254 548,257 550,258 551,262 552,265 554,267 552,269 M570,263 569,262 570,262 571,262 570,263 M737,317 732,318 732,316 728,314 724,313 723,312 721,308 720,303 719,301 718,298 719,298 724,295 726,294 728,293 730,294 732,294 737,295 742,296 745,298 746,299 749,303 747,308 747,312 746,313 742,316 740,316 737,317 M773,315 769,312 768,312 764,311 761,308 762,303 764,302 767,298 768,297 770,298 772,303 773,305 774,308 775,312 773,315 M768,318 768,316 768,312 771,316 768,318 M714,355 710,353 706,354 704,352 702,348 706,345 709,344 708,339 710,337 714,339 714,339 716,344 717,348 717,352 714,355 M760,499 755,499 753,496 750,494 746,492 742,493 740,492 739,488 737,484 736,483 737,479 737,478 737,478 732,476 728,475 727,474 726,470 728,467 729,465 729,460 728,459 727,456 725,452 724,447 724,447 720,442 719,441 719,438 714,436 710,436 706,435 701,434 696,435 694,434 695,429 692,424 693,420 692,417 691,416 690,411 690,406 692,402 691,398 691,393 692,389 693,388 695,384 692,381 691,380 688,378 683,375 683,374 682,370 678,366 678,366 677,362 676,357 678,352 678,351 683,349 688,350 692,350 693,352 695,357 694,362 696,365 698,366 701,368 706,369 710,368 712,370 714,374 716,375 719,376 724,379 728,378 732,377 734,375 737,372 742,373 746,375 746,375 746,375 744,380 746,382 749,384 750,388 746,392 745,393 746,394 747,393 750,389 753,393 755,394 759,398 760,398 764,400 765,402 767,406 768,411 767,416 768,420 767,424 766,429 766,434 766,438 766,442 767,447 768,450 770,452 771,456 770,460 772,465 771,470 773,471 774,474 773,476 768,477 767,478 768,480 770,483 768,486 768,488 768,492 769,492 768,492 764,496 763,496 760,499 M634,394 631,393 629,392 624,391 620,388 620,388 618,384 618,380 618,375 620,373 622,370 624,366 625,366 629,362 629,362 634,358 638,359 642,359 647,361 652,361 652,362 656,365 657,366 660,370 661,370 661,375 660,376 659,380 656,383 652,384 652,384 647,385 642,388 641,388 638,390 634,393 634,394 M674,403 670,403 668,402 665,400 664,398 663,393 663,388 665,385 669,384 670,384 670,384 674,386 676,388 678,393 677,398 678,402 674,403 M755,391 751,388 755,388 759,388 755,391 M588,425 584,426 580,426 575,427 570,426 566,426 562,427 557,427 552,426 551,424 548,422 547,420 548,419 551,416 552,413 554,411 557,409 562,407 565,406 566,406 570,406 575,406 580,405 583,402 584,402 584,402 588,405 589,406 589,411 590,416 590,420 589,424 588,425 M735,402 732,401 729,402 732,404 735,402 M638,420 637,420 634,420 631,416 629,411 632,406 634,406 638,404 641,406 642,407 644,411 643,416 642,416 638,420 638,420 M634,556 629,558 624,559 620,559 616,557 611,555 610,555 607,550 606,550 603,546 604,542 604,537 606,535 608,532 611,529 612,528 614,524 616,520 616,519 619,514 620,514 622,510 622,506 624,501 624,497 625,496 624,496 621,492 620,490 619,488 620,484 620,483 620,483 619,478 619,474 619,470 620,469 622,465 623,460 624,458 625,456 624,453 624,452 624,451 629,448 630,447 632,442 634,440 637,442 638,443 639,447 640,452 640,456 641,460 640,465 638,469 638,470 638,471 638,474 638,474 636,478 634,481 630,483 631,488 631,492 634,496 634,496 634,501 635,506 634,510 634,512 633,514 634,515 635,519 635,524 637,528 638,532 638,533 641,537 641,542 640,546 638,550 638,550 634,555 634,556 M768,507 764,507 762,506 764,504 768,504 770,506 768,507 M773,512 770,510 773,508 775,510 773,512 M728,524 728,524 727,519 728,516 732,515 734,519 732,523 729,524 728,524 M593,619 588,619 584,619 580,620 575,619 570,620 568,618 566,616 564,614 562,610 561,609 561,604 562,601 562,600 562,600 561,596 562,595 566,594 568,591 570,586 570,586 572,582 574,578 570,576 568,578 566,579 564,578 562,577 557,574 552,577 552,578 548,581 544,582 544,582 539,583 534,583 530,583 526,584 521,584 516,585 512,583 509,582 508,581 503,579 500,578 498,576 498,573 495,568 494,567 492,564 492,560 493,555 494,553 495,550 498,548 502,546 503,545 508,544 512,544 516,543 521,542 526,543 530,543 534,543 539,543 541,542 544,539 546,537 548,536 550,537 552,539 557,540 558,542 562,543 566,544 567,546 568,550 570,554 573,550 574,546 575,545 580,544 581,546 584,550 585,550 584,554 580,554 578,555 576,560 576,564 577,568 575,573 576,578 580,581 580,582 581,586 582,591 584,594 588,595 590,596 593,597 595,600 597,604 597,609 595,614 593,618 593,619 M629,587 629,586 629,585 631,586 629,587 M606,646 602,645 602,645 602,640 602,636 601,632 601,627 602,626 602,627 603,632 602,636 602,640 606,644 607,645 606,646 M503,686 498,687 495,686 494,685 492,681 492,676 494,674 495,672 498,668 500,668 503,667 504,668 508,670 509,672 510,676 509,681 508,683 504,686 503,686 M480,768 476,766 476,766 472,762 471,762 468,758 467,757 462,756 459,753 458,752 457,753 457,758 455,762 454,764 449,764 444,766 440,766 436,765 432,762 432,758 433,753 436,750 437,748 440,746 444,745 447,744 446,740 444,739 440,735 440,735 436,731 435,730 434,726 433,722 434,717 433,712 431,709 430,708 430,704 429,699 430,694 431,690 432,690 436,689 440,688 444,688 449,690 453,686 454,685 457,681 458,679 462,681 463,681 467,682 472,684 473,686 476,689 476,690 478,694 479,699 479,704 480,705 485,706 490,707 491,708 494,709 497,712 498,716 499,717 503,722 502,726 503,729 504,730 504,735 505,740 504,744 503,746 500,748 498,753 498,753 494,756 492,758 490,762 490,762 485,765 483,766 480,768 M534,683 532,681 534,678 537,681 534,683 M598,705 593,704 593,704 593,703 598,700 599,704 598,705 M575,777 570,778 567,776 566,774 565,771 565,766 566,765 569,762 570,760 575,759 577,762 578,766 578,771 576,776 575,777 M426,776 422,776 420,776 420,771 422,770 424,771 426,775 427,776 426,776 M512,943 511,942 508,939 506,938 503,933 503,933 500,928 498,926 495,924 494,923 493,924 490,928 490,929 485,930 480,929 478,928 477,924 476,920 476,919 474,915 476,911 477,910 480,909 485,907 486,906 490,904 491,906 494,908 498,910 503,908 505,906 508,904 511,902 512,901 516,900 521,900 524,902 526,903 530,905 533,902 534,898 536,897 539,893 540,892 539,891 536,888 535,884 535,879 535,874 536,870 534,868 532,866 530,864 527,866 526,866 523,866 521,865 516,865 512,864 508,863 503,863 499,861 498,861 494,861 490,861 485,859 480,859 476,856 476,856 472,855 467,854 463,852 462,852 462,852 458,853 457,852 454,848 452,848 449,846 445,843 444,842 440,840 436,839 433,838 431,838 426,835 426,834 422,831 419,830 418,825 420,820 422,819 424,816 426,815 431,815 436,813 440,813 444,812 449,813 454,815 455,816 458,818 461,820 462,822 467,825 472,824 474,825 476,826 480,827 485,828 487,830 490,831 494,833 498,834 498,834 503,837 508,837 512,837 516,837 521,837 526,837 528,838 530,839 534,841 536,843 538,848 539,849 540,852 541,856 540,861 544,863 545,866 548,868 549,870 551,874 550,879 550,884 548,886 545,888 548,891 549,892 548,896 548,897 548,897 551,902 548,906 548,907 546,910 548,912 550,915 552,920 552,922 553,924 552,924 549,928 548,930 544,932 539,932 538,933 534,935 530,935 528,938 526,939 523,938 521,937 520,938 516,940 513,942 512,943 M413,825 413,825 413,825 414,825 413,825 M386,880 386,879 388,874 390,871 392,870 394,866 395,865 399,866 400,866 400,866 403,861 404,859 408,856 408,853 409,856 413,861 413,861 414,866 417,870 418,871 418,874 419,879 422,884 422,884 426,888 423,892 424,897 425,902 423,906 425,910 426,915 426,920 426,921 429,924 429,928 430,933 428,938 431,942 431,942 434,946 436,948 440,951 440,951 442,956 444,957 446,960 449,963 453,964 454,965 455,964 456,960 458,958 462,960 463,960 462,963 462,964 461,969 458,973 457,974 454,978 457,982 458,983 460,982 462,982 467,982 471,978 470,974 472,972 476,969 480,970 483,969 485,968 490,967 494,968 494,969 496,974 496,978 496,982 494,984 490,987 490,987 485,990 480,991 480,992 478,996 476,999 475,1000 474,1005 472,1009 471,1010 469,1014 469,1018 470,1023 471,1028 472,1032 472,1032 472,1032 468,1036 467,1038 465,1041 462,1043 460,1046 458,1050 458,1050 454,1054 453,1054 449,1057 446,1059 444,1060 440,1063 439,1064 436,1068 436,1069 431,1069 426,1070 422,1070 418,1072 413,1072 408,1069 408,1068 404,1065 403,1064 401,1059 400,1054 400,1054 397,1050 395,1047 394,1046 393,1041 392,1036 391,1032 390,1030 388,1028 388,1023 386,1022 M616,894 612,892 615,888 616,886 618,884 618,879 619,874 620,873 622,874 624,878 625,879 624,879 622,884 623,888 620,891 618,892 616,894 M629,911 624,912 624,910 620,906 623,902 624,899 626,902 629,905 629,906 629,910 629,911 M440,950 439,946 440,946 442,946 440,950 M444,954 440,951 444,949 446,951 444,954 M548,1032 546,1032 544,1032 540,1028 542,1023 541,1018 539,1015 538,1014 536,1010 534,1006 534,1005 534,1004 536,1000 538,996 539,996 540,996 544,998 548,999 549,1000 550,1005 549,1010 551,1014 551,1018 551,1023 552,1026 553,1028 552,1028 548,1032 548,1032 M580,1058 577,1054 578,1050 575,1046 575,1046 575,1044 575,1041 575,1040 574,1036 575,1036 577,1032 575,1029 573,1028 573,1023 574,1018 574,1014 575,1013 577,1010 578,1005 579,1000 579,996 580,995 583,996 584,997 587,1000 588,1002 590,1005 588,1009 588,1010 587,1014 588,1015 592,1018 593,1020 595,1023 593,1025 591,1028 591,1032 591,1036 592,1041 590,1046 589,1050 588,1051 584,1054 583,1054 580,1058"/>
<path stroke-width="1" d="M552,232 548,233 545,231 544,229 542,226 541,222 544,218 545,218 548,217 552,217 553,218 557,222 556,226 554,231 552,232 M534,262 530,260 528,258 530,257 534,255 538,258 534,262 M544,264 539,263 537,262 539,261 544,261 545,262 544,264 M737,309 732,311 728,310 726,308 726,303 724,298 728,297 732,297 737,297 740,298 742,302 743,303 742,305 739,308 737,309 M688,365 683,362 683,362 683,361 685,357 688,356 689,357 688,362 688,365 M629,390 625,388 624,388 620,384 621,380 621,375 624,370 624,370 628,366 629,365 633,362 634,361 635,362 638,362 642,362 647,365 652,365 653,366 656,370 656,371 657,375 656,377 654,380 652,381 647,383 646,384 642,385 638,387 634,388 633,388 629,390 M710,387 706,387 704,384 704,380 705,375 706,374 707,375 710,378 714,378 716,380 714,382 713,384 710,387 M674,399 670,401 665,398 665,398 664,393 665,388 665,388 670,387 673,388 674,390 675,393 675,398 674,399 M724,394 719,394 714,395 712,393 714,390 719,390 724,393 724,393 724,394 M750,488 746,488 746,487 742,483 742,482 740,478 738,474 737,473 734,470 733,465 732,461 732,460 731,456 728,452 730,447 731,442 730,438 728,436 724,434 724,429 724,428 721,429 719,430 715,429 714,429 710,427 708,429 706,430 701,431 699,429 696,426 696,424 696,420 696,416 696,412 697,411 699,406 701,402 701,401 706,399 710,400 714,402 710,406 709,406 710,407 714,407 716,411 719,414 723,416 724,416 724,416 728,412 732,414 735,411 737,410 739,406 742,404 746,402 750,403 755,403 760,403 762,406 763,411 764,413 765,416 764,418 762,420 763,424 761,429 761,434 761,438 760,442 760,443 758,447 760,449 763,452 762,456 763,460 762,465 760,468 759,470 758,474 757,478 755,482 754,483 755,488 750,488 M584,422 580,422 575,424 570,420 566,421 563,420 566,417 567,416 566,411 566,411 566,411 570,410 575,410 580,409 584,408 585,411 586,416 586,420 584,422 M638,417 636,416 634,414 632,411 634,409 638,407 642,411 639,416 638,417 M557,418 557,416 557,415 561,416 557,418 M629,474 627,474 625,470 626,465 627,460 628,456 629,455 632,452 634,449 638,451 638,452 638,452 636,456 637,460 637,465 634,470 634,470 630,474 629,474 M624,489 624,488 624,486 625,488 624,489 M629,556 624,556 620,555 618,555 616,554 613,550 611,547 610,546 609,542 608,537 611,532 611,532 614,528 616,526 617,524 619,519 620,518 623,514 624,511 628,510 626,506 629,501 631,506 629,510 630,514 631,519 632,524 634,526 634,528 635,532 638,537 638,537 638,539 638,542 637,546 635,550 634,552 630,555 629,556 M544,578 539,579 534,580 530,580 526,581 521,581 516,581 512,580 509,578 508,577 503,573 503,573 498,570 498,568 494,564 494,560 495,555 497,550 498,550 503,547 508,546 512,546 515,546 516,546 520,546 521,546 521,546 526,545 527,546 530,548 534,547 539,548 544,548 545,550 548,554 552,555 552,555 553,555 553,550 557,547 561,550 562,555 562,555 565,560 566,560 568,564 570,568 566,572 562,573 562,573 561,573 557,570 552,571 548,572 546,573 545,578 544,578 M588,615 584,615 580,617 575,614 575,613 572,609 570,605 569,604 569,600 570,599 575,596 579,600 580,600 582,600 584,600 588,600 589,600 593,603 594,604 594,609 593,610 590,614 588,615 M503,683 498,683 496,681 496,676 498,672 498,671 503,670 506,672 507,676 506,681 503,683 M480,762 476,762 476,762 472,758 471,758 467,753 466,753 463,748 462,748 459,744 458,741 457,740 454,736 451,735 449,733 445,730 444,729 440,729 439,726 439,722 438,717 437,712 437,708 440,705 440,704 440,700 440,699 440,698 444,694 444,694 449,694 454,694 458,694 459,694 462,696 466,694 467,693 472,693 473,694 475,699 472,701 470,704 472,705 476,704 476,703 476,704 480,708 481,708 485,709 490,712 492,712 494,713 496,717 498,721 499,722 501,726 502,730 502,735 503,740 500,744 498,746 497,748 494,753 494,753 490,756 488,758 485,761 481,762 480,762 M444,762 444,762 442,758 441,753 444,751 449,752 450,753 451,758 449,759 445,762 444,762 M570,775 567,771 569,766 570,764 574,766 575,771 570,775 M526,862 521,862 516,862 515,861 512,860 508,859 503,859 498,858 494,856 494,856 494,856 490,858 486,856 485,856 483,856 480,857 480,856 476,854 472,852 472,852 467,849 462,848 461,848 458,847 454,845 449,843 449,843 444,839 443,838 440,838 436,837 431,836 429,834 426,832 423,830 422,826 421,825 422,824 425,820 426,819 431,817 435,816 436,816 440,815 444,815 448,816 449,816 454,818 456,820 458,823 461,825 462,826 467,828 472,826 476,828 480,830 480,830 485,831 490,833 491,834 494,835 498,837 500,838 503,840 508,840 512,839 516,839 521,839 526,840 530,842 531,843 534,847 535,848 537,852 537,856 534,859 530,860 528,861 526,862 M386,885 387,884 389,879 390,876 392,874 395,873 399,870 400,870 404,869 408,866 411,870 412,874 413,879 413,879 417,884 418,885 419,888 420,892 421,897 422,902 421,906 422,909 422,910 423,915 422,919 422,920 422,920 424,924 425,928 425,933 425,938 425,942 426,945 428,946 431,950 432,951 435,956 436,956 437,960 440,963 442,964 444,968 445,969 444,970 442,974 442,978 444,982 444,983 449,986 454,985 458,985 462,985 467,986 472,986 473,987 476,990 477,992 476,993 475,996 473,1000 472,1004 471,1005 467,1009 466,1010 465,1014 466,1018 467,1020 468,1023 469,1028 469,1032 467,1034 465,1036 462,1040 460,1041 458,1044 456,1046 454,1048 449,1050 449,1050 447,1050 444,1050 440,1048 438,1046 436,1041 433,1046 431,1049 431,1050 431,1052 434,1054 433,1059 432,1064 431,1064 426,1064 422,1064 418,1067 413,1068 408,1065 407,1064 404,1059 404,1059 404,1054 401,1050 401,1046 400,1044 398,1041 396,1036 395,1032 395,1032 395,1031 400,1028 400,1028 400,1027 398,1023 398,1018 395,1016 392,1014 390,1013 386,1011 M544,885 539,884 539,883 538,879 538,874 539,871 541,870 544,868 545,870 547,874 547,879 545,884 544,885 M386,917 387,915 388,910 388,906 387,902 386,899 M534,929 530,930 527,928 526,927 524,928 521,930 516,930 515,928 512,925 508,925 507,924 508,922 510,920 508,918 506,920 503,921 498,920 498,920 498,919 502,915 503,914 508,913 512,911 512,910 516,906 516,906 521,906 521,906 523,910 521,913 520,915 521,918 523,915 526,913 530,914 532,915 534,919 536,915 539,913 544,914 545,915 544,917 541,920 539,924 539,924 536,928 534,929 M544,925 539,924 544,923 544,924 544,925 M386,941 387,938 388,933 387,928 386,926 M490,985 485,986 480,986 476,984 475,982 474,978 476,974 476,974 480,972 485,970 490,970 494,974 494,976 494,978 494,979 493,982 490,985 M386,980 388,978 386,974 M544,1012 541,1010 539,1007 538,1005 539,1000 539,1000 541,1000 544,1003 544,1005 545,1010 544,1012 M588,1023 584,1026 580,1027 577,1023 578,1018 579,1014 580,1012 581,1014 584,1015 588,1018 588,1022 589,1023 588,1023 M584,1036 583,1032 584,1029 586,1032 584,1036 M588,1041 584,1044 580,1041 579,1041 580,1041 584,1037 586,1036 588,1036 589,1036 589,1041 588,1041"/>
<path stroke-width="1" d="M552,228 548,230 545,226 544,223 543,222 544,221 548,219 552,220 555,222 554,226 552,228 M732,303 732,303 732,303 733,303 732,303 M634,386 629,386 625,384 624,384 623,380 624,377 625,375 627,370 629,369 632,366 634,365 638,365 642,364 645,366 647,368 650,370 652,373 653,375 652,377 647,379 647,380 642,383 638,384 637,384 634,386 M670,398 669,398 667,393 670,390 672,393 670,398 670,398 M638,411 637,411 638,411 638,411 638,411 M755,474 750,476 746,476 743,474 742,473 738,470 737,466 737,465 735,460 735,456 734,452 733,447 737,443 737,442 740,438 738,434 737,431 736,429 737,428 739,424 739,420 742,416 742,416 743,411 746,408 750,408 755,409 757,411 757,416 756,420 756,424 756,429 755,430 752,434 750,436 749,438 750,442 751,442 750,444 746,446 745,447 746,448 750,449 751,452 755,454 757,456 758,460 758,465 755,469 755,470 755,473 755,474 755,474 M580,417 575,416 574,416 575,415 580,414 581,416 580,417 M710,421 706,423 703,420 702,416 706,412 710,416 710,416 712,420 710,421 M737,417 736,416 737,415 740,416 737,417 M752,420 750,418 749,420 750,421 752,420 M755,439 752,438 755,436 756,438 755,439 M624,554 620,552 617,550 616,548 615,546 613,542 612,537 614,532 616,531 619,528 619,524 620,522 624,521 629,522 630,524 631,528 632,532 634,535 635,537 635,542 634,546 634,547 629,550 629,550 624,554 M526,578 521,578 516,578 515,578 512,576 508,573 508,573 503,570 501,568 498,566 497,564 496,560 496,555 498,552 500,550 503,549 508,548 512,548 516,548 521,549 526,548 530,550 534,550 535,550 539,554 541,555 544,558 548,559 548,560 548,561 547,564 547,568 544,571 542,573 539,575 534,576 530,577 529,578 526,578 M557,564 556,564 557,564 557,564 557,564 M584,610 582,609 584,607 586,609 584,610 M480,759 476,758 476,757 472,755 470,753 467,749 467,748 464,744 462,742 461,740 460,735 458,734 454,730 455,726 454,722 453,722 449,717 449,717 444,715 442,712 442,708 443,704 444,701 449,699 449,699 449,699 454,700 458,700 462,701 467,704 467,704 471,708 472,708 476,710 480,711 484,712 485,713 490,714 494,717 494,717 497,722 498,725 499,726 500,730 500,735 500,740 498,741 497,744 495,748 494,750 490,753 490,753 485,757 484,758 480,759 M570,772 570,771 570,770 571,771 570,772 M530,858 526,859 521,860 516,859 512,858 509,856 508,856 503,855 498,854 494,853 490,854 485,854 480,853 478,852 476,851 472,849 470,848 467,845 462,844 460,843 458,841 454,840 451,838 449,838 444,836 440,835 436,835 433,834 431,833 426,830 426,830 425,825 426,823 429,820 431,820 436,818 440,818 444,818 449,819 451,820 454,823 456,825 458,828 459,830 462,832 467,831 472,830 476,830 480,832 485,834 485,834 490,836 494,838 496,838 498,841 503,842 508,842 512,842 516,842 521,842 526,843 526,843 530,846 532,848 534,852 532,856 530,858 M386,989 387,987 389,982 390,981 393,978 394,974 392,969 390,967 389,964 389,960 388,956 388,951 388,946 389,942 389,938 390,933 389,928 388,924 388,920 389,915 390,910 390,906 389,902 388,897 388,892 387,888 389,884 390,881 392,879 395,876 399,874 400,874 401,874 404,877 407,879 408,880 412,884 413,886 414,888 416,892 417,897 418,900 418,902 418,906 419,910 419,915 419,920 419,924 421,928 422,932 422,933 422,937 422,938 420,942 422,944 424,946 425,951 426,954 427,956 430,960 431,960 436,964 436,964 439,969 438,974 437,978 437,982 439,987 437,992 440,994 444,995 449,995 454,993 454,992 458,988 462,988 467,989 471,992 472,993 472,996 472,999 471,1000 467,1005 467,1005 463,1010 462,1010 462,1010 458,1008 454,1010 458,1011 461,1014 462,1015 464,1018 466,1023 467,1028 466,1032 463,1036 462,1037 458,1040 457,1041 454,1044 449,1045 444,1043 442,1041 440,1038 439,1036 436,1033 431,1032 428,1036 427,1041 426,1042 425,1046 426,1050 427,1050 427,1054 426,1055 423,1059 422,1060 418,1062 413,1061 411,1059 408,1056 408,1054 407,1050 406,1046 407,1041 408,1039 410,1036 411,1032 413,1028 413,1028 413,1027 411,1023 408,1021 407,1018 406,1014 404,1012 400,1012 395,1011 392,1010 390,1009 387,1005 386,1004 M544,876 542,874 544,873 544,874 544,876 M485,984 481,982 480,982 477,978 480,974 480,973 485,972 490,973 491,974 491,978 490,982 489,982 485,984 M451,1005 449,1004 447,1005 449,1007 451,1005 M442,1010 440,1006 439,1010 440,1014 442,1010"/>
<path stroke-width="1" d="M548,227 547,226 546,222 548,221 552,222 553,222 552,223 550,226 548,227 M642,381 638,382 634,383 629,383 626,380 627,375 629,373 631,370 634,368 638,367 642,367 646,370 647,373 648,375 647,376 644,380 642,381 M750,472 746,472 743,470 742,468 740,465 738,460 739,456 742,453 746,453 750,456 751,456 754,460 755,465 752,470 750,472 M629,547 624,549 620,547 619,546 617,542 616,539 615,537 616,536 620,533 621,532 624,529 627,532 629,535 630,537 630,542 630,546 629,547 M534,573 530,575 526,575 521,575 516,575 512,573 512,573 508,570 505,568 503,567 499,564 498,562 498,560 498,555 498,554 503,550 503,550 508,549 512,549 516,550 519,550 521,551 526,551 530,553 532,555 534,557 539,558 540,560 544,564 544,564 544,564 540,568 539,570 535,573 534,573 M485,754 480,755 476,754 473,753 472,751 470,748 469,744 467,741 466,740 464,735 462,733 458,731 458,730 458,730 459,726 458,723 458,722 458,717 454,714 452,712 449,709 448,708 447,704 449,703 453,704 454,704 458,705 462,708 462,708 467,711 472,712 476,712 476,712 480,714 485,715 490,716 491,717 494,720 495,722 497,726 498,730 498,734 499,735 498,736 497,740 495,744 494,746 492,748 490,750 486,753 485,754 M449,834 444,833 440,833 436,832 431,830 430,830 431,825 431,825 435,820 436,820 440,820 443,820 444,821 449,823 451,825 453,830 449,834 M485,852 485,852 480,850 476,848 475,848 472,843 470,843 469,838 468,834 472,833 476,833 478,834 480,835 484,838 485,839 490,841 492,843 493,848 490,849 486,852 485,852 M521,857 517,856 516,856 512,853 508,852 507,852 503,849 498,850 495,848 498,846 503,847 508,845 512,845 516,845 521,845 526,846 527,848 530,849 532,852 530,855 526,856 523,856 521,857 M431,1016 426,1016 422,1015 418,1015 416,1014 413,1011 409,1010 408,1009 404,1007 401,1005 400,1004 398,1005 395,1006 394,1005 390,1001 390,1000 390,996 390,992 391,992 391,987 395,982 395,982 400,980 404,979 406,978 404,975 401,974 400,972 397,969 395,967 394,964 392,960 392,956 391,951 392,946 394,942 395,938 393,933 392,928 392,924 390,921 390,920 390,918 392,915 392,910 392,906 391,902 391,897 390,894 390,892 390,888 390,887 392,884 395,880 397,879 400,878 400,879 404,883 405,884 408,886 410,888 412,892 413,894 415,897 415,902 415,906 415,910 416,915 415,920 415,924 413,928 415,933 413,935 410,938 408,942 408,942 408,946 408,947 409,946 413,944 417,946 418,947 419,951 422,956 422,957 422,960 426,964 429,964 431,966 433,969 431,973 429,974 426,976 425,978 422,980 419,982 418,987 418,987 417,992 418,992 422,996 422,996 426,997 430,1000 430,1005 431,1007 433,1010 432,1014 431,1016 M485,980 483,978 485,977 487,978 485,980 M462,1003 458,1001 457,1000 455,996 457,992 458,990 462,990 466,992 467,993 469,996 467,999 466,1000 462,1003 M454,1041 451,1041 449,1041 444,1037 444,1036 441,1032 440,1028 439,1028 440,1026 441,1023 444,1018 444,1018 449,1016 454,1014 458,1016 461,1018 462,1020 464,1023 465,1028 464,1032 462,1034 460,1036 458,1038 454,1041 454,1041 M436,1024 431,1024 429,1023 431,1021 436,1022 437,1023 436,1024 M413,1055 413,1054 412,1050 413,1047 415,1046 418,1044 420,1046 418,1050 418,1050 414,1054 413,1055"/>
<path stroke-width="1" d="M638,380 634,381 629,380 629,380 629,378 631,375 634,372 636,370 638,370 641,370 642,375 638,380 638,380 M750,468 746,469 743,465 742,461 741,460 742,460 745,456 746,456 747,456 750,459 752,460 752,465 750,468 M534,569 534,568 530,568 529,568 526,572 521,573 516,571 512,570 511,568 508,567 503,565 502,564 500,560 500,555 503,552 508,551 512,551 516,552 521,554 525,555 526,555 530,557 534,560 534,560 536,564 535,568 534,569 M485,751 480,751 476,751 473,748 472,744 472,743 470,740 468,735 467,731 466,730 465,726 465,722 466,717 467,716 472,716 476,716 480,717 485,717 485,717 490,719 492,722 494,725 495,726 495,730 496,735 495,740 494,742 492,744 490,747 488,748 485,751 M444,830 440,830 437,830 436,827 435,825 436,824 440,823 444,824 446,825 447,830 444,830 M480,846 476,845 475,843 475,838 476,837 479,838 480,840 484,843 480,846 M521,853 517,852 521,849 525,852 521,853 M404,935 400,936 397,933 397,928 396,924 396,920 397,915 396,910 396,906 395,905 394,902 394,897 394,892 394,888 395,884 395,883 396,884 400,885 403,888 404,890 407,892 408,894 411,897 411,902 410,906 412,910 412,915 412,920 411,924 410,928 408,931 407,933 404,935 M413,965 408,965 404,966 400,966 398,964 395,960 395,959 394,956 395,951 395,950 400,948 404,946 404,946 404,946 408,950 413,950 414,951 414,956 413,957 411,960 413,964 414,964 413,965 M413,1006 412,1005 408,1003 404,1002 401,1000 400,998 396,996 396,992 400,988 401,987 404,983 408,985 410,987 412,992 413,994 415,996 416,1000 415,1005 413,1006 M422,1001 422,1000 422,1000 422,1000 422,1001 M458,1035 454,1036 449,1035 444,1032 444,1032 444,1032 445,1028 445,1023 449,1020 453,1018 454,1018 458,1018 458,1018 461,1023 462,1025 464,1028 462,1031 462,1032 458,1035"/>
<path stroke-width="2" d="M746,465 746,465 746,465 746,465 746,465 M530,565 526,566 521,567 516,566 512,565 508,564 507,564 503,561 502,560 502,555 503,554 508,553 512,553 516,555 517,555 521,558 526,559 528,560 530,561 532,564 530,565 M472,724 471,722 472,721 473,722 472,724 M485,747 480,748 476,747 475,744 473,740 472,735 472,732 471,730 472,730 472,726 476,723 477,722 480,720 485,720 488,722 490,723 491,726 493,730 494,734 494,735 494,736 493,740 490,743 489,744 485,747 M404,916 403,915 403,910 401,906 400,904 398,902 399,897 400,896 404,896 405,897 406,902 406,906 407,910 405,915 404,916 M404,928 401,924 404,921 406,924 404,928 M408,956 404,958 400,956 404,954 408,955 409,956 408,956 M454,1033 449,1032 448,1032 447,1028 449,1024 450,1023 454,1022 458,1023 458,1023 461,1028 458,1032 458,1032 454,1033"/>
<path stroke-width="1" d="M508,560 506,560 508,558 510,560 508,560 M480,745 479,744 477,740 476,738 475,735 476,731 476,730 480,728 481,726 485,723 488,726 490,729 490,730 491,735 490,738 488,740 485,742 483,744 480,745 M454,1029 452,1028 454,1026 455,1028 454,1029"/>
</g>
<g fill="none" stroke="#fff" stroke-width="1" shape-rendering="crispEdges">
<polyline points="387,147.5 447,148.34 527,149.06 667,149.5 740,149.35 812,148.9" />
<polyline points="387,363.8 447,364.64 527,365.36 667,365.8 740,365.68 812,365.3" />
<polyline points="387,578.8 447,579.64 527,580.36 667,580.8 740,580.70 812,580.4" />
<polyline points="387,794.5 447,795.26 527,795.90 667,796.3 740,796.17 812,795.8" />
<polyline points="387,1009.5 447,1010.26 527,1010.90 667,1011.3 740,1011.20 812,1010.9" />
<line x1="503.8" y1="133" x2="493.6" y2="1115"/>
<line x1="667" y1="133" x2="667" y2="1115"/>
</g>
<g fill="none" stroke="#fff" stroke-width="2" shape-rendering="crispEdges" stroke-dasharray="15.9 6.33">
<line x1="405" y1="151" x2="794" y2="151" stroke-dashoffset="9.23"/>
<line x1="406" y1="150" x2="406" y2="1097" stroke-dashoffset="4.44"/>
<line x1="793" y1="150" x2="793" y2="1097" stroke-dashoffset="17.14"/>
<line x1="405" y1="1096" x2="794" y2="1096" stroke-dashoffset="0"/>
</g>
<g fill="none" stroke="#000" stroke-width="2" stroke-linejoin="round" stroke-linecap="round" shape-rendering="crispEdges">
<path d="M555.6,133 L554.7,150.7 L553,168.5 L547.6,186.2 L541.4,194.2 L536,195 L529,200.4 L522,203 L514.8,199.6 L507.7,200.4 L502.4,204 L498,214.6 L491.7,223.5 L481,229.7 L480.2,234.2 L483.7,237.7 L490,239.5 L492.6,248.4 L493.5,257.2 L491.7,269.7 L495.3,275 L500.6,280.3 L504,287.4 L504,301.6 L502.4,315.8 L500.6,330 L498.3,335 L494.2,345 L490,351.7 L485,359.2 L480,365.8 L475,370 L469.2,373.3 L466.7,372.1 L463.3,369.2 L458.3,367.1 L453.3,365.4 L451.7,361.7 L450.8,359.6 L451,364 L451.7,371.7 L453.3,378.3 L455.8,384.2 L457.5,390 L460,393.3 L464.2,394.6 L467.5,393.3 L470.8,394.2 L474.2,393.3 L475.8,390 L477.5,386.7 L481.7,385 L486.7,384.6 L491.7,385.8 L495,388.3 L498.3,391.7 L501.7,396.7 L505,402.5 L507.5,409.2 L510,415.8 L513.3,421.7 L516.2,428 L514,431 L511.2,435.5 L509.5,453.2 L507.7,471 L506,488.7 L502.4,506.5 L493.5,515.4 L486.4,520.7 L484.6,526 L482.8,536.6 L479.3,552.6 L475.7,570.4 L470.4,591.7 L465.1,609.4 L458,623.6 L447.3,636 L436.7,643.1 L431.4,650.2 L422.5,668 L415.4,685.7 L408.3,703.5 L404.7,723 L401.2,748.6 L397.6,762.8 L390.5,775.2 L386,779.5"/>
<path d="M607.6,133 L610.4,151.8 L613.3,170.5 L619,181.8 L628.3,185.5 L635.8,181.8 L641.4,174.3 L643.3,166.8 L642.3,161 L643.3,153.6 L646,147 L650.8,148 L656.4,150.8 L662,151.8 L667.6,157.4 L673.3,166.8 L678.9,174.3 L686.4,177 L693.9,172.4 L699.5,161 L703.3,151.8 L705.1,142.4 L706,133"/>
<path d="M730.4,133 L731.4,151.8 L733.3,179.9 L737,208 L740.8,226.8 L746.4,241.8 L755.8,249.3 L765.1,251 L772.6,260.5 L782,273.6 L789.5,283 L795.1,296.1 L802.6,311.1 L808.3,324.3 L813,332"/>
<path d="M813,540 L802.6,554 L793.3,563.5 L785.8,571 L783.3,576.7 L778.3,591.7 L779,600 L778.3,610 L773,604 L770,601.7 L765,599 L763.3,600 L766.7,607 L766.7,613.3 L762,616 L760,620 L756,623 L753.3,626.7 L757,632 L760,640 L756.7,646.7 L753,645 L750,646.7 L745,648 L741.7,651.7 L744,655 L743.3,660 L748,661 L753.3,663.3 L747,664 L740,666.7 L741,671 L738.3,676.7 L742,674 L746.7,675 L748,679 L750,683.3 L754,686 L756.7,690 L755,693 L753.3,696.7 L749,699 L746.7,701.7 L748,706 L750,710 L754,713 L758.3,716.7 L760,721 L763.3,726.7 L762,730 L765,733.3 L761,735 L758.3,736.7 L754,732 L750,728.3 L746,726 L741.7,723.3 L738,720 L735,716.7 L732,713 L730,710 L724,708 L716.7,706.7 L708.3,706.7 L701.6,710.3 L694.5,716 L688.7,720.3 L683,723.2 L675.8,727.5 L671.5,733.2 L667.2,739 L663,746.1 L658.6,754.7 L654.5,774.5 L651.7,783.9 L651.7,797 L652.6,810 L656.4,823 L662,834.5 L665.8,843.9 L667.6,853.3 L669.5,868.3 L671.4,883.3 L673.3,902 L673.3,918 L672.3,936.8 L667.6,974.3 L664.8,989.3 L663,1002.4 L662,1011.8 L656.4,1021 L647,1026.8 L633.9,1034.3 L630.1,1045.5 L622.6,1054.9 L618.9,1068 L615.1,1083 L607.6,1098 L602,1116"/>
<path stroke-width="1.8" d="M488.3,372.5 L497,378 L498,385 M496.5,371 L493,377 M513.3,365 L511.7,371.7 L508.3,376.7 L504.2,379.2 L501,380 L509,380 L509.2,388.3 L505.8,384.2 L501.7,381.7"/>
<path stroke-width="1.8" d="M556.5,137 L560,139 L566,141 L571,143 L570,144.5 L564,144 L560,148 L557,148.5"/>
<path stroke-width="2" d="M718.3,183.6 L725.8,185.5 L726.7,193 L724.8,200.5 L722,208 L718.3,211.8 L714.5,211.8 L713.6,206.1 L718.3,204.3 L720.1,198.6 L719.2,193 L718.3,187.4 Z"/>
<path stroke-width="2" fill="#000" d="M420,533 L423,531 L426,532 L425,536 L421,536 Z"/>
</g>

<g fill="#fff">
<circle cx="618.1" cy="205.75" r="3.2"/>
<text x="625.9" y="212.0" font-family="Liberation Sans, Arial, sans-serif" font-size="16.6" stroke="#fff" stroke-width="0.6">AomoriAP</text>
<circle cx="730.1" cy="213.3" r="3.2"/>
<text x="738.75" y="219.0" font-family="Liberation Sans, Arial, sans-serif" font-size="16.6" stroke="#fff" stroke-width="0.6">MisawaAD</text>
<circle cx="691.5" cy="488" r="3.2"/>
<text x="700" y="494.0" font-family="Liberation Sans, Arial, sans-serif" font-size="16.6" stroke="#fff" stroke-width="0.6">HanamakiAP</text>
<circle cx="656.7" cy="743.3" r="3.2"/>
<text x="666.3" y="749.8" font-family="Liberation Sans, Arial, sans-serif" font-size="16.6" stroke="#fff" stroke-width="0.6">KasuminomeAD</text>
<circle cx="637.4" cy="794" r="3.2"/>
<text x="646.3" y="800.2" font-family="Liberation Sans, Arial, sans-serif" font-size="16.6" stroke="#fff" stroke-width="0.6">KakudaGP</text>
<circle cx="564.1" cy="832.7" r="3.2"/>
<text x="573.3" y="838.8" font-family="Liberation Sans, Arial, sans-serif" font-size="16.6" stroke="#fff" stroke-width="0.6">FukushimaSP</text>
<circle cx="571.6" cy="960" r="3.2"/>
<text x="580" y="966.5" font-family="Liberation Sans, Arial, sans-serif" font-size="16.6" stroke="#fff" stroke-width="0.6">FukushimaAP</text>
<circle cx="494.25" cy="1018.3" r="3.2"/>
<text x="503" y="1024.7" font-family="Liberation Sans, Arial, sans-serif" font-size="16.6" stroke="#fff" stroke-width="0.6">KuroisoSF</text>
<circle cx="486.4" cy="1078.8" r="3.2"/>
<text x="495" y="1084.8" font-family="Liberation Sans, Arial, sans-serif" font-size="16.6" stroke="#fff" stroke-width="0.6">KinugawaGP</text>
</g>
</svg>
</div>

<div class="t lbl" style="left:484.7px;top:118.2px;">140E</div>
<div class="t lbl" style="left:646.9px;top:118.2px;">141E</div>
<div class="t lbl" style="left:474.5px;top:1101.7px;">140E</div>
<div class="t lbl" style="left:647px;top:1101.7px;">141E</div>
<div class="t lbl" style="left:375px;top:356.5px;">40N</div>
<div class="t lbl" style="left:371.8px;top:572px;">39N</div>
<div class="t lbl" style="left:368px;top:787.2px;">38N</div>
<div class="t lbl" style="left:363.9px;top:1002.2px;">37N</div>
<div class="t lbl" style="left:779.5px;top:358.5px;">40N</div>
<div class="t lbl" style="left:779px;top:574px;">39N</div>
<div class="t lbl" style="left:780px;top:789.4px;">38N</div>
<div class="t lbl" style="left:781px;top:1005px;">37N</div>


<div class="t" style="left:604.6px;top:1121.3px;font-size:20px;-webkit-text-stroke:0.4px #000;">Terrain contours: 500 ft</div>
<svg id="cb" width="1200" height="1200" viewBox="0 0 1200 1200" style="position:absolute;left:0;top:0;pointer-events:none" shape-rendering="crispEdges">
<rect x="144.5" y="1144.5" width="26" height="9" fill="#0000f0" stroke="#000" stroke-width="1"/>
<rect x="170.5" y="1144.5" width="25" height="9" fill="#0a32f0" stroke="#000" stroke-width="1"/>
<rect x="195.5" y="1144.5" width="26" height="9" fill="#0a50f0" stroke="#000" stroke-width="1"/>
<rect x="221.5" y="1144.5" width="25" height="9" fill="#0a82f0" stroke="#000" stroke-width="1"/>
<rect x="246.5" y="1144.5" width="26" height="9" fill="#00aaf0" stroke="#000" stroke-width="1"/>
<rect x="272.5" y="1144.5" width="26" height="9" fill="#00d2f5" stroke="#000" stroke-width="1"/>
<rect x="298.5" y="1144.5" width="25" height="9" fill="#00f8f8" stroke="#000" stroke-width="1"/>
<rect x="323.5" y="1144.5" width="26" height="9" fill="#00e6c8" stroke="#000" stroke-width="1"/>
<rect x="349.5" y="1144.5" width="25" height="9" fill="#00dca0" stroke="#000" stroke-width="1"/>
<rect x="374.5" y="1144.5" width="26" height="9" fill="#00c878" stroke="#000" stroke-width="1"/>
<rect x="400.5" y="1144.5" width="26" height="9" fill="#0ac864" stroke="#000" stroke-width="1"/>
<rect x="426.5" y="1144.5" width="25" height="9" fill="#0ab43c" stroke="#000" stroke-width="1"/>
<rect x="451.5" y="1144.5" width="26" height="9" fill="#14b414" stroke="#000" stroke-width="1"/>
<rect x="477.5" y="1144.5" width="25" height="9" fill="#46c80a" stroke="#000" stroke-width="1"/>
<rect x="502.5" y="1144.5" width="26" height="9" fill="#64d20a" stroke="#000" stroke-width="1"/>
<rect x="528.5" y="1144.5" width="26" height="9" fill="#96e000" stroke="#000" stroke-width="1"/>
<rect x="554.5" y="1144.5" width="25" height="9" fill="#c0ec00" stroke="#000" stroke-width="1"/>
<rect x="579.5" y="1144.5" width="26" height="9" fill="#e0f800" stroke="#000" stroke-width="1"/>
<rect x="605.5" y="1144.5" width="25" height="9" fill="#fafa00" stroke="#000" stroke-width="1"/>
<rect x="630.5" y="1144.5" width="26" height="9" fill="#ffe600" stroke="#000" stroke-width="1"/>
<rect x="656.5" y="1144.5" width="26" height="9" fill="#ffd700" stroke="#000" stroke-width="1"/>
<rect x="682.5" y="1144.5" width="25" height="9" fill="#ffc300" stroke="#000" stroke-width="1"/>
<rect x="707.5" y="1144.5" width="26" height="9" fill="#ffb400" stroke="#000" stroke-width="1"/>
<rect x="733.5" y="1144.5" width="25" height="9" fill="#ffa500" stroke="#000" stroke-width="1"/>
<rect x="758.5" y="1144.5" width="26" height="9" fill="#ff9600" stroke="#000" stroke-width="1"/>
<rect x="784.5" y="1144.5" width="26" height="9" fill="#ff7d00" stroke="#000" stroke-width="1"/>
<rect x="810.5" y="1144.5" width="25" height="9" fill="#ff6400" stroke="#000" stroke-width="1"/>
<rect x="835.5" y="1144.5" width="26" height="9" fill="#ff4b00" stroke="#000" stroke-width="1"/>
<rect x="861.5" y="1144.5" width="25" height="9" fill="#ff2d00" stroke="#000" stroke-width="1"/>
<rect x="886.5" y="1144.5" width="26" height="9" fill="#ff0000" stroke="#000" stroke-width="1"/>
<rect x="912.5" y="1144.5" width="26" height="9" fill="#ea0a14" stroke="#000" stroke-width="1"/>
<rect x="938.5" y="1144.5" width="25" height="9" fill="#d20028" stroke="#000" stroke-width="1"/>
<rect x="963.5" y="1144.5" width="26" height="9" fill="#b40037" stroke="#000" stroke-width="1"/>
<rect x="989.5" y="1144.5" width="25" height="9" fill="#960055" stroke="#000" stroke-width="1"/>
<rect x="1014.5" y="1144.5" width="26" height="9" fill="#80006e" stroke="#000" stroke-width="1"/>
<rect x="1040.5" y="1144.5" width="26" height="9" fill="#5a0087" stroke="#000" stroke-width="1"/>
</svg>
<div class="t ft" style="left:84.8px;">[ft]</div>
<div class="t ft" style="left:1087px;">[ft]</div>
<div class="t cbl" style="left:131.7px;">-15000</div>
<div class="t cbl" style="left:260.1px;">-12500</div>
<div class="t cbl" style="left:402.6px;top:1163px;">-10<span style="font-size:16px;position:relative;top:-9px;">4</span></div>
<div class="t cbl" style="left:521.6px;">-7500</div>
<div class="t cbl" style="left:649.7px;">-5000</div>
<div class="t cbl" style="left:777.7px;">-2500</div>
<div class="t cbl" style="left:930.5px;">0</div>
</body></html>
